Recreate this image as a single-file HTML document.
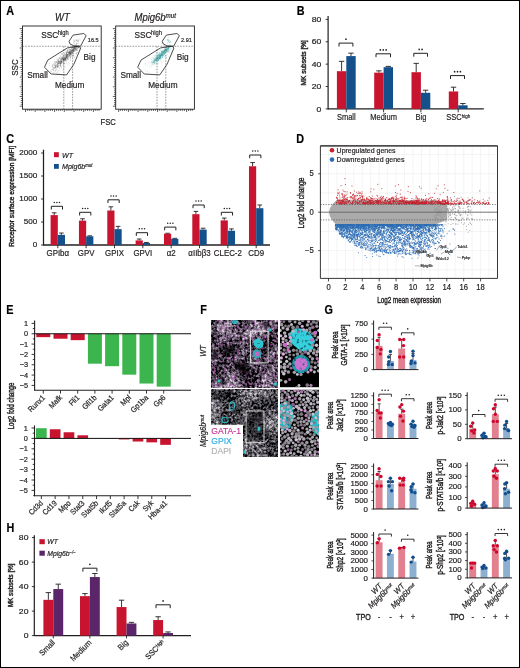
<!DOCTYPE html>
<html><head><meta charset="utf-8"><title>Figure</title>
<style>html,body{margin:0;padding:0;background:#fff;width:520px;height:668px;overflow:hidden}
svg{display:block;font-family:"Liberation Sans", sans-serif;-webkit-font-smoothing:antialiased;will-change:transform} text{stroke:#231f20;stroke-width:.2px}</style></head>
<body><svg width="520" height="668" viewBox="0 0 520 668" fill="#231f20">
<defs>
<filter id="nz1" x="0" y="0" width="100%" height="100%" color-interpolation-filters="sRGB">
 <feTurbulence type="fractalNoise" baseFrequency="0.4" numOctaves="2" seed="3" result="hi"/>
 <feTurbulence type="fractalNoise" baseFrequency="0.05" numOctaves="2" seed="21" result="lo"/>
 <feColorMatrix in="hi" type="matrix" values="1 0 0 0 0 1 0 0 0 0 1 0 0 0 0 0 0 0 0 1" result="hi2"/>
 <feColorMatrix in="lo" type="matrix" values="1 0 0 0 0 1 0 0 0 0 1 0 0 0 0 0 0 0 0 1" result="lo2"/>
 <feComposite in="hi2" in2="lo2" operator="arithmetic" k1="0" k2="1" k3="0.8" k4="-0.36" result="mix"/>
 <feComponentTransfer in="mix">
  <feFuncR type="discrete" tableValues="0 0 0 0.04 0.2 0.35 0.49 0.63 0.77 0.9"/>
  <feFuncG type="discrete" tableValues="0 0 0 0.03 0.17 0.3 0.43 0.56 0.7 0.84"/>
  <feFuncB type="discrete" tableValues="0 0 0 0.05 0.22 0.37 0.51 0.65 0.78 0.9"/>
 </feComponentTransfer>
</filter>

<filter id="nz2" x="0" y="0" width="100%" height="100%" color-interpolation-filters="sRGB">
 <feTurbulence type="fractalNoise" baseFrequency="0.42" numOctaves="2" seed="8" result="hi"/>
 <feTurbulence type="fractalNoise" baseFrequency="0.05" numOctaves="2" seed="33" result="lo"/>
 <feColorMatrix in="hi" type="matrix" values="1 0 0 0 0 1 0 0 0 0 1 0 0 0 0 0 0 0 0 1" result="hi2"/>
 <feColorMatrix in="lo" type="matrix" values="1 0 0 0 0 1 0 0 0 0 1 0 0 0 0 0 0 0 0 1" result="lo2"/>
 <feComposite in="hi2" in2="lo2" operator="arithmetic" k1="0" k2="1" k3="0.6" k4="-0.26" result="mix"/>
 <feComponentTransfer in="mix">
  <feFuncR type="discrete" tableValues="0 0 0 0.04 0.19 0.32 0.45 0.59 0.73 0.86"/>
  <feFuncG type="discrete" tableValues="0 0 0 0.04 0.18 0.31 0.44 0.58 0.72 0.85"/>
  <feFuncB type="discrete" tableValues="0 0 0 0.05 0.21 0.34 0.47 0.61 0.74 0.87"/>
 </feComponentTransfer>
</filter>

<filter id="bl1" x="-50%" y="-50%" width="200%" height="200%"><feGaussianBlur stdDeviation="0.9"/></filter>
<filter id="bl2" x="-50%" y="-50%" width="200%" height="200%"><feGaussianBlur stdDeviation="0.5"/></filter>
<filter id="bl3" x="-50%" y="-50%" width="200%" height="200%"><feGaussianBlur stdDeviation="1.6"/></filter>
<filter id="tx" x="-20%" y="-20%" width="140%" height="140%" color-interpolation-filters="sRGB">
 <feGaussianBlur in="SourceGraphic" stdDeviation="0.7" result="b"/>
 <feTurbulence type="fractalNoise" baseFrequency="0.3" numOctaves="2" seed="5" result="n"/>
 <feColorMatrix in="n" type="matrix" values="0 0 0 0 0  0 0 0 0 0  0 0 0 0 0  2.4 0 0 0 -0.1" result="a"/>
 <feComposite in="b" in2="a" operator="in"/>
</filter>
<filter id="mg" x="0" y="0" width="100%" height="100%" color-interpolation-filters="sRGB">
 <feTurbulence type="fractalNoise" baseFrequency="0.3" numOctaves="1" seed="41"/>
 <feColorMatrix type="matrix" values="0 0 0 0 0.7  0 0 0 0 0.28  0 0 0 0 0.68  5 0 0 0 -3.05"/>
</filter>
<filter id="mg2" x="0" y="0" width="100%" height="100%" color-interpolation-filters="sRGB">
 <feTurbulence type="fractalNoise" baseFrequency="0.3" numOctaves="1" seed="77"/>
 <feColorMatrix type="matrix" values="0 0 0 0 0.66  0 0 0 0 0.38  0 0 0 0 0.64  5 0 0 0 -3.45"/>
</filter>
</defs>
<rect x="0" y="0" width="520" height="668" fill="#fff"/>
<text font-size="11.86" font-weight="bold" fill="#000" transform="translate(6.3 14.6) scale(0.912 1)">A</text>
<path d="M59.34 63.29h.6M54.89 66.71h.6M70.48 52.96h.6M68.54 54.21h.6M55.27 67.1h.6M76.88 47.83h.6M73.28 47.89h.6M58.44 57.91h.6M71.97 50.91h.6M66.17 61.4h.6M62.69 57.52h.6M67.83 56.06h.6M60.53 62.28h.6M65.2 59.02h.6M63.51 58.19h.6M75.11 48.12h.6M62.66 59.18h.6M59.98 62.58h.6M73.68 49.59h.6M56.27 66.22h.6M70.31 52.01h.6M67.37 58.67h.6M73.1 50.55h.6M66.94 58.99h.6M55.16 65.94h.6M63.69 57.18h.6M65.53 55.08h.6M63.96 59.85h.6M57 62.49h.6M60.16 62.12h.6M63.49 62.06h.6M53.11 64.34h.6M58.16 60.31h.6M75.16 50.87h.6M68.74 47.61h.6M55.84 61.68h.6M57.9 64.58h.6M61.43 61.94h.6M59.33 63.36h.6M62.91 59.22h.6M73.22 54.28h.6M62.5 58.83h.6M74.6 56.82h.6M55.93 65.04h.6M72.21 50.58h.6M63.92 59.7h.6M65.9 55.71h.6M65.32 58.45h.6M60.34 61.2h.6M69.7 52.03h.6M74.32 46.63h.6M76.37 53.22h.6M64 59.82h.6M57.67 66.08h.6M69.71 55.72h.6M74.27 48.94h.6M61.73 62.99h.6M67.03 55.74h.6M59.7 58.1h.6M73.86 46.37h.6M56.02 65.15h.6M55.58 62.61h.6M68.21 58.69h.6M69.45 54.65h.6M53.97 72.41h.6M51.68 66.65h.6M58.5 63.4h.6M76.65 47.31h.6M63.86 59.19h.6M53.64 70.33h.6M66.24 54.96h.6M67.27 50.2h.6M71.59 51.45h.6M68.97 52.74h.6M65.48 54.21h.6M66.78 57.68h.6M56.87 59.04h.6M71.56 52.33h.6M65.67 56.32h.6M61.97 54.63h.6M66 57.87h.6M66.26 52.64h.6M66.37 52.71h.6M52.83 69.53h.6M61.48 59.41h.6M64.89 56.33h.6M65.17 55.79h.6M64.35 54.22h.6M58.34 65.61h.6M57.18 63.62h.6M66.17 57.28h.6M64.73 59h.6M75.52 48.62h.6M70.81 53.09h.6M70.89 50.34h.6M70.04 54.29h.6M66.35 63.37h.6M54.44 62h.6M71.22 50.94h.6M74.7 48.69h.6M60.9 63.85h.6M67.1 51.43h.6M66.29 58.44h.6M61.95 61.5h.6M74.13 51.63h.6M56.54 62.4h.6M55.38 65.62h.6M61.44 57.84h.6M52.79 70.17h.6M61.85 56.92h.6M64.87 49.89h.6M66.9 58.78h.6M59.1 62.68h.6M72.83 49.68h.6M63.8 59.99h.6M53.3 67.29h.6M77.42 50.05h.6M70.75 51.75h.6M68.14 48.82h.6M69.25 51.8h.6M57.58 67.43h.6M71.24 53.98h.6M58.46 59.5h.6M61.24 63.26h.6M53.9 64.16h.6M77.89 47.83h.6M69.28 53.23h.6M62.17 53.56h.6M71.49 50.49h.6M66.19 59.68h.6M66.77 52.45h.6M57.19 61.16h.6M68.1 55.06h.6M74.53 49.65h.6M59.95 57.66h.6M72.89 50.17h.6M54.08 67.39h.6M53.95 61.92h.6M63.12 58.95h.6M65.65 58.67h.6M70.48 57.03h.6M60.01 66.59h.6M64.02 56.7h.6M52.83 72.65h.6M63.43 59.39h.6M75.41 49.5h.6M66.07 55.31h.6M73.45 50.36h.6M69.4 52.32h.6M60.33 61.81h.6M66.23 56.31h.6M65.64 57.71h.6M64.73 58.17h.6M77.61 47.85h.6M71.73 50.5h.6M65.14 58.82h.6M57.13 60.13h.6M60.56 58.62h.6M65.84 57.49h.6M70.32 53.94h.6M71.59 47.84h.6M73.14 49.07h.6M73.59 50.21h.6M61.96 58.26h.6M76.31 44.59h.6M66.41 54.15h.6M66.17 55.99h.6M62.83 59.74h.6M56.62 66.14h.6M71.58 48.89h.6M65.98 56.75h.6M68.31 53.56h.6M69.06 54.94h.6M69.76 51.61h.6M55.06 66.97h.6M59.85 61.46h.6M58.77 61.46h.6M69.29 54.05h.6M53.18 68.53h.6M60.35 63.45h.6M75.98 53.94h.6M58.45 60.81h.6M66.1 56.64h.6M66.26 55.13h.6M51.96 64.68h.6M66.27 52.3h.6M66.9 56.4h.6M52.54 67.26h.6M74.16 48.25h.6M66.15 59.8h.6M66.39 53.75h.6M70.97 51.27h.6M65.93 56h.6M65.7 56.53h.6M68.65 53.12h.6M58.63 63.44h.6M76.96 47.93h.6M57.49 60.38h.6M70.25 53.65h.6M72.38 48.46h.6M71.24 54.41h.6M66.22 55.26h.6M67.23 56.94h.6M75.91 47.28h.6M71.07 52.43h.6M76.44 48.25h.6M58.08 66.63h.6M63.28 56.12h.6M68.77 55.14h.6M65.75 54.55h.6M75.79 48.15h.6M60.64 60.49h.6M69.55 54.96h.6M71.78 51.01h.6M69.94 55.17h.6M74.27 47.76h.6M66.61 56.36h.6M70.47 54.92h.6M65.34 59.73h.6M76.54 46.81h.6M57.25 65.24h.6M76.19 47.18h.6M76.22 46.86h.6M69.67 52.49h.6M69.26 51.51h.6M75.92 53.15h.6M76.6 48.67h.6M67.45 49.62h.6M67.11 51.93h.6M73.25 49.04h.6M55.59 65.09h.6M59.42 58.93h.6M50.15 70.89h.6M74.87 49.85h.6M65.33 59.21h.6M70.04 56.19h.6M70.21 49.73h.6M66.05 53.24h.6M76.06 43.79h.6M54.03 68.19h.6M61.45 60.9h.6M63.31 59.64h.6M70.34 50.46h.6M55.17 66.86h.6M69.59 52.45h.6M68.96 56h.6M69.92 53.59h.6M75.17 49.79h.6M75.51 48.72h.6M64.86 58.28h.6M63.72 57.49h.6M60.38 62.82h.6M69.49 51.72h.6M65.76 57.64h.6M68.61 52.64h.6M73.67 51.23h.6M75.84 47.78h.6M65.25 58.26h.6M63.38 61.91h.6M54.48 64.05h.6M52.18 66.8h.6M66.08 52.88h.6M63.88 60.77h.6M64 57.14h.6M62.53 58.31h.6M63.65 60.64h.6M56.38 69.8h.6M60.41 64.06h.6M66.2 57.71h.6M69.93 53.33h.6M63.32 59.94h.6M59.59 61.25h.6M61.93 59.44h.6M61.92 57.98h.6M57.18 64.92h.6M60.9 59.21h.6M76.66 46.19h.6M61.97 59.08h.6M70.98 50.65h.6M65.61 57.82h.6M73.62 48.15h.6M64.94 59h.6M61.12 58.97h.6M71.43 50.03h.6M73.65 45.94h.6M67.44 55.96h.6M53.58 63.85h.6M75.94 50.12h.6M68.4 54.67h.6M63.11 59.64h.6M59.98 60.7h.6M63.08 63.26h.6M57.99 61.61h.6M62.44 57.34h.6M70.96 51.9h.6M76.06 50.51h.6M61.46 62.47h.6M57.14 63.98h.6M59.68 65.01h.6M68.88 55.49h.6M67.82 59.67h.6M58.49 63.44h.6M58.7 62.13h.6M75.59 49.99h.6M60.73 59.67h.6M67.34 54.71h.6M57.05 66.94h.6M62.78 63.44h.6M73.4 52.93h.6M73.72 49.01h.6M72.01 51.98h.6M54.55 68.39h.6M58.18 66.34h.6M61.59 59.06h.6M65.18 58.22h.6M73.16 48.15h.6M72.57 52.91h.6M66.58 57.6h.6M67.47 56.83h.6M54.7 65.73h.6M62.94 62.4h.6M64.07 59.62h.6M64.22 59.69h.6M73.13 53.52h.6M69.06 49.93h.6M70.66 52.71h.6M73.45 55.28h.6M68.42 54.06h.6M65.02 59.36h.6M63.3 59.33h.6M67.78 51.66h.6M58.32 61.57h.6M62.54 59.77h.6M65.55 58.27h.6M70.06 50.86h.6M65.15 52.75h.6M64.11 58.71h.6M69.3 55.5h.6M76.14 43.75h.6M67.4 50.57h.6M61.44 59.93h.6M69.75 51.14h.6M60.8 59.32h.6M74.34 47.58h.6M71.7 51.5h.6M75.94 45.59h.6M61.82 53.83h.6M64.12 63.43h.6M58.54 62.21h.6M58.55 60.83h.6M60.13 65.36h.6M56.17 61.75h.6M70 49.87h.6M66.66 56.34h.6M70.37 53.58h.6M72.91 50.35h.6M67.07 55.75h.6M78.55 47.28h.6M71.77 52.74h.6M57.64 64.02h.6M60.94 62.2h.6M76.95 46.87h.6M55.04 67.32h.6M69.79 53.15h.6M52.5 65.72h.6M62.36 59.32h.6M60.76 61.04h.6M75.14 45.52h.6M70.76 52.58h.6M66.36 56.02h.6M72.99 55.62h.6M72.84 50.39h.6M71.12 48.57h.6M69.43 56.16h.6M72.53 50.61h.6M73.55 48.05h.6M67.11 54.87h.6M76.71 49.93h.6M69.09 53.5h.6M72.92 51.32h.6M56.11 61.65h.6M70.26 52.82h.6M61.09 62.05h.6M76.44 45.31h.6M78.32 47.33h.6M60 66.11h.6M67.39 54.92h.6M76.37 49.36h.6M65.88 56.65h.6M66.6 53.91h.6M72.77 55.77h.6M63.43 65.26h.6M59.74 63.54h.6M70.95 51.97h.6M75.71 45.76h.6M70.58 53.6h.6M55.5 68.14h.6M74.58 47.93h.6M57.45 66.9h.6M69.3 55.91h.6M66.92 56.79h.6M67.75 54.53h.6M51.51 69.67h.6M69.94 60.52h.6M74.47 47.21h.6M70.79 56.28h.6M60.81 61.64h.6M67.15 54.71h.6M67.45 54.66h.6M65 57.96h.6M70.53 53.02h.6M61.8 61.96h.6M69.91 54.37h.6M62.89 56.6h.6M74.64 48.35h.6M58.4 63.45h.6M71.52 54.07h.6M59.93 65.86h.6M78.6 47.15h.6M60.57 65.37h.6M74.15 46.65h.6M65.88 54.04h.6M69.82 53.27h.6M65.99 60.37h.6M69.02 54.54h.6M57.11 70.68h.6M69.68 53.41h.6M55.53 69.84h.6M56 66.92h.6M67.68 59.77h.6M61.78 60.72h.6M56.7 64.07h.6M63.71 58.86h.6M66.36 53.58h.6M63.22 63.21h.6M59.21 61.41h.6M67.36 54.52h.6M63.15 60.84h.6M77.3 50.57h.6M63.52 57.55h.6M67.44 54.75h.6M53.09 67.6h.6M76.82 47.14h.6M72.56 47.14h.6M58.46 59.45h.6M72.79 51.36h.6M70.4 57.56h.6M62.1 58.58h.6M73.25 49.71h.6M72.11 47.71h.6M61.44 62.04h.6M68.2 55.42h.6M63.08 59.99h.6M72.77 49.32h.6M74.84 48.06h.6M70.55 53.95h.6M74.05 50.53h.6M67.59 55.29h.6M63.18 62.43h.6M71.96 46.98h.6M64.03 58.3h.6M74.55 50.72h.6M61.39 58.24h.6M72.97 50.81h.6M66.98 54.92h.6M73.77 46.84h.6M72.72 51.29h.6M75.78 49.88h.6M70.73 51.45h.6M55.04 70.5h.6M64.31 58.27h.6M67.73 57.13h.6M72.05 52.11h.6M65.4 61.03h.6M67.4 52.25h.6M71.82 52.97h.6M59.54 61.66h.6M66.65 54.69h.6M53.89 68.35h.6M73.36 49.83h.6M66.78 50.61h.6M78.76 47.71h.6M73.19 48.58h.6M68.77 50.08h.6M65.16 60.13h.6M70.32 49.44h.6M57.49 66.15h.6M65.31 60.47h.6M60.98 61.25h.6M54.89 67.45h.6M73.76 50.96h.6M75.34 46.9h.6M61.22 61.19h.6M57 72.37h.6M68.27 52.34h.6M56.01 66.02h.6M75.7 49.67h.6M54.98 65.33h.6M73.36 50.55h.6M61.01 61.44h.6M65.86 57h.6M61.41 60.97h.6M67.42 57.19h.6M74.75 47.79h.6M57.71 65.22h.6M69.22 49.58h.6M49.01 63.3h.6M58.96 58h.6M64.12 59.5h.6M74.26 47.51h.6M58.81 62.25h.6M63.44 58h.6M69.03 49.69h.6M72.99 50.1h.6M61.15 62.81h.6M67.83 58.75h.6M72.99 53.3h.6M57.69 63.64h.6M60.27 64.15h.6M58.86 65.4h.6M71.71 50.41h.6M64.39 54.68h.6M63.71 59.57h.6M72.77 53.76h.6M70.16 53.72h.6M55.38 71.55h.6M54.59 65.34h.6M64.82 59.47h.6M68.54 52.63h.6M69.19 51.4h.6M57.97 63.16h.6M60.63 68.16h.6M72.05 50.06h.6M74.02 49.16h.6M69.39 53.06h.6M67.12 56.9h.6M74.93 48.4h.6M58.97 62.46h.6M63.47 57.87h.6M79.11 48.76h.6M61.76 62.59h.6M60.14 59.9h.6M67.75 51.03h.6M63.2 59.78h.6M76.38 49.25h.6M75.18 45.33h.6M68.25 57.39h.6M74.21 51.14h.6M60.36 63.67h.6M71.43 53.56h.6M68.43 51.63h.6M67.99 56.66h.6M58.9 62.53h.6M69.38 58.13h.6M71.96 53.46h.6M60.2 61.14h.6M75.55 45.93h.6M64.31 54.01h.6M76.86 46.31h.6M55.68 61.92h.6M59.96 63.14h.6M70.04 50.94h.6M62.92 61.47h.6M67.49 53.12h.6M64.53 57.83h.6M57.4 66.35h.6M61.11 57.33h.6M60.09 63.02h.6M61.25 53.45h.6M62.44 58.02h.6M70.16 53.69h.6M52.58 69.32h.6M69.43 52.88h.6M63.04 65.3h.6M68.34 52.36h.6M73.21 51.55h.6M65.77 54.85h.6M56.71 59.36h.6M57.07 67.02h.6M63.47 59.99h.6M55.18 64.08h.6M78.49 47.22h.6M72.22 47.44h.6M75.43 48.52h.6M69.68 52.95h.6M65.51 59.33h.6M60.95 54.38h.6M62.14 60.46h.6M75.48 47.14h.6M61.47 66h.6M66.52 51.04h.6M73.07 51.75h.6M53.5 70.27h.6M71.14 49.93h.6M52.53 69.13h.6M62.53 56.85h.6M73.81 48.02h.6M69.37 51.22h.6M57.45 66.47h.6M68.59 53.17h.6M68.33 53.02h.6M62.86 59.7h.6M72.03 51.82h.6M65.82 55.76h.6M74.55 48.16h.6M54.23 65.61h.6M56.92 67.41h.6M71.51 52.57h.6M73.12 49.57h.6M70.57 52.33h.6M69.06 52.61h.6M70.05 51.29h.6M58.37 62.05h.6M71.23 54.01h.6M65.07 60.56h.6M77.12 48.61h.6M58.4 61.72h.6M65.89 55.52h.6M57.47 64.72h.6M61.66 58.21h.6M70.3 52.1h.6M75.82 46.66h.6M68.55 53.26h.6M64.43 57.69h.6M53.11 65.87h.6M61.65 61.38h.6M75.35 47.72h.6M66.91 52.39h.6M57.38 62.37h.6M74.52 49.19h.6M60.17 64.31h.6M54.87 67.26h.6M58.35 62.27h.6M64.42 63.56h.6M78.1 46.78h.6M59.95 64.36h.6M63.53 59.82h.6M64.22 60.62h.6M59.95 58.65h.6M74.54 44.66h.6M72.66 45.51h.6M69.84 53.39h.6M60.74 62.99h.6M60.77 60.7h.6M69.45 54.26h.6M65.23 58.32h.6M67.23 57.88h.6M68.05 56.52h.6M57.68 64.14h.6M59.89 63.11h.6M70.7 49.02h.6M63.97 67.64h.6M74.25 47.67h.6M60.44 56.58h.6M60.6 63.55h.6M64.52 63.07h.6M71.43 47.8h.6M72.14 50.99h.6M63.13 68.15h.6M58.16 61.72h.6M64.77 65.97h.6M77.49 52.82h.6M70.6 57.12h.6M78.06 47.39h.6M67.55 64.78h.6M77.52 52.25h.6M61.12 67.57h.6M69.87 57.03h.6M79.91 46.39h.6M58.85 73.15h.6M58.64 61.11h.6M70.95 55.48h.6M59.21 68.23h.6M50.28 72.23h.6M62.98 55.71h.6M78.66 47.77h.6M62.65 64.94h.6M56.44 73.32h.6M64.88 57.71h.6M62.9 54.94h.6M73.18 47.97h.6M59.45 70.04h.6M49.25 65.13h.6M60.44 55.6h.6M64.29 58.75h.6M54.8 61.72h.6M73.46 51h.6M57.36 63.15h.6M74.41 57.39h.6M70.41 59.45h.6M64.47 55.77h.6M58.34 70.81h.6M50.9 71.53h.6M63.07 68.81h.6M70.06 58.08h.6M57.42 63.22h.6M72.06 56.43h.6M52.24 65.11h.6M67.27 58.51h.6M78.45 46.92h.6M56.07 68.5h.6M68.79 63.85h.6M75.89 54.06h.6M74.97 46.88h.6M65.7 54.33h.6M72.57 49.31h.6M63.53 56.03h.6M65.53 51.19h.6M68.01 62.67h.6M62.13 70.04h.6M73.1 56.11h.6M55.13 63.29h.6M59.12 58h.6M76.08 40.33h.6M77.29 41.2h.6M75.19 40.12h.6M77.99 40.2h.6M73.95 40.46h.6M78.37 41.81h.6M73.58 39.78h.6M74.1 43.72h.6M73.26 42.18h.6M78.37 41.02h.6M77.02 40.6h.6M76.33 41h.6M73.77 43.08h.6M76.52 43.16h.6M76.42 39.94h.6M77.86 39.75h.6M74.48 41.74h.6M77.62 43.5h.6M76.5 40.07h.6M76.95 41.3h.6M74.67 41.88h.6M78.82 40.01h.6M77.86 43.76h.6M80.42 40.08h.6M73.41 41h.6" stroke="#2a2a2a" stroke-width="0.7" stroke-opacity="0.38" fill="none"/>
<rect x="22.5" y="26" width="78.7" height="83.2" fill="none" stroke="#231f20" stroke-width="0.9"/>
<path d="M22.5 106.2h-2.8M22.5 104.3h-1.7M22.5 102.4h-1.7M22.5 100.5h-1.7M22.5 98.6h-1.7M22.5 96.5h-2.8M22.5 94.6h-1.7M22.5 92.7h-1.7M22.5 90.8h-1.7M22.5 88.9h-1.7M22.5 86.8h-2.8M22.5 84.9h-1.7M22.5 83h-1.7M22.5 81.1h-1.7M22.5 79.2h-1.7M22.5 77.1h-2.8M22.5 75.2h-1.7M22.5 73.3h-1.7M22.5 71.4h-1.7M22.5 69.5h-1.7M22.5 67.4h-2.8M22.5 65.5h-1.7M22.5 63.6h-1.7M22.5 61.7h-1.7M22.5 59.8h-1.7M22.5 57.7h-2.8M22.5 55.8h-1.7M22.5 53.9h-1.7M22.5 52h-1.7M22.5 50.1h-1.7M22.5 48h-2.8M22.5 46.1h-1.7M22.5 44.2h-1.7M22.5 42.3h-1.7M22.5 40.4h-1.7M22.5 38.3h-2.8M22.5 36.4h-1.7M22.5 34.5h-1.7M22.5 32.6h-1.7M22.5 30.7h-1.7M22.5 28.6h-2.8M25.5 109.2v2.8M27.4 109.2v1.7M29.3 109.2v1.7M31.2 109.2v1.7M33.1 109.2v1.7M35.2 109.2v2.8M37.1 109.2v1.7M39 109.2v1.7M40.9 109.2v1.7M42.8 109.2v1.7M44.9 109.2v2.8M46.8 109.2v1.7M48.7 109.2v1.7M50.6 109.2v1.7M52.5 109.2v1.7M54.6 109.2v2.8M56.5 109.2v1.7M58.4 109.2v1.7M60.3 109.2v1.7M62.2 109.2v1.7M64.3 109.2v2.8M66.2 109.2v1.7M68.1 109.2v1.7M70 109.2v1.7M71.9 109.2v1.7M74 109.2v2.8M75.9 109.2v1.7M77.8 109.2v1.7M79.7 109.2v1.7M81.6 109.2v1.7M83.7 109.2v2.8M85.6 109.2v1.7M87.5 109.2v1.7M89.4 109.2v1.7M91.3 109.2v1.7M93.4 109.2v2.8M95.3 109.2v1.7M97.2 109.2v1.7M99.1 109.2v1.7" stroke="#231f20" stroke-width="0.7" fill="none"/>
<line x1="22.5" y1="46.25" x2="101.2" y2="46.25" stroke="#555" stroke-width="0.6" stroke-dasharray="1.6 1.2"/>
<line x1="63.8" y1="46.25" x2="63.8" y2="109.2" stroke="#555" stroke-width="0.6" stroke-dasharray="1.6 1.2"/>
<line x1="72.6" y1="46.25" x2="72.6" y2="109.2" stroke="#555" stroke-width="0.6" stroke-dasharray="1.6 1.2"/>
<polygon points="44.5,67.2 47.8,60.1 67.4,47.9 78.8,46.2 80.8,47.9 73.9,64.2 66.6,74.9 51.1,74" fill="none" stroke="#231f20" stroke-width="0.8" stroke-linejoin="round"/>
<polygon points="69,41.3 73.1,35.1 83.7,33.5 86.2,35.6 80.5,46.2 73.9,45.9 69.9,43.8" fill="none" stroke="#231f20" stroke-width="0.8" stroke-linejoin="round"/>
<text font-size="9.04" transform="translate(41.2 37.9) scale(0.912 1)">SSC</text>
<text font-size="6.33" transform="translate(57.8 35) scale(0.912 1)">high</text>
<text font-size="6.1" transform="translate(87.8 42.2) scale(0.912 1)">16.5</text>
<text font-size="9.04" transform="translate(27.2 78.2) scale(0.912 1)">Small</text>
<text font-size="9.04" transform="translate(55 88.1) scale(0.912 1)">Medium</text>
<text font-size="9.04" transform="translate(83.6 60) scale(0.912 1)">Big</text>
<path d="M162.49 51.36h.6M156.42 57.21h.6M161.44 55.96h.6M168.6 46.48h.6M159.48 57.41h.6M166.25 46.47h.6M160.97 55.68h.6M165.52 48.5h.6M167.73 50.62h.6M162.28 57.54h.6M159.39 56.87h.6M154 63.18h.6M164.61 48.89h.6M159 56.2h.6M164.33 51.53h.6M155.77 62.03h.6M152.82 62.57h.6M157.64 58.54h.6M165.83 49.78h.6M165.85 50.84h.6M159.53 55.67h.6M154.99 60.15h.6M168.13 46.22h.6M166.33 48.28h.6M157.39 58.69h.6M158.36 58.7h.6M158.9 58.76h.6M167.14 49.43h.6M159.65 55.8h.6M165.38 50.88h.6M152.64 62.44h.6M157.33 58.01h.6M168.59 48.53h.6M150.89 62.51h.6M159.86 57.83h.6M158.21 53.03h.6M165.27 52.9h.6M159.97 58.08h.6M165.77 50.25h.6M163.66 51.47h.6M163.67 54.53h.6M162.42 54.05h.6M160.77 55.98h.6M159.74 54.9h.6M151.78 63.89h.6M157.8 57.68h.6M166.6 48.35h.6M157.36 56.65h.6M158.48 56.53h.6M154.75 59.52h.6M166.84 49.11h.6M163.23 52.9h.6M160.63 51.33h.6M155.82 58.66h.6M162.13 55.7h.6M164.48 49.39h.6M163.55 51.41h.6M158.92 57.83h.6M166.62 48.88h.6M156.17 60.15h.6M167.11 51.54h.6M155.92 55.94h.6M165.46 49.14h.6M159.07 58.44h.6M159.95 58.84h.6M162.55 51.45h.6M163.75 53.27h.6M158.21 58.02h.6M156.66 59.09h.6M156.56 58.66h.6M160.42 50.06h.6M160.68 59.96h.6M162.33 55.02h.6M166.26 47.43h.6M154 60.84h.6M165.14 52.91h.6M156.8 60.33h.6M155.16 62.58h.6M161.15 54.78h.6M156.48 59.96h.6M168.27 48.27h.6M160.3 57.6h.6M165.95 51.61h.6M162.73 53.07h.6M160.02 55.13h.6M159.75 56.09h.6M157.54 61.82h.6M154.23 60.23h.6M158.42 59.59h.6M162.81 55.09h.6M155.26 58.07h.6M162.47 54.03h.6M155.19 58.33h.6M154.59 58.51h.6M168.43 47.18h.6M160.37 56.8h.6M167.24 50.79h.6M163.9 53.29h.6M155.25 60.5h.6M161.75 54.7h.6M164.4 51.88h.6M154.48 60.63h.6M157.37 58.19h.6M155.62 58.93h.6M159.34 55.93h.6M167 48.72h.6M161.86 53.1h.6M160.26 55.01h.6M168.72 46.28h.6M152.31 59.93h.6M153.73 63.58h.6M165.61 50.61h.6M164.65 50.2h.6M166.65 50.59h.6M163.45 49.17h.6M164.78 55.88h.6M167.88 48.01h.6M161.91 54.2h.6M161.13 54.72h.6M167.13 43.27h.6M165.25 51.75h.6M161.34 52.28h.6M162.44 50.32h.6M152.09 58.36h.6M159.5 55.55h.6M164.43 52.65h.6M167.05 51.58h.6M168.44 46.49h.6M166.96 50.92h.6M160.76 55.8h.6M156.6 63.81h.6M165.49 49.98h.6M157.59 57.74h.6M157.82 59.49h.6M155.6 60.33h.6M167.89 51.68h.6M164.18 53.6h.6M160.05 53.13h.6M154.53 64.3h.6M162.56 55.45h.6M169.59 45.89h.6M163.96 52.31h.6M156.49 59.87h.6M152.95 61.48h.6M166.68 50.96h.6M160.78 55.36h.6M169.01 50.49h.6M166.11 52.22h.6M162.25 51.85h.6M156.15 57.36h.6M154.63 61.27h.6M167.98 49.73h.6M155.16 59.61h.6M159.43 57.9h.6M157.71 56.75h.6M162.1 53.29h.6M160.97 54.91h.6M166.46 49.63h.6M160.99 53.99h.6M158.05 58.98h.6M162.3 56.34h.6M155.11 60.74h.6M150.6 58.82h.6M159.83 58.28h.6M161.3 52.45h.6M160.7 61.32h.6M168.34 49.76h.6M167.3 49.05h.6M158.08 55.51h.6M163.84 54.94h.6M164.45 50.97h.6M159.58 55.21h.6M153.3 65.05h.6M158.38 55.7h.6M162.7 54.1h.6M160.78 54.63h.6M163.98 51.8h.6M156.5 60.17h.6M161.12 56.37h.6M158.79 58.79h.6M154.34 60.36h.6M171.48 46.76h.6M156.39 53.39h.6M163.55 47.59h.6M162.31 52.44h.6M155.54 60.2h.6M164.13 51.76h.6M153.41 62.27h.6M161.32 51.22h.6M165.34 46.47h.6M163.74 53.49h.6M164.12 49.95h.6M164.45 54.26h.6M153.96 56.49h.6M158.23 59.34h.6M163.71 52.16h.6M161.64 51.67h.6M157.99 58.9h.6M168.13 47.17h.6M154.26 61.97h.6M168.75 47.36h.6M163.21 51.04h.6M164.21 53.2h.6M166.52 48.74h.6M153.23 60.63h.6M162 54.13h.6M167.14 49.56h.6M162.11 54.49h.6M155.53 55.79h.6M169.55 49.75h.6M157.78 60.14h.6M158.81 58.04h.6M161 52.87h.6M160.07 57.22h.6M161.83 51.96h.6M168.04 48.89h.6M157.41 58.19h.6M165.38 52.72h.6M163.71 54.23h.6M153.39 62.13h.6M167.35 46.05h.6M167.26 46.51h.6M151.29 62.86h.6M159.05 53.09h.6M157.21 60.6h.6M161.11 52.59h.6M165.49 48.12h.6M155.59 59.42h.6M159.56 60.08h.6M161.07 51.69h.6M159.1 57.8h.6M156.89 63.67h.6M157.34 55.6h.6M162.67 55.96h.6M165.42 49.31h.6M151.16 61.79h.6M165.26 51.59h.6M161.89 51.23h.6M152.21 64.15h.6M152.39 62.21h.6M165.33 49.6h.6M168.08 46.35h.6M157.69 58.94h.6M158.66 57.51h.6M161.27 53.41h.6M161.11 54.19h.6M158.13 60.42h.6M160.02 56.05h.6M163.36 53.46h.6M170.07 47.84h.6M158.38 54.2h.6M156.95 54.17h.6M157.83 54.7h.6M160.08 56.64h.6M161.13 54.15h.6M168.17 48.31h.6M169.07 46.79h.6M167.18 46.42h.6M163.77 50.43h.6M169.21 46.58h.6M157.42 56.97h.6M157.78 59.82h.6M160.76 53.49h.6M161.55 55.25h.6M168.02 48.43h.6M160.71 55.43h.6M170.14 46.19h.6M159.31 56.75h.6M162.52 55.47h.6M168.99 51.32h.6M165.23 52.23h.6M164.66 52.84h.6M160.37 56.68h.6M163.27 52.18h.6M164.17 54.14h.6M153.67 60.9h.6M168.69 46.83h.6M159.83 50.32h.6M164.75 52.46h.6M152.74 61.43h.6M160.15 53.67h.6M167.77 50.69h.6M155.24 55.63h.6M154.96 58.81h.6M157.9 57.05h.6M164.47 56.66h.6M154.66 60.39h.6M159.91 55.71h.6M160.49 58.42h.6M161.64 57.36h.6M165.53 47.94h.6M159.78 55.23h.6M161.83 55.35h.6M156.33 59.26h.6M161.81 52.1h.6M154.04 60.4h.6M164.2 51.83h.6M161.73 51.2h.6M157.43 60h.6M163.46 51.19h.6M165.8 49.26h.6M158.81 57.51h.6M158.86 57.41h.6M160.06 55.41h.6M158.98 58.68h.6M160.8 54.14h.6M164.92 50.8h.6M162.26 56.02h.6M153.22 59.7h.6M168.53 46.96h.6M158.45 58.02h.6M166.64 52.13h.6M168.23 47.13h.6M152.5 62.53h.6M153.33 61.99h.6M159.14 55.28h.6M158.89 58.89h.6M162.12 56.76h.6M166.92 54.51h.6M167.63 48.63h.6M158.97 59.11h.6M163.19 51.99h.6M164.96 50.12h.6M162.17 55.28h.6M166.16 49.82h.6M156.52 59.43h.6M157.55 56.5h.6M158.75 54.12h.6M156.34 60.98h.6M161.84 57.36h.6M157.76 58.15h.6M166.92 51.9h.6M163.37 52.22h.6M159.49 54.68h.6M168.36 48.06h.6M158.38 60.22h.6M164.22 50.39h.6M159.07 58.37h.6M160.49 57.14h.6M157.17 56.12h.6M162.74 50.84h.6M160.3 56.39h.6M156.29 59.74h.6M154.44 58.84h.6M154.93 62.62h.6M164.75 49.54h.6M162.3 55.12h.6M163.49 50.84h.6M156.11 58.11h.6M157.5 55.53h.6M156.03 60.98h.6M159.64 58.59h.6M163.24 52.82h.6M165.72 56.54h.6M158.47 57.15h.6M161.42 55.05h.6M160.23 57.46h.6M157.81 60.17h.6M158.48 55.68h.6M155.18 59.85h.6M160.45 57.07h.6M164.9 52.62h.6M160.08 53.63h.6M156.74 57.76h.6M156.56 58.01h.6M159.09 55.55h.6M165.94 49.78h.6M159.86 55.09h.6M161.15 54.07h.6M166.21 47.85h.6M168.52 47.37h.6M162.42 53.37h.6M170.37 45.28h.6M157.85 57.05h.6M156.11 58.86h.6M155.59 59.91h.6M165.51 49.2h.6M153.75 63.03h.6M159.57 53.27h.6M163.42 53.01h.6M158.41 55.71h.6M166.34 50.75h.6M155.61 56.93h.6M151.57 61.29h.6M153.1 62.78h.6M161.16 54.44h.6M157.74 57.22h.6M163.06 53.24h.6M166.63 51.36h.6M155.19 60.22h.6M166.12 49.71h.6M162.71 58.1h.6M161.59 57.28h.6M162.54 51.59h.6M163.98 53.14h.6M162.73 52.39h.6M153.36 61.82h.6M156.11 56.52h.6M157.64 56.49h.6M154.42 61.5h.6M159.54 56.8h.6M159.54 54.21h.6M158.06 55.72h.6M160.09 55.76h.6M154.8 60.54h.6M160.96 55.42h.6M166.72 48.81h.6M156.9 59.03h.6M167.68 48.75h.6M169.28 52.45h.6M157 60.75h.6M155.9 61.7h.6M159.07 54.78h.6M156.37 58.66h.6M159.93 56.52h.6M159.51 53.71h.6M166.62 48.66h.6M163.67 49.71h.6M162.76 55.29h.6M151.59 61.44h.6M161.2 55.78h.6M160.56 55.49h.6M154.26 62.9h.6M158.37 55.44h.6M169.92 46.69h.6M159.95 57.72h.6M154.7 57.61h.6M158.06 54.76h.6M154.23 59.89h.6M167.7 47.25h.6M168.46 45.88h.6M156.84 59.72h.6M164.12 51.39h.6M154.1 58.96h.6M159.35 51.95h.6M166 49.78h.6M157.09 57.92h.6M166.28 51.05h.6M160.26 55.04h.6M158.42 55.19h.6M168.04 50.05h.6M167.05 47.72h.6M164.33 50.95h.6M162.5 57.13h.6M163.11 51.42h.6M160.7 55.86h.6M154.22 61.28h.6M159.27 58.8h.6M157.11 57.74h.6M169 46.72h.6M159.63 56.82h.6M154.54 62.98h.6M162.28 54.24h.6M159.1 57.23h.6M159.99 59.36h.6M154.37 61.01h.6M157.44 58.97h.6M159.06 52.68h.6M153.02 62.2h.6M162.92 54.68h.6M156.19 56.19h.6M158.72 57.19h.6M163.1 51.4h.6M165.72 49.66h.6M155.87 59.86h.6M162.79 52.83h.6M165.52 50.53h.6M163.45 53.21h.6M161.7 53.96h.6M168.28 47.45h.6M164.76 50.24h.6M164.26 51.34h.6M159.64 54.42h.6M163.18 52.74h.6M166.76 50.21h.6M152.21 63.22h.6M165.24 51.31h.6M168.73 48.11h.6M161.3 53.26h.6M161.38 51.49h.6M155.15 57.95h.6M156.77 59.42h.6M169.57 45.93h.6M158.7 57.95h.6M156.6 57.01h.6M160.33 57.71h.6M168.37 48.92h.6M153.64 58.67h.6M158.52 57.09h.6M167.51 50.04h.6M164.23 50.66h.6M164.34 48.5h.6M164.43 50.78h.6M163.59 55.97h.6M151.74 64.81h.6M169.99 50.2h.6M156.86 58.65h.6M169.51 44.6h.6M166.23 50.63h.6M152.97 61.01h.6M167.3 49.15h.6M165.33 49.53h.6M165.84 50.45h.6M154.13 60.15h.6M170.41 48h.6M162.61 53.71h.6M164.35 50.89h.6M160.74 53.09h.6M168.6 49.04h.6M165.03 49.98h.6M158.03 60.88h.6M157.87 60.92h.6M156.39 63.2h.6M163.51 52.19h.6M168.48 50.97h.6M159.92 58.65h.6M154.24 62.89h.6M167.03 48.5h.6M158.98 56.95h.6M161.96 52.41h.6M144.82 64.23h.6M162.1 51.36h.6M150.54 65.24h.6M171.38 48.72h.6M163.13 60.95h.6M168.87 47.25h.6M165.76 50.73h.6M155.09 69.76h.6M158.69 54.41h.6M170.7 46.76h.6M167.74 46.79h.6M160.85 54.37h.6M162.41 46.43h.6M156.23 59.68h.6M153.56 58.63h.6M161.17 62.98h.6M172.45 49.11h.6M156.6 62.15h.6M151.49 66.87h.6M144.95 66.14h.6M171.51 52.83h.6M148.54 62.66h.6M168.19 50.89h.6M166.9 46.92h.6M162.28 52.97h.6M153.87 55.63h.6M161.46 59.02h.6M168.21 52.43h.6M162.87 55.37h.6M161.75 46.95h.6M165.67 57.58h.6M145.32 70.18h.6M171.77 51.84h.6M151.06 59.37h.6M169.79 53.27h.6M152.62 57.44h.6M158.08 63.64h.6M163.23 54.87h.6M156.56 53.94h.6M143.77 69.22h.6M153.47 56.97h.6M142.9 73.24h.6M147.11 65.19h.6M168.79 56.88h.6M165.07 52.95h.6M163.78 50.17h.6M164.01 54.86h.6M160.38 56.99h.6M155.11 64.03h.6M164.72 51.07h.6M145.04 63.45h.6M149.47 66.95h.6M145.24 62.95h.6M147.59 71.81h.6M146.37 74.28h.6M147.35 71.75h.6M161.82 52.31h.6M166.26 45.93h.6M166.15 57.61h.6M149.62 63.29h.6M173.12 49.38h.6M170.44 41.51h.6M165.71 39.42h.6M168.38 40.82h.6M167.7 37.61h.6M168.6 40.13h.6M167.07 39.93h.6M168.23 39.96h.6M167.38 40.49h.6M169.13 40.16h.6M168.18 37.67h.6M167.96 41.54h.6M169.17 42.33h.6M167.61 39.75h.6M170.1 42.49h.6M169.35 42.05h.6M167.39 42.75h.6M167.95 41.37h.6M170.37 41.17h.6M167.13 39.75h.6M169.41 42.28h.6M168.81 40.39h.6M167.53 39.85h.6M168.71 42.89h.6M170.57 42.26h.6M168.45 41.72h.6" stroke="#148c8c" stroke-width="0.7" stroke-opacity="0.38" fill="none"/>
<rect x="115.7" y="26" width="78.7" height="83.2" fill="none" stroke="#231f20" stroke-width="0.9"/>
<path d="M115.7 106.2h-2.8M115.7 104.3h-1.7M115.7 102.4h-1.7M115.7 100.5h-1.7M115.7 98.6h-1.7M115.7 96.5h-2.8M115.7 94.6h-1.7M115.7 92.7h-1.7M115.7 90.8h-1.7M115.7 88.9h-1.7M115.7 86.8h-2.8M115.7 84.9h-1.7M115.7 83h-1.7M115.7 81.1h-1.7M115.7 79.2h-1.7M115.7 77.1h-2.8M115.7 75.2h-1.7M115.7 73.3h-1.7M115.7 71.4h-1.7M115.7 69.5h-1.7M115.7 67.4h-2.8M115.7 65.5h-1.7M115.7 63.6h-1.7M115.7 61.7h-1.7M115.7 59.8h-1.7M115.7 57.7h-2.8M115.7 55.8h-1.7M115.7 53.9h-1.7M115.7 52h-1.7M115.7 50.1h-1.7M115.7 48h-2.8M115.7 46.1h-1.7M115.7 44.2h-1.7M115.7 42.3h-1.7M115.7 40.4h-1.7M115.7 38.3h-2.8M115.7 36.4h-1.7M115.7 34.5h-1.7M115.7 32.6h-1.7M115.7 30.7h-1.7M115.7 28.6h-2.8M118.7 109.2v2.8M120.6 109.2v1.7M122.5 109.2v1.7M124.4 109.2v1.7M126.3 109.2v1.7M128.4 109.2v2.8M130.3 109.2v1.7M132.2 109.2v1.7M134.1 109.2v1.7M136 109.2v1.7M138.1 109.2v2.8M140 109.2v1.7M141.9 109.2v1.7M143.8 109.2v1.7M145.7 109.2v1.7M147.8 109.2v2.8M149.7 109.2v1.7M151.6 109.2v1.7M153.5 109.2v1.7M155.4 109.2v1.7M157.5 109.2v2.8M159.4 109.2v1.7M161.3 109.2v1.7M163.2 109.2v1.7M165.1 109.2v1.7M167.2 109.2v2.8M169.1 109.2v1.7M171 109.2v1.7M172.9 109.2v1.7M174.8 109.2v1.7M176.9 109.2v2.8M178.8 109.2v1.7M180.7 109.2v1.7M182.6 109.2v1.7M184.5 109.2v1.7M186.6 109.2v2.8M188.5 109.2v1.7M190.4 109.2v1.7M192.3 109.2v1.7" stroke="#231f20" stroke-width="0.7" fill="none"/>
<line x1="115.7" y1="46.25" x2="194.4" y2="46.25" stroke="#555" stroke-width="0.6" stroke-dasharray="1.6 1.2"/>
<line x1="157" y1="46.25" x2="157" y2="109.2" stroke="#555" stroke-width="0.6" stroke-dasharray="1.6 1.2"/>
<line x1="165.8" y1="46.25" x2="165.8" y2="109.2" stroke="#555" stroke-width="0.6" stroke-dasharray="1.6 1.2"/>
<polygon points="137.7,67.2 141,60.1 160.6,47.9 172,46.2 174,47.9 167.1,64.2 159.8,74.9 144.3,74" fill="none" stroke="#231f20" stroke-width="0.8" stroke-linejoin="round"/>
<polygon points="162.2,41.3 166.3,35.1 176.9,33.5 179.4,35.6 173.7,46.2 167.1,45.9 163.1,43.8" fill="none" stroke="#231f20" stroke-width="0.8" stroke-linejoin="round"/>
<text font-size="9.04" transform="translate(134.4 37.9) scale(0.912 1)">SSC</text>
<text font-size="6.33" transform="translate(151 35) scale(0.912 1)">high</text>
<text font-size="6.1" transform="translate(181 42.2) scale(0.912 1)">2.91</text>
<text font-size="9.04" transform="translate(120.4 78.2) scale(0.912 1)">Small</text>
<text font-size="9.04" transform="translate(148.2 88.1) scale(0.912 1)">Medium</text>
<text font-size="9.04" transform="translate(176.8 60) scale(0.912 1)">Big</text>
<text font-size="10.4" text-anchor="middle" font-style="italic" transform="translate(62.3 21.2) scale(0.912 1)">WT</text>
<text font-size="10.4" text-anchor="middle" font-style="italic" transform="translate(155.3 21.2) scale(0.912 1)">Mpig6b<tspan font-size="0.66em" dy="-0.42em">mut</tspan></text>
<text font-size="8.81" text-anchor="middle" transform="translate(17.6 67.5) rotate(-90) scale(0.912 1)">SSC</text>
<text font-size="8.47" text-anchor="middle" transform="translate(108.2 125) scale(0.912 1)">FSC</text>
<text font-size="11.86" font-weight="bold" fill="#000" transform="translate(296.8 15) scale(0.912 1)">B</text>
<line x1="328.1" y1="16" x2="328.1" y2="109.4" stroke="#231f20" stroke-width="1.2"/>
<line x1="328.1" y1="108.9" x2="483.8" y2="108.9" stroke="#231f20" stroke-width="1.2"/>
<line x1="325.7" y1="108.9" x2="328.1" y2="108.9" stroke="#231f20" stroke-width="0.9"/>
<text font-size="7.4" text-anchor="end" transform="translate(321.2 111.5) scale(1.160 1)">0</text>
<line x1="325.7" y1="86.52" x2="328.1" y2="86.52" stroke="#231f20" stroke-width="0.9"/>
<text font-size="7.4" text-anchor="end" transform="translate(321.2 89.12) scale(1.160 1)">20</text>
<line x1="325.7" y1="64.14" x2="328.1" y2="64.14" stroke="#231f20" stroke-width="0.9"/>
<text font-size="7.4" text-anchor="end" transform="translate(321.2 66.74) scale(1.160 1)">40</text>
<line x1="325.7" y1="41.76" x2="328.1" y2="41.76" stroke="#231f20" stroke-width="0.9"/>
<text font-size="7.4" text-anchor="end" transform="translate(321.2 44.36) scale(1.160 1)">60</text>
<line x1="325.7" y1="19.38" x2="328.1" y2="19.38" stroke="#231f20" stroke-width="0.9"/>
<text font-size="7.4" text-anchor="end" transform="translate(321.2 21.98) scale(1.160 1)">80</text>
<path d="M341.6 71.19V61.34M338.9 61.34H344.3" stroke="#231f20" stroke-width="0.9" fill="none"/>
<path d="M351 56.08V53.17M348.3 53.17H353.7" stroke="#231f20" stroke-width="0.9" fill="none"/>
<rect x="336.9" y="71.19" width="9.4" height="37.71" fill="#c8142f"/>
<rect x="346.3" y="56.08" width="9.4" height="52.82" fill="#14508a"/>
<line x1="346.3" y1="108.9" x2="346.3" y2="112.3" stroke="#231f20" stroke-width="0.9"/>
<text font-size="9" text-anchor="middle" transform="translate(346.3 119.9) scale(0.833 1)">Small</text>
<path d="M378.9 72.64V70.85M376.2 70.85H381.6" stroke="#231f20" stroke-width="0.9" fill="none"/>
<path d="M388.3 67.16V66.38M385.6 66.38H391" stroke="#231f20" stroke-width="0.9" fill="none"/>
<rect x="374.2" y="72.64" width="9.4" height="36.26" fill="#c8142f"/>
<rect x="383.6" y="67.16" width="9.4" height="41.74" fill="#14508a"/>
<line x1="383.6" y1="108.9" x2="383.6" y2="112.3" stroke="#231f20" stroke-width="0.9"/>
<text font-size="9" text-anchor="middle" transform="translate(383.6 119.9) scale(0.833 1)">Medium</text>
<path d="M416.2 72.2V63.36M413.5 63.36H418.9" stroke="#231f20" stroke-width="0.9" fill="none"/>
<path d="M425.6 92.79V90.21M422.9 90.21H428.3" stroke="#231f20" stroke-width="0.9" fill="none"/>
<rect x="411.5" y="72.2" width="9.4" height="36.7" fill="#c8142f"/>
<rect x="420.9" y="92.79" width="9.4" height="16.11" fill="#14508a"/>
<line x1="420.9" y1="108.9" x2="420.9" y2="112.3" stroke="#231f20" stroke-width="0.9"/>
<text font-size="9" text-anchor="middle" transform="translate(420.9 119.9) scale(0.833 1)">Big</text>
<path d="M453.5 91.44V87.19M450.8 87.19H456.2" stroke="#231f20" stroke-width="0.9" fill="none"/>
<path d="M462.9 105.32V103.53M460.2 103.53H465.6" stroke="#231f20" stroke-width="0.9" fill="none"/>
<rect x="448.8" y="91.44" width="9.4" height="17.46" fill="#c8142f"/>
<rect x="458.2" y="105.32" width="9.4" height="3.58" fill="#14508a"/>
<line x1="458.2" y1="108.9" x2="458.2" y2="112.3" stroke="#231f20" stroke-width="0.9"/>
<text font-size="9" text-anchor="middle" transform="translate(458.2 119.9) scale(0.833 1)">SSC<tspan font-size="0.6em" dy="-0.42em">high</tspan></text>
<path d="M339 46.5V43.1H352.9V46.5" fill="none" stroke="#231f20" stroke-width="1"/>
<circle cx="345.95" cy="39.2" r="0.85"/>
<path d="M376 57.2V53.8H390.5V57.2" fill="none" stroke="#231f20" stroke-width="1"/>
<circle cx="380.35" cy="49.9" r="0.85"/><circle cx="383.25" cy="49.9" r="0.85"/><circle cx="386.15" cy="49.9" r="0.85"/>
<path d="M413.8 56.7V53.3H427.5V56.7" fill="none" stroke="#231f20" stroke-width="1"/>
<circle cx="419.2" cy="49.4" r="0.85"/><circle cx="422.1" cy="49.4" r="0.85"/>
<path d="M450.5 79V75.6H464.5V79" fill="none" stroke="#231f20" stroke-width="1"/>
<circle cx="454.6" cy="71.7" r="0.85"/><circle cx="457.5" cy="71.7" r="0.85"/><circle cx="460.4" cy="71.7" r="0.85"/>
<text font-size="7.7" text-anchor="middle" transform="translate(306 62.8) rotate(-90) scale(0.850 1)" style="stroke-width:.42px">MK subsets [%]</text>
<text font-size="11.86" font-weight="bold" fill="#000" transform="translate(6.3 142.9) scale(0.912 1)">C</text>
<line x1="43.5" y1="149.7" x2="43.5" y2="245.6" stroke="#231f20" stroke-width="1.25"/>
<line x1="43.5" y1="245" x2="270" y2="245" stroke="#231f20" stroke-width="1.3"/>
<line x1="41.1" y1="245" x2="43.5" y2="245" stroke="#231f20" stroke-width="0.9"/>
<text font-size="7.5" text-anchor="end" transform="translate(37.3 247.1) scale(1.080 1)">0</text>
<line x1="41.1" y1="222" x2="43.5" y2="222" stroke="#231f20" stroke-width="0.9"/>
<text font-size="7.5" text-anchor="end" transform="translate(37.3 224.1) scale(1.080 1)">500</text>
<line x1="41.1" y1="199" x2="43.5" y2="199" stroke="#231f20" stroke-width="0.9"/>
<text font-size="7.5" text-anchor="end" transform="translate(37.3 201.1) scale(1.080 1)">1000</text>
<line x1="41.1" y1="176" x2="43.5" y2="176" stroke="#231f20" stroke-width="0.9"/>
<text font-size="7.5" text-anchor="end" transform="translate(37.3 178.1) scale(1.080 1)">1500</text>
<line x1="41.1" y1="153" x2="43.5" y2="153" stroke="#231f20" stroke-width="0.9"/>
<text font-size="7.5" text-anchor="end" transform="translate(37.3 155.1) scale(1.080 1)">2000</text>
<path d="M54.2 215.1V212.8M51.9 212.8H56.5" stroke="#231f20" stroke-width="0.9" fill="none"/>
<path d="M61.4 234.88V233.04M59.1 233.04H63.7" stroke="#231f20" stroke-width="0.9" fill="none"/>
<rect x="50.6" y="215.1" width="7.2" height="29.9" fill="#c8142f"/>
<rect x="57.8" y="234.88" width="7.2" height="10.12" fill="#14508a"/>
<line x1="57.8" y1="245" x2="57.8" y2="248.2" stroke="#231f20" stroke-width="0.9"/>
<text font-size="8.85" text-anchor="middle" transform="translate(57.8 256.1) scale(0.893 1)">GPIb&#945;</text>
<path d="M51.3 209.5V206.3H62.5V209.5" fill="none" stroke="#231f20" stroke-width="1"/>
<circle cx="54.3" cy="202.4" r="0.75"/><circle cx="56.9" cy="202.4" r="0.75"/><circle cx="59.5" cy="202.4" r="0.75"/>
<path d="M82.54 220.62V218.78M80.24 218.78H84.84" stroke="#231f20" stroke-width="0.9" fill="none"/>
<path d="M89.74 236.26V235.8M87.44 235.8H92.04" stroke="#231f20" stroke-width="0.9" fill="none"/>
<rect x="78.94" y="220.62" width="7.2" height="24.38" fill="#c8142f"/>
<rect x="86.14" y="236.26" width="7.2" height="8.74" fill="#14508a"/>
<line x1="86.14" y1="245" x2="86.14" y2="248.2" stroke="#231f20" stroke-width="0.9"/>
<text font-size="8.85" text-anchor="middle" transform="translate(86.14 256.1) scale(0.893 1)">GPV</text>
<path d="M79.64 215.5V212.3H90.84V215.5" fill="none" stroke="#231f20" stroke-width="1"/>
<circle cx="82.64" cy="208.4" r="0.75"/><circle cx="85.24" cy="208.4" r="0.75"/><circle cx="87.84" cy="208.4" r="0.75"/>
<path d="M110.88 210.5V206.82M108.58 206.82H113.18" stroke="#231f20" stroke-width="0.9" fill="none"/>
<path d="M118.08 229.13V226.37M115.78 226.37H120.38" stroke="#231f20" stroke-width="0.9" fill="none"/>
<rect x="107.28" y="210.5" width="7.2" height="34.5" fill="#c8142f"/>
<rect x="114.48" y="229.13" width="7.2" height="15.87" fill="#14508a"/>
<line x1="114.48" y1="245" x2="114.48" y2="248.2" stroke="#231f20" stroke-width="0.9"/>
<text font-size="8.85" text-anchor="middle" transform="translate(114.48 256.1) scale(0.893 1)">GPIX</text>
<path d="M107.98 203V199.8H119.18V203" fill="none" stroke="#231f20" stroke-width="1"/>
<circle cx="110.98" cy="195.9" r="0.75"/><circle cx="113.58" cy="195.9" r="0.75"/><circle cx="116.18" cy="195.9" r="0.75"/>
<path d="M139.22 240.4V239.02M136.92 239.02H141.52" stroke="#231f20" stroke-width="0.9" fill="none"/>
<path d="M146.42 242.93V242.47M144.12 242.47H148.72" stroke="#231f20" stroke-width="0.9" fill="none"/>
<rect x="135.62" y="240.4" width="7.2" height="4.6" fill="#c8142f"/>
<rect x="142.82" y="242.93" width="7.2" height="2.07" fill="#14508a"/>
<line x1="142.82" y1="245" x2="142.82" y2="248.2" stroke="#231f20" stroke-width="0.9"/>
<text font-size="8.85" text-anchor="middle" transform="translate(142.82 256.1) scale(0.893 1)">GPVI</text>
<path d="M136.32 235.9V232.7H147.52V235.9" fill="none" stroke="#231f20" stroke-width="1"/>
<circle cx="139.32" cy="228.8" r="0.75"/><circle cx="141.92" cy="228.8" r="0.75"/><circle cx="144.52" cy="228.8" r="0.75"/>
<path d="M167.56 233.73V233.27M165.26 233.27H169.86" stroke="#231f20" stroke-width="0.9" fill="none"/>
<path d="M174.76 238.79V238.33M172.46 238.33H177.06" stroke="#231f20" stroke-width="0.9" fill="none"/>
<rect x="163.96" y="233.73" width="7.2" height="11.27" fill="#c8142f"/>
<rect x="171.16" y="238.79" width="7.2" height="6.21" fill="#14508a"/>
<line x1="171.16" y1="245" x2="171.16" y2="248.2" stroke="#231f20" stroke-width="0.9"/>
<text font-size="8.85" text-anchor="middle" transform="translate(171.16 256.1) scale(0.893 1)">&#945;2</text>
<path d="M164.66 230.3V227.1H175.86V230.3" fill="none" stroke="#231f20" stroke-width="1"/>
<circle cx="167.66" cy="223.2" r="0.75"/><circle cx="170.26" cy="223.2" r="0.75"/><circle cx="172.86" cy="223.2" r="0.75"/>
<path d="M195.9 214.18V211.42M193.6 211.42H198.2" stroke="#231f20" stroke-width="0.9" fill="none"/>
<path d="M203.1 229.59V228.21M200.8 228.21H205.4" stroke="#231f20" stroke-width="0.9" fill="none"/>
<rect x="192.3" y="214.18" width="7.2" height="30.82" fill="#c8142f"/>
<rect x="199.5" y="229.59" width="7.2" height="15.41" fill="#14508a"/>
<line x1="199.5" y1="245" x2="199.5" y2="248.2" stroke="#231f20" stroke-width="0.9"/>
<text font-size="8.85" text-anchor="middle" transform="translate(199.5 256.1) scale(0.893 1)">&#945;IIb&#946;3</text>
<path d="M193 208.2V205H204.2V208.2" fill="none" stroke="#231f20" stroke-width="1"/>
<circle cx="196" cy="201.1" r="0.75"/><circle cx="198.6" cy="201.1" r="0.75"/><circle cx="201.2" cy="201.1" r="0.75"/>
<path d="M224.24 220.39V218.09M221.94 218.09H226.54" stroke="#231f20" stroke-width="0.9" fill="none"/>
<path d="M231.44 230.74V228.9M229.14 228.9H233.74" stroke="#231f20" stroke-width="0.9" fill="none"/>
<rect x="220.64" y="220.39" width="7.2" height="24.61" fill="#c8142f"/>
<rect x="227.84" y="230.74" width="7.2" height="14.26" fill="#14508a"/>
<line x1="227.84" y1="245" x2="227.84" y2="248.2" stroke="#231f20" stroke-width="0.9"/>
<text font-size="8.85" text-anchor="middle" transform="translate(227.84 256.1) scale(0.893 1)">CLEC-2</text>
<path d="M221.34 215.5V212.3H232.54V215.5" fill="none" stroke="#231f20" stroke-width="1"/>
<circle cx="224.34" cy="208.4" r="0.75"/><circle cx="226.94" cy="208.4" r="0.75"/><circle cx="229.54" cy="208.4" r="0.75"/>
<path d="M252.58 166.25V162.57M250.28 162.57H254.88" stroke="#231f20" stroke-width="0.9" fill="none"/>
<path d="M259.78 208.2V204.98M257.48 204.98H262.08" stroke="#231f20" stroke-width="0.9" fill="none"/>
<rect x="248.98" y="166.25" width="7.2" height="78.75" fill="#c8142f"/>
<rect x="256.18" y="208.2" width="7.2" height="36.8" fill="#14508a"/>
<line x1="256.18" y1="245" x2="256.18" y2="248.2" stroke="#231f20" stroke-width="0.9"/>
<text font-size="8.85" text-anchor="middle" transform="translate(256.18 256.1) scale(0.893 1)">CD9</text>
<path d="M249.68 158.2V155H260.88V158.2" fill="none" stroke="#231f20" stroke-width="1"/>
<circle cx="252.68" cy="151.1" r="0.75"/><circle cx="255.28" cy="151.1" r="0.75"/><circle cx="257.88" cy="151.1" r="0.75"/>
<rect x="54" y="152.2" width="4.8" height="5" fill="#c8142f"/>
<rect x="54" y="164" width="4.8" height="4.8" fill="#14508a"/>
<text font-size="7.8" font-style="italic" transform="translate(62 157.6) scale(0.912 1)">WT</text>
<text font-size="7.8" font-style="italic" transform="translate(62 169.2) scale(0.912 1)">Mpig6b<tspan font-size="0.6em" dy="-0.42em">mut</tspan></text>
<text font-size="7.8" text-anchor="middle" transform="translate(13.6 196.3) rotate(-90) scale(0.850 1)" style="stroke-width:.42px">Receptor surface expression [MFI]</text>
<text font-size="11.86" font-weight="bold" fill="#000" transform="translate(296.2 142.8) scale(0.912 1)">D</text>
<path d="M328.5 145.9V278.4M336.95 145.9V278.4M345.4 145.9V278.4M353.85 145.9V278.4M362.3 145.9V278.4M370.75 145.9V278.4M379.2 145.9V278.4M387.65 145.9V278.4M396.1 145.9V278.4M404.55 145.9V278.4M413 145.9V278.4M421.45 145.9V278.4M429.9 145.9V278.4M438.35 145.9V278.4M446.8 145.9V278.4M455.25 145.9V278.4M463.7 145.9V278.4M472.15 145.9V278.4M480.6 145.9V278.4M489.05 145.9V278.4M320.4 269.88H497.5M320.4 250.65H497.5M320.4 231.42H497.5M320.4 192.97H497.5M320.4 173.75H497.5M320.4 154.52H497.5" stroke="#ececec" stroke-width="0.6" fill="none"/>
<polygon points="328.92,212.2 329.77,208.64 330.61,206.99 331.46,205.69 332.3,204.57 333.15,203.57 333.99,202.66 334.84,201.82 335.68,201.03 336.53,200.28 337.37,200.28 338.22,200.28 339.06,200.28 339.91,200.28 340.75,200.28 341.6,200.28 342.44,200.28 343.29,200.28 344.13,200.28 344.98,200.28 345.82,200.28 346.67,200.28 347.51,200.28 348.36,200.28 349.2,200.28 350.05,200.28 350.89,200.28 351.74,200.28 352.58,200.28 353.43,200.28 354.27,200.28 355.12,200.28 355.96,200.28 356.81,200.28 357.65,200.28 358.5,200.28 359.34,200.28 360.19,200.28 361.03,200.28 361.88,200.28 362.72,200.28 363.57,200.28 364.41,200.28 365.26,200.28 366.1,200.28 366.95,200.28 367.79,200.28 368.64,200.28 369.48,200.28 370.33,200.28 371.17,200.28 372.02,200.28 372.86,200.28 373.71,200.28 374.55,200.28 375.4,200.28 376.24,200.28 377.09,200.28 377.93,200.28 378.78,200.28 379.62,200.28 380.47,200.28 381.31,200.28 382.16,200.28 383,200.28 383.85,200.28 384.69,200.28 385.54,200.28 386.38,200.28 387.23,200.28 388.07,200.28 388.92,200.28 389.76,200.28 390.61,200.28 391.45,200.28 392.3,200.28 393.14,200.28 393.99,200.28 394.83,200.28 395.68,200.28 396.52,200.28 397.37,200.28 398.21,200.28 399.06,200.28 399.9,200.28 400.75,200.28 401.59,200.28 402.44,200.28 403.28,200.28 404.13,200.28 404.97,200.28 405.82,200.28 406.66,200.28 407.51,200.28 408.35,200.28 409.2,200.28 410.04,200.28 410.89,200.28 411.73,200.28 412.58,200.28 413.42,200.28 414.27,200.28 415.11,200.28 415.96,200.28 416.8,200.28 417.65,200.28 418.49,200.28 419.34,200.28 420.18,200.28 421.03,200.28 421.87,200.28 422.72,200.28 423.56,200.28 424.41,200.28 425.25,200.28 426.1,200.28 426.94,200.28 427.79,200.28 428.63,200.28 429.48,200.28 430.32,200.28 431.17,200.28 432.01,200.28 432.86,200.28 433.7,200.28 434.55,200.28 435.39,200.6 436.24,200.92 437.08,201.23 437.93,201.55 438.77,201.87 439.62,202.19 440.46,202.51 441.31,202.82 442.15,203.14 443,203.46 443.84,203.78 444.69,204.09 445.53,204.41 446.38,204.73 447.22,205.05 447.22,219.81 446.38,220.15 445.53,220.49 444.69,220.83 443.84,221.17 443,221.5 442.15,221.84 441.31,222.18 440.46,222.52 439.62,222.86 438.77,223.2 437.93,223.54 437.08,223.87 436.24,224.21 435.39,224.55 434.55,224.89 433.7,224.89 432.86,224.89 432.01,224.89 431.17,224.89 430.32,224.89 429.48,224.89 428.63,224.89 427.79,224.89 426.94,224.89 426.1,224.89 425.25,224.89 424.41,224.89 423.56,224.89 422.72,224.89 421.87,224.89 421.03,224.89 420.18,224.89 419.34,224.89 418.49,224.89 417.65,224.89 416.8,224.89 415.96,224.89 415.11,224.89 414.27,224.89 413.42,224.89 412.58,224.89 411.73,224.89 410.89,224.89 410.04,224.89 409.2,224.89 408.35,224.89 407.51,224.89 406.66,224.89 405.82,224.89 404.97,224.89 404.13,224.89 403.28,224.89 402.44,224.89 401.59,224.89 400.75,224.89 399.9,224.89 399.06,224.89 398.21,224.89 397.37,224.89 396.52,224.89 395.68,224.89 394.83,224.89 393.99,224.89 393.14,224.89 392.3,224.89 391.45,224.89 390.61,224.89 389.76,224.89 388.92,224.89 388.07,224.89 387.23,224.89 386.38,224.89 385.54,224.89 384.69,224.89 383.85,224.89 383,224.89 382.16,224.89 381.31,224.89 380.47,224.89 379.62,224.89 378.78,224.89 377.93,224.89 377.09,224.89 376.24,224.89 375.4,224.89 374.55,224.89 373.71,224.89 372.86,224.89 372.02,224.89 371.17,224.89 370.33,224.89 369.48,224.89 368.64,224.89 367.79,224.89 366.95,224.89 366.1,224.89 365.26,224.89 364.41,224.89 363.57,224.89 362.72,224.89 361.88,224.89 361.03,224.89 360.19,224.89 359.34,224.89 358.5,224.89 357.65,224.89 356.81,224.89 355.96,224.89 355.12,224.89 354.27,224.89 353.43,224.89 352.58,224.89 351.74,224.89 350.89,224.89 350.05,224.89 349.2,224.89 348.36,224.89 347.51,224.89 346.67,224.89 345.82,224.89 344.98,224.89 344.13,224.89 343.29,224.89 342.44,224.89 341.6,224.89 340.75,224.89 339.91,224.89 339.06,224.89 338.22,224.89 337.37,224.89 336.53,224.89 335.68,224.09 334.84,223.25 333.99,222.35 333.15,221.38 332.3,220.32 331.46,219.13 330.61,217.75 329.77,215.99 328.92,212.2" fill="#aaaaaa"/>
<path d="M447.68 223.75h.9M448.2 216.79h.9M449.88 215.29h.9M450.05 214.09h.9M454.98 211.47h.9M442.19 214.33h.9M435.8 209.73h.9M434.74 218.33h.9M471.27 201.38h.9M454.36 214.14h.9M437.56 206.66h.9M435.1 211.7h.9M438.52 212.14h.9M448.14 210.84h.9M447.22 208.6h.9M455.42 218.44h.9M449.56 215.46h.9M441.33 216.8h.9M472.03 197.5h.9M458.39 212.53h.9M442.6 211.67h.9M435.33 208.65h.9M461.03 222.68h.9M445.18 206.26h.9M470.09 212.06h.9M439.12 212.33h.9M467.78 232.28h.9M445.58 209.43h.9M435.39 217.38h.9M441.05 218.33h.9M435.72 217.8h.9M460.65 197.32h.9M436.49 212.15h.9M435.1 210.21h.9M462.44 208.38h.9M447.49 205.94h.9M438.54 212.48h.9M455.57 215.45h.9M436.45 214.9h.9M441.05 210.59h.9M470.72 210.08h.9M466.56 217.97h.9M439.15 219.44h.9M455.49 204.73h.9M436.04 209.16h.9M440.67 212.42h.9M461.32 214.88h.9M435.4 209h.9M435.79 215.04h.9M453.75 214.43h.9M444.63 224.75h.9M448.92 208.11h.9M452.63 209.69h.9M437.47 214.34h.9M467.69 209.92h.9M438.51 215.39h.9M459.81 208.16h.9M469.7 214.01h.9M466.43 218.17h.9M436.13 215h.9M434.68 209.13h.9M458.25 213.3h.9M440.63 209.3h.9M441.85 218.14h.9M438.08 212.52h.9M439.7 213.96h.9M451.99 207.35h.9M441.4 217.6h.9M468.12 211.82h.9M441.03 211.35h.9M447.42 209.05h.9M444.52 211h.9M452.53 208.41h.9M466.85 207.17h.9M471.19 218.63h.9M453.04 219.81h.9M437.09 211.37h.9M467.77 211.9h.9M458.08 210.91h.9M455.25 212.5h.9M448.86 212.8h.9M472.12 218.89h.9M435.44 219.01h.9M467.29 215.58h.9M459.7 215.54h.9M468 224.64h.9M443.9 216.56h.9M465.91 226.26h.9M446.33 209.52h.9M452.55 223.61h.9M454.76 218.17h.9M454.08 206.82h.9M435.56 221.04h.9M466.32 229.61h.9M459.3 220.32h.9M452.89 205.96h.9M447.22 211h.9M460.3 214.55h.9M434.52 216.13h.9M439.76 215.43h.9M457.97 221.03h.9M468.27 212.03h.9M440.59 208.13h.9M457.07 211.82h.9M438.9 207.3h.9M456.28 200.32h.9M447.28 208.45h.9M456.54 215.71h.9M438.77 219.84h.9M467.97 206.63h.9M466.34 219.28h.9M442.65 207.8h.9M436.97 220.75h.9M464.85 211.9h.9M458.54 207.26h.9M437.9 213.34h.9M447.62 212.8h.9M446.21 208.55h.9M454.8 217.52h.9M464.4 211.97h.9M471.26 215.07h.9M434.55 211.71h.9M465.99 201.38h.9M452.46 209.81h.9M442.39 211.95h.9M436.96 213.05h.9M447.78 202.03h.9M439.99 210.81h.9M437.1 206.13h.9M447.45 209.97h.9M454.98 218.45h.9M470.11 223.47h.9M457.35 209.95h.9M438.18 207.24h.9M434.23 218.81h.9M438.19 210.93h.9M441.14 216.46h.9M450.39 204.92h.9M454.31 211.96h.9M462.2 218.98h.9M467.58 197.78h.9M459.04 204.34h.9M436.8 218.2h.9M467.76 209.26h.9M444.82 221.91h.9M462.43 218.06h.9M469.42 222.72h.9M438.97 210.67h.9M459.02 208.33h.9M458.83 220.64h.9M439.23 201.55h.9M471.03 224.72h.9M451.07 210.91h.9M467.76 218.4h.9M465.18 213.9h.9M447.24 210.36h.9M451.62 211.43h.9M434.5 217.1h.9M463 200.88h.9M438.01 208.98h.9M443.3 211.54h.9M437.32 214.62h.9M450.23 214h.9M457.57 224.21h.9M469.49 230.36h.9M435.69 211.7h.9M439.48 216.05h.9M459.33 213.1h.9M455.36 223.95h.9M452.02 213.81h.9M442.48 219.28h.9M467.31 202.69h.9M439.07 204.92h.9M450.55 224.33h.9M452.56 209.98h.9M449.7 205.53h.9M453.92 196.51h.9M450.21 209.59h.9M445.7 210.06h.9M449.21 219.04h.9M457.64 204.95h.9M446.2 209.53h.9M470.03 206.94h.9M448.5 214.23h.9M436.72 219.71h.9M467.31 206.8h.9M448.63 213.68h.9M454.46 208.58h.9M468.5 203.41h.9M434.4 206.83h.9M438.64 211.19h.9M442.84 204.62h.9M444.03 213.96h.9M459.42 214.3h.9M436.61 215.58h.9M438.75 212.43h.9M450.8 217.34h.9M446.19 210.2h.9M450.76 210.11h.9M455.04 208.7h.9M455.35 224.02h.9M454.2 214.39h.9M465.23 210.94h.9M463.06 200.99h.9M467.41 214.74h.9M468.38 206.35h.9M439.38 202.36h.9M436.91 212.3h.9M440.05 212.74h.9M435.96 215.57h.9M464.07 223.03h.9M436.7 208.47h.9M445.78 212.6h.9M438.85 213.01h.9M457.26 198.07h.9M436.42 218.37h.9M449.8 211.86h.9M457.41 219.69h.9M438.49 210.22h.9M434.66 211.33h.9M451.67 219.72h.9M437.26 212.74h.9M438.35 209.68h.9M471.67 198.17h.9M468.58 210.02h.9M469.77 210.69h.9M448.06 211.75h.9M448.25 217.09h.9M450.18 219.18h.9M434.26 209.75h.9M458.09 209.94h.9M447.75 215.07h.9M459.8 215.78h.9M437.78 210.52h.9M450.07 200.24h.9M462.65 210.8h.9M458.25 206.4h.9M445.85 217.93h.9M453.68 229.31h.9M462.8 212.72h.9M440.67 205.44h.9M461.56 218.08h.9M463.25 224.35h.9M466.32 203.68h.9M457.81 211.02h.9M445.9 221.17h.9M459.05 206.83h.9M448.33 210.03h.9M434.23 215.93h.9M454.72 205.34h.9M439.82 205.59h.9M443.4 214.76h.9M456.27 219.18h.9M445.29 214.94h.9M472.14 219.69h.9M460.82 220.27h.9M471.17 201.8h.9M459.78 210.9h.9M440.61 213.46h.9M438.68 211.33h.9" stroke="#9a9a9a" stroke-width="0.9" fill="none"/>
<path d="M451.07 201.87h.9M444.8 202.61h.9M407.81 201.55h.9M341.18 200.54h.9M389.12 199.37h.9M442.34 204.04h.9M403.29 203h.9M367.97 199.2h.9M337.68 200.88h.9M379.93 203.59h.9M341.74 202.01h.9M384.38 203.66h.9M363.49 199.01h.9M446.11 202.8h.9M349.04 200.38h.9M395.46 203.48h.9M411.17 203.91h.9M423.54 201.29h.9M443.17 204.05h.9M424.25 203.07h.9M366.62 199.87h.9M420.77 202.98h.9M446.21 203.68h.9M366.55 203.45h.9M347.62 201.92h.9M397.99 203.48h.9M389.89 200.95h.9M479.38 201.17h.9M422.5 202.65h.9M377.57 202.9h.9M372.67 203.93h.9M482.72 199.28h.9M345.44 195.39h.9M449.16 203.81h.9M345.29 202.74h.9M352.17 195.36h.9M474.31 199.75h.9M438.75 202.09h.9M370.36 197.6h.9M364.01 199.36h.9M376.94 202.39h.9M425.69 203.21h.9M399.35 203.72h.9M338.6 192.25h.9M399.88 200.49h.9M397.56 199.04h.9M345.28 202.17h.9M352.27 202.69h.9M363.69 203.72h.9M380.43 199.94h.9M411.67 200.78h.9M438.93 203.33h.9M411.04 202.72h.9M443.75 200.3h.9M415.91 202.14h.9M419.41 203.06h.9M354.95 199.86h.9M342.76 201.95h.9M408.93 203.79h.9M401.75 198.83h.9M356.84 203.29h.9M361.27 195h.9M355.49 201.38h.9M389.99 200.09h.9M438.85 198.96h.9M486.39 202.54h.9M379.37 201.37h.9M410 192.67h.9M377.86 203.05h.9M353.74 196.46h.9M433.8 199.7h.9M396.18 195.85h.9M336.26 198.04h.9M366.44 198.83h.9M390.06 199.7h.9M370.22 202.86h.9M480.24 203.43h.9M353.81 197.15h.9M453.85 200.79h.9M458.34 203.43h.9M444.77 203.93h.9M415.9 203.85h.9M488.63 203.68h.9M368.74 201.88h.9M369.62 200.13h.9M358.58 198.77h.9M442.31 203.81h.9M346.48 199.02h.9M412.27 203.19h.9M449.84 202.15h.9M350.05 192.47h.9M393.6 200.69h.9M428.39 193.89h.9M414.76 202.19h.9M410.3 202.21h.9M457.49 203.9h.9M424.73 203.16h.9M437.59 203.31h.9M392.34 201.81h.9M416.5 197.96h.9M442.3 203.84h.9M400.89 202.76h.9M440.52 203.05h.9M351.34 203.44h.9M399.12 203.44h.9M427.98 199.43h.9M428.78 202.85h.9M429.47 203.16h.9M447.48 199.04h.9M370.68 203.46h.9M379 203.92h.9M388.7 203.53h.9M400.11 201.44h.9M373.43 189.31h.9M352.37 198.87h.9M406.21 202.7h.9M420.59 200.02h.9M382.07 203.9h.9M437.84 201.86h.9M475.14 203.77h.9M418.37 204.1h.9M343.95 199.21h.9M392.59 199.08h.9M362.98 202.42h.9M484.55 201.01h.9M383.46 203.05h.9M420.01 203.32h.9M350.02 202.63h.9M336.17 202.57h.9M436.7 202.31h.9M376.17 203.29h.9M370.7 203.88h.9M445.94 203.64h.9M436.89 202.39h.9M375.91 200.77h.9M358.81 193.66h.9M443.73 203.84h.9M433.83 202.28h.9M414.32 203.3h.9M370.63 203.65h.9M356.45 198.91h.9M410.5 200.85h.9M361.84 196.46h.9M488.19 202.71h.9M395.48 199.63h.9M364.3 202.81h.9M368.15 204.05h.9M357.05 199.46h.9M339.88 204.1h.9M392.29 200.72h.9M408.59 202.07h.9M392.93 199.05h.9M394.6 201.36h.9M404.44 198.78h.9M422.98 203.72h.9M360.97 200.03h.9M340.08 202.47h.9M356.34 192.27h.9M384.95 203.62h.9M438.07 200.28h.9M425.07 195.35h.9M405.92 202.65h.9M479.95 203.34h.9M413.73 202.67h.9M342.98 201.47h.9M340.84 201.09h.9M446.94 196.59h.9M436.14 203.14h.9M369.6 203.32h.9M421.89 203.86h.9M364.56 203.92h.9M377.01 200.28h.9M458.78 203.69h.9M414.18 203.52h.9M435.72 200.88h.9M423.92 201.54h.9M356.74 202.12h.9M388.67 202.12h.9M447.74 203.18h.9M344.28 201.16h.9M447.58 203.96h.9M416.48 201.98h.9M353.36 197.88h.9M454.68 201.3h.9M345.45 199.62h.9M342.28 195.31h.9M340.69 202.92h.9M383.76 203.63h.9M415.52 203.64h.9M359.12 195.68h.9M381.66 202.48h.9M374.87 200.25h.9M406.95 202.01h.9M411.46 198.65h.9M413.56 199.96h.9M460.03 202.92h.9M342.86 200.94h.9M353.93 198.16h.9M354.84 203.96h.9M383.57 202.6h.9M414.93 203.98h.9M458.85 203.68h.9M391.8 201.11h.9M338.75 203.13h.9M399.68 203.03h.9M405.25 202.92h.9M400.86 203.47h.9M382.29 199.31h.9M429.34 198.37h.9M393.09 199h.9M445.9 203.58h.9M465.92 202.67h.9M363 201.57h.9M399.13 200.59h.9M373.59 201.86h.9M414.26 202.9h.9M428.75 202.32h.9M377.63 201.34h.9M396.12 204.11h.9M393.84 201.06h.9M474.08 202.33h.9M390.13 201.66h.9M451.22 200.29h.9M416.57 203.95h.9M372.84 203.74h.9M399.88 197.48h.9M406.12 203.77h.9M411.33 203.07h.9M337.65 189.86h.9M413.38 202.06h.9M380.69 203.03h.9M452.85 204.08h.9M447.77 203.88h.9M390.39 203.42h.9M426.07 203.67h.9M422.12 202.03h.9M414.11 203.75h.9M348.14 201.03h.9M390.98 203.82h.9M352.25 203.11h.9M361.68 201.15h.9M343.34 200.79h.9M344.92 184.48h.9M433.57 203.36h.9M426.8 201.58h.9M406.12 203.16h.9M433.27 200.3h.9M446.91 202.7h.9M344.5 204.01h.9M337.28 199.16h.9M337.34 200.35h.9M380.98 198.42h.9M422.38 199.87h.9M415.37 201h.9M338.75 203.31h.9M409.94 202.01h.9M407.81 203.27h.9M346.69 191.82h.9M359.86 195.78h.9M348 201.63h.9M463.83 202.57h.9M443.13 203.04h.9M372.17 196.17h.9M444.29 200.11h.9M415.45 203.65h.9M372.32 198.98h.9M447.31 202.73h.9M359.96 199.92h.9M432.35 201.34h.9M430.23 204.04h.9M410.89 202.96h.9M400.47 190.05h.9M386.32 197.48h.9M388.78 199.64h.9M371.28 200.62h.9M350.34 203.74h.9M362.42 199.3h.9M425.75 200.04h.9M343.39 203.08h.9M387.14 201.57h.9M358.13 202.73h.9M424.57 203.46h.9M426.01 203.77h.9M425.65 201.43h.9M455.88 201.43h.9M356.53 195.92h.9M405.45 198.37h.9M406.82 201.33h.9M358.25 203.2h.9M371.54 203.87h.9M403.88 203.36h.9M388.53 202.48h.9M441.86 203.24h.9M413.84 203.02h.9M370.97 201.16h.9M428.28 201.71h.9M393.03 201.05h.9M401.21 199.69h.9M368.3 202.43h.9M379.67 200.71h.9M459.6 203.67h.9M369.03 200.47h.9M363.61 199.17h.9M383.38 198.7h.9M431.66 203.18h.9M346.04 203.37h.9M417.37 201.57h.9M338.72 193.89h.9M376.76 202.05h.9M445.16 201.19h.9M380.51 200.96h.9M343.58 196.88h.9M409.84 202.65h.9M352.17 203.87h.9M345.49 199.35h.9M364.58 200.23h.9M462.11 199.88h.9M456.15 203.7h.9M478.36 203.31h.9M399.93 200.22h.9M393.67 203.68h.9M342.21 199.85h.9M398.83 203.16h.9M353.51 201.94h.9M381.78 198.28h.9M337.31 192.91h.9M418.64 198.8h.9M369.91 200.58h.9M459.45 202.65h.9M439.37 203.33h.9M409.61 201.49h.9M437.69 203.2h.9M419.19 202.59h.9M376.39 201.42h.9M341.68 197.58h.9M381.03 202.52h.9M377.9 201.63h.9M458.96 203.97h.9M336.9 198.79h.9M377.56 203.32h.9M402.35 199.96h.9M451.12 204.09h.9M425.52 202.73h.9M488.24 202.44h.9M372.99 201.55h.9M342.48 190.1h.9M398.15 203.65h.9M420.7 188.2h.9M383.12 196.45h.9M423.92 203.63h.9M378.57 202.53h.9M444.22 203.71h.9M410.98 203.31h.9M443.3 203.42h.9M359.84 193.38h.9M434.3 193.36h.9M378.53 200.49h.9M379.71 202.36h.9M419.53 202.88h.9M354.52 202.14h.9M394.54 198.19h.9M401.72 201.13h.9M372.97 203.85h.9M400.72 201.45h.9M428.8 203.65h.9M398.99 200.52h.9M387.33 203.45h.9M370.56 188.85h.9M399.95 203.14h.9M422.05 203.06h.9M424.22 203.29h.9M349.68 197.35h.9M437.18 203.36h.9M416.86 202.22h.9M417.8 204.12h.9M364.6 203.42h.9M350.89 203.46h.9M393.33 201.32h.9M432.71 202.04h.9M396.18 201.37h.9M423.23 199.36h.9M424.58 202.43h.9M377.74 200.27h.9M375.3 202.7h.9M348.5 202.9h.9M347.57 202.27h.9M447.23 203.59h.9M467.3 203.57h.9M413.1 203.56h.9M395.33 200.03h.9M375.92 202.37h.9M463.04 200.94h.9M445.4 202.92h.9M415.01 202.76h.9M442.86 192.38h.9M402.49 197.85h.9M405.01 201.89h.9M482.41 202.78h.9M480.42 203.14h.9M421.22 199.52h.9M425.36 203.02h.9M477.4 202.22h.9M401.92 201.47h.9M362.45 199.67h.9M352.96 194.12h.9M362.88 203.33h.9M394.86 202.54h.9M369.99 202.58h.9M411.87 203.28h.9M363.58 203.78h.9M447.34 201.19h.9M379.62 198.15h.9M424.02 203.6h.9M402.78 200.85h.9M463.65 203.55h.9M352.23 202.68h.9M444.05 201.41h.9M416.41 199.96h.9M351.36 197.26h.9M387.1 200.38h.9M366.79 202.13h.9M341.64 202.52h.9M349.9 196.89h.9M395.3 203h.9M454.04 203.8h.9M354.12 191.05h.9M369.19 200.34h.9M431.18 203.72h.9M442.2 200.52h.9M341.94 202.63h.9M418.86 202.62h.9M392.2 203.83h.9M453.78 202.51h.9M377.62 203.43h.9M371.74 200.72h.9M396.81 201.08h.9M438.79 200.25h.9M354.38 199.7h.9M368.55 203.7h.9M353.82 199.96h.9M347 199.89h.9M439.79 201.87h.9M336.29 203.22h.9M463.57 201.33h.9M408.18 203.69h.9M426.01 201.84h.9M425.78 202.04h.9M398.5 201.78h.9M390.3 201.91h.9M358.19 198.39h.9M426.4 201.29h.9M416.08 202.5h.9M355.91 202.71h.9M338.67 200.05h.9M425.09 199.89h.9M343.35 197.02h.9M446.49 203.61h.9M421.31 202.84h.9M350.18 193.3h.9M424.37 202.57h.9M442.13 202.01h.9M338.68 203.84h.9M361.81 202.72h.9M371.62 198.86h.9M408.91 202.32h.9M438.55 203.44h.9M405.71 203.83h.9M394.83 186.07h.9M396.28 204.04h.9M401.38 201.5h.9M456.36 198.95h.9M382.68 202.71h.9M389.37 201.47h.9M421.79 202.53h.9M441.56 204.11h.9M395.41 199.81h.9M342.51 199.76h.9M417.78 203.58h.9M408.9 201.92h.9M389.47 203.13h.9M452.01 203.34h.9M383.94 200.64h.9M381.4 188.64h.9M462.36 199.43h.9M380.05 197.37h.9M390.8 198.84h.9M453.77 203.34h.9M382.23 197.31h.9M365.04 203.14h.9M385.2 200.48h.9M406.22 202.9h.9M389.32 198.5h.9M378.36 198.12h.9M411.53 203.57h.9M417.47 202.34h.9M409.54 201.47h.9M396.7 193.62h.9M422.23 201.28h.9M360.93 200.31h.9M342.82 203.97h.9M430.21 201.26h.9M420.02 202.3h.9M415.36 198.02h.9M423.84 202.38h.9M442.91 201.72h.9M354.88 201.23h.9M410.65 203.35h.9M404.19 200.73h.9M447.5 202.2h.9M344.57 202.58h.9M413.67 202.87h.9M457.34 202.95h.9M352.81 194.77h.9M442.7 200.53h.9M419.16 186.81h.9M432.7 203.9h.9M414.69 203.03h.9M371.36 202.45h.9M400.16 201.67h.9M405.75 204h.9M374.46 198.23h.9M412.19 202.43h.9M415.49 200.89h.9M377.04 199.41h.9M341.4 193.91h.9M440.59 202.54h.9M446.77 203.62h.9M338.45 202.55h.9M366.75 203.1h.9M368.59 201.25h.9M376.56 195.41h.9M402.64 201.53h.9M431.19 202.27h.9M420.85 203.99h.9M413.92 202.3h.9M388.77 202.34h.9M424.73 204.05h.9M339.69 202.92h.9M368.19 199.66h.9M413.84 201.12h.9M380.77 196.33h.9M450.87 199.59h.9M397.19 201.6h.9M488.71 198.16h.9M379.88 200.71h.9M385.05 201.28h.9M401.56 196.88h.9M360.47 201.35h.9M373.95 203.68h.9M409.91 203.82h.9M421.73 201.47h.9M407.67 203.4h.9M417.49 203.59h.9M351.9 197.9h.9M389.33 202.96h.9M356.83 200.1h.9M466.9 201.15h.9M416.46 201.43h.9M444.93 203.26h.9M343.51 191.45h.9M368.69 201.17h.9M406.67 198.4h.9M463.3 200.19h.9M446.57 202.36h.9M352.78 201h.9M392.26 203.01h.9M362.95 203.9h.9M339.86 201.83h.9M430.96 204.03h.9M341.91 194.37h.9M439.79 202.62h.9M341.35 200.18h.9M444.06 203.81h.9M358.64 200.47h.9M355.06 201.8h.9M393.19 202.74h.9M340.57 185.65h.9M402.15 201.19h.9M441.73 201.61h.9M415.54 195.85h.9M369.01 202.98h.9M356.98 195.39h.9M488.02 203.87h.9M404.15 197.2h.9M400.96 197.51h.9M444.03 204.1h.9M399.5 203.89h.9M367.54 202.91h.9M357.62 193.54h.9M377.19 196.16h.9M431.53 200.65h.9M336.32 202.29h.9M447.52 200.99h.9M390.22 201.94h.9M441.22 203.23h.9M419.46 202.15h.9M353.18 200.32h.9M459.34 203.82h.9M418.23 201.55h.9M461.64 199.1h.9M412.95 202.84h.9M449.98 197.93h.9M343.29 198.69h.9M374.81 200.73h.9M417.98 201.44h.9M412.21 203.18h.9M423.13 203.81h.9M365.71 204.03h.9M445.02 201.57h.9M425.2 202.1h.9M392.94 197.99h.9M380.83 199.33h.9M458.61 201.28h.9M352.87 199.97h.9M421.92 203.55h.9M483.26 202.15h.9M350.97 196.72h.9M411.98 201.85h.9M485.78 203.51h.9M471.41 203.09h.9M437.32 203.95h.9M388.97 203.11h.9M359.53 192.42h.9M405.56 201.95h.9M437.64 201.66h.9M397.51 203.09h.9M364.07 203.26h.9M421.44 202.93h.9M414.38 203.07h.9M355.16 203.47h.9M408.53 203.21h.9M404.16 202.55h.9M403.3 203.53h.9M445.08 201.2h.9M378.18 200.8h.9M375.66 200.4h.9M412.1 201.79h.9M478.83 202.1h.9M370.13 202.7h.9M451.26 203.33h.9M361.49 200.19h.9M368.78 201h.9M470.74 203.51h.9M478.51 202.32h.9M337.8 193.54h.9M375.84 202.36h.9M439.78 203.13h.9M346.24 202.78h.9M346.51 194.18h.9M436.93 198.56h.9M408.68 203.57h.9M395.67 199.06h.9M416.25 200.69h.9M346.49 197.95h.9M443.88 201.89h.9M367.51 202.68h.9M431.14 201.41h.9M451.9 204.11h.9M402.51 200.54h.9M388.07 201.95h.9M348.1 201.82h.9M336.44 197.39h.9M378.79 199.76h.9M421.07 198.87h.9M359.55 201.99h.9M438.37 202.78h.9M375.73 200.83h.9M385.22 199.69h.9M377.71 201.97h.9M399.81 194.12h.9M442.38 199.53h.9M339.5 197.93h.9M371.07 198.55h.9M439.12 201.91h.9M362.04 203.52h.9M371.55 202.73h.9M370.14 201.73h.9M365.52 201.04h.9M403.65 202.16h.9M358.64 202.78h.9M370.12 201.35h.9M437.01 201.37h.9M341.8 202.54h.9M402.98 200.65h.9M363.69 202.79h.9M341.82 200.63h.9M381.05 203.96h.9M373.83 203.51h.9M453.39 192.53h.9M338.3 201.4h.9M385.98 202.54h.9M398.64 203.88h.9M420.53 203.05h.9M417.68 200.18h.9M396.05 197.81h.9M341.96 202.44h.9M403.35 200.39h.9M442.69 203.38h.9M352.33 194.74h.9M449.74 203.88h.9M434.88 203.99h.9M485.75 203.25h.9M339.87 202.7h.9M441.14 203.27h.9M366.83 201.72h.9M389.24 202.14h.9M441.77 200.75h.9M363.58 200.55h.9M404.25 199.13h.9M359.64 203.87h.9M340.8 203.64h.9M487.37 200.35h.9M416.64 204.05h.9M366.59 198.22h.9M372.55 198.57h.9M361.54 191.91h.9M440.09 201.81h.9M344.45 195.41h.9M441.46 203.82h.9M447.45 201.65h.9M410.85 202.05h.9M437.26 201.85h.9M388.06 199.14h.9M458.52 203.14h.9M361.59 196.45h.9M482.34 202.45h.9M418.34 202.93h.9M472.88 202.57h.9M411.17 202.18h.9M447.37 190.27h.9M407.86 186.61h.9M406.31 202.8h.9M431.94 201.73h.9M454.87 203.99h.9M447.63 203.62h.9M370.44 198.89h.9M403.31 203.11h.9M358.09 199.15h.9M337.71 200.33h.9M394.99 202.37h.9M343.46 201.84h.9M414.86 200.26h.9M444.96 204.07h.9M423.23 200h.9M406.27 200.37h.9M366.31 197.32h.9M343.97 203.88h.9M404.34 201.7h.9M437.85 200.4h.9M467.85 201.01h.9M347.25 197.72h.9M336.24 197.57h.9M435.75 188.82h.9M340.5 203.98h.9M474.91 203.55h.9M401.15 201.17h.9M367.09 201.67h.9M377.33 184.37h.9M420.58 203.47h.9M341.64 203.03h.9M443.49 203.97h.9M339.32 200.07h.9M377.47 201.6h.9M469.24 200.41h.9M341.76 203.16h.9M417.83 200.86h.9M444.8 201.74h.9M377.55 202.13h.9M482.99 203.58h.9M359 202.22h.9M465.44 201.94h.9M365.6 202.84h.9M380.3 199.73h.9M416.44 204.06h.9M361.23 199.47h.9M346.18 203.59h.9M341.72 193.83h.9M379.91 201.46h.9M417.7 204.07h.9M345.5 203.61h.9M470.92 203.37h.9M408.42 203.25h.9M351.52 185.99h.9M412.72 202.16h.9M438.61 202.27h.9M477.1 200.7h.9M446.96 200.2h.9M421.17 202.31h.9M366.63 199.33h.9M392.95 202.1h.9M343.46 198.87h.9M419.2 203.05h.9M478.36 202.13h.9M444.43 203.19h.9M383.86 201.91h.9M398.31 199.93h.9M430.46 197.29h.9M384.6 200.23h.9M402.54 199.89h.9M440.71 203.33h.9M479.29 190.92h.9M363.8 202.68h.9M420.07 202.73h.9M365.12 202.35h.9M436.34 201.4h.9M408.8 203.32h.9M340.56 203.99h.9M352.06 201.48h.9M376.94 201.01h.9M403.95 198.35h.9M401.53 200.86h.9M408.26 202.2h.9M456.95 200.31h.9M394.31 201.43h.9M412.32 202.63h.9M385.51 203.3h.9M369.06 200.34h.9M449.91 203.85h.9M358.93 197.97h.9M408.32 202.87h.9M390.1 203.03h.9M360.31 197.95h.9M445.65 200.62h.9M377.97 202.34h.9M416.93 198.27h.9M447.98 202.38h.9M468.33 203.54h.9M385.13 199.43h.9M407.38 202.75h.9M411.96 201.73h.9M445.11 202.83h.9M354.7 198.15h.9M416.15 196.87h.9M487.91 203.35h.9M386.5 202.12h.9M385.68 203.61h.9M396.7 198.32h.9M372.45 202.13h.9M366.59 203.41h.9M390.9 203.34h.9M362.15 197.23h.9M405.79 202.75h.9M426.51 201.45h.9M364.72 203.5h.9M412.95 203.05h.9M385.38 202.04h.9M394.87 196.26h.9M346.48 199.77h.9M428.09 202.81h.9M446.73 199.76h.9M371.52 199.22h.9M402.5 203.15h.9M363.07 202.47h.9M390.37 203.91h.9M426.6 203.32h.9M357.16 202.8h.9M361.66 195.88h.9M373.57 201.16h.9M393.38 199.83h.9M465.85 202.55h.9M365.7 202.28h.9M447.9 203.72h.9M396.59 200.93h.9M444.86 200.91h.9M356.85 201.2h.9M427.77 199.08h.9M422.48 203.23h.9M439.69 203.47h.9M395.12 192.52h.9M393.63 200.37h.9M364.6 204.06h.9M412.95 201.22h.9M463.3 204.09h.9M390.04 201.22h.9M449.58 203.79h.9M444.5 188.25h.9M477.22 202.7h.9M422.33 203.48h.9M426.06 202.77h.9M357.22 203.54h.9M387.83 199.54h.9M430.74 202.91h.9M446.91 203.67h.9M471.86 200.86h.9M404.93 202.34h.9M370.23 201.84h.9M371.93 200.66h.9M421.06 203.39h.9M417.63 201.9h.9M371.38 202.93h.9M398.69 203.79h.9M389.62 203.75h.9M437.57 185.77h.9M343.79 199.61h.9M411.81 203.45h.9M346.72 201h.9M427.94 203.53h.9M342.69 201.37h.9M416.23 200.95h.9M434.27 202.79h.9M398.08 184.69h.9M388.63 202.68h.9M406.71 202.56h.9M388.5 203.28h.9M352.87 203.13h.9M418.99 203.78h.9M404.48 202.46h.9M431.09 199.63h.9M412.87 203.98h.9M378.65 202.13h.9M354.16 195.57h.9M416.14 202h.9M434.95 201.55h.9M382.53 197.68h.9M377.06 203.82h.9M344.47 203.64h.9M430.73 202.21h.9M405.46 201.57h.9M386.57 200.92h.9M363.39 196.04h.9M455.05 203.7h.9M440.9 201.64h.9M370.27 191.79h.9M421.28 203.09h.9M445.45 202.32h.9M393 203.95h.9M339.22 195.82h.9M384.67 199.98h.9M344.45 178.64h.9M418.46 200.25h.9M355.42 195.69h.9M348.78 201.09h.9M368.27 201.28h.9M440.21 203.89h.9M434.83 201.63h.9M347.87 201.52h.9M382.07 201.33h.9M391.13 199.92h.9M342.29 203.38h.9M447.87 202.86h.9M422.73 202.48h.9M338.97 200.37h.9M398.67 201.48h.9M345 198.87h.9M405.26 201.91h.9M358.28 203.72h.9M340.43 200.06h.9M443.08 201.39h.9M387.8 203.89h.9M340.73 200.44h.9M364.38 200.74h.9M409.05 203.02h.9M419.31 200.96h.9M476.09 202.64h.9M425.76 203.57h.9M440.31 203.48h.9M431.93 204.01h.9M430.8 203.24h.9M447.09 197.94h.9M418.59 199.24h.9M344.67 191.73h.9M345.66 201.79h.9M429.55 198.22h.9M386.24 203.96h.9M402.14 203.13h.9M468.83 199.58h.9M443.97 203.54h.9M411.05 200.54h.9M366.98 203.71h.9M342.32 196.85h.9M430.09 202.51h.9M369.48 203.04h.9M337.74 202.81h.9M404.03 203.87h.9M399.12 203.3h.9M390.41 201.81h.9M411.86 202.82h.9M359.04 201.34h.9M425.95 198.76h.9M376.42 198.81h.9M350.53 197.19h.9M439.67 202.38h.9M374.38 202.54h.9M488.04 203.79h.9M423.17 203.26h.9M484.86 203.95h.9M442.33 200.88h.9M439.05 202.16h.9M423.45 203.51h.9M355.32 196.12h.9M384.68 203.08h.9M485.14 203.93h.9M402.97 201.54h.9M414.29 202.94h.9M459.81 201.12h.9M358.24 191.97h.9M343.95 196.97h.9M401.66 203.9h.9M341.99 200.75h.9M484.6 203.71h.9M461.48 202.78h.9M397.56 203.59h.9M360.73 204.03h.9M433.71 203.62h.9M360 197.67h.9M398.26 201.31h.9M467.82 200.35h.9M352.55 198.04h.9M336.75 200.94h.9M461.08 202.71h.9M362.14 199.01h.9M375.82 201.45h.9M375.67 202.86h.9M348.88 201.27h.9M392.03 197.95h.9M413.94 201.39h.9M439.36 202.68h.9M441.89 201.82h.9M392.42 197.13h.9M405.69 201.14h.9M473.31 203.19h.9M405.05 203.97h.9M393.05 201.56h.9M411.12 202.47h.9M344.13 202.93h.9M361.54 193.54h.9M417.3 200.3h.9M444.65 201.09h.9M420.74 202.5h.9M470.11 199.74h.9M443.59 203.94h.9M365.21 202.56h.9M473.11 203.69h.9M446.27 203.11h.9M482.61 203.59h.9M391.37 198.54h.9M345.34 200.99h.9M387.8 203.55h.9M448.46 201.16h.9M346.29 199.38h.9M373.57 199.67h.9M407.37 202.73h.9M405.32 202.46h.9M438.88 201.74h.9M466.76 203.59h.9M336.98 195.31h.9M366.28 198.55h.9M349.3 200.64h.9M452.64 201.56h.9M440.28 203.3h.9M359.62 201.45h.9M383.37 202.36h.9M427.54 202.68h.9M461.37 203.31h.9M368.79 196.64h.9M365.74 199.83h.9M413.25 203.19h.9M393.25 202.47h.9M439.74 194.74h.9M350.47 198.91h.9M371.91 203.15h.9M360.89 201.83h.9M416.38 200.49h.9M407.54 191.45h.9M390.77 197.75h.9M446.76 197.15h.9M443.85 184.82h.9M369.59 199.04h.9M390.97 198.4h.9M431.91 202.12h.9M458.68 198.46h.9M451.69 204.05h.9M460.01 203.14h.9M398.66 203.28h.9M447.51 204.12h.9M397.35 202.72h.9M435.37 200.1h.9M424.94 200.46h.9M379.63 201.69h.9M343.77 194.9h.9M483.65 203.47h.9M385.36 198.76h.9M417.33 198.95h.9M435.43 202.9h.9M368.95 203.85h.9M431.95 197.49h.9M459.01 203.11h.9M378 204.01h.9M396.45 199.47h.9M473.24 203.15h.9M391.73 197.75h.9M362.1 197.44h.9M373.39 202.46h.9M398.54 198.53h.9M418.08 203.41h.9M399.12 203h.9M340.28 201.08h.9M405.89 202.84h.9M344.45 196.82h.9M434.41 201.63h.9" stroke="#c4212b" stroke-width="0.9" fill="none"/>
<path d="M376.05 250.73h.9M402.98 227.81h.9M344.65 226.08h.9M359.81 233.57h.9M405.73 236.04h.9M357.11 224.83h.9M374.84 247.29h.9M385.43 242.64h.9M354.63 227.05h.9M421.23 226.81h.9M413.83 235h.9M405.74 224.68h.9M373.79 250.95h.9M375.44 226.53h.9M410.14 231.23h.9M402.26 228.8h.9M364.57 226.53h.9M359.42 235.46h.9M344.32 224.82h.9M389.68 253.21h.9M419.35 237.23h.9M415.05 225.76h.9M390.05 224.66h.9M391.09 224.68h.9M347.33 224.86h.9M372.21 230.29h.9M358.45 224.76h.9M347.98 240.11h.9M441.36 224.92h.9M356.66 241.5h.9M405.03 252.49h.9M434.93 226.54h.9M414.18 251.08h.9M432.15 237.34h.9M419.93 238.43h.9M380.58 233.42h.9M429.05 229.87h.9M435.87 225.54h.9M410.71 247.21h.9M335.56 225.53h.9M369.44 226.81h.9M358.37 234.12h.9M420.92 236.15h.9M365.85 228.38h.9M420.59 239.78h.9M442 229.18h.9M414.82 244.56h.9M391.11 237.66h.9M427.15 225.17h.9M338.08 230h.9M355.34 239.96h.9M416.7 225.34h.9M351.6 232.75h.9M402.22 225.29h.9M424.98 224.97h.9M410.64 233.26h.9M379.41 225.98h.9M426.41 245.64h.9M338.56 224.66h.9M413.09 251.84h.9M369.61 233.38h.9M379.6 224.75h.9M425.59 240.97h.9M359.71 239.9h.9M375.7 228.4h.9M426.39 225.93h.9M415.1 228.15h.9M417.72 237.22h.9M342.43 227.26h.9M380.64 230.17h.9M394.9 238.24h.9M378.34 231.72h.9M424.32 225.5h.9M349.75 225.85h.9M429.94 235.79h.9M374.74 239.39h.9M389.13 250.96h.9M389.07 235.93h.9M408.89 236.09h.9M354.1 231.03h.9M381.16 237.26h.9M418.59 225.74h.9M374.84 226.23h.9M383.5 251.16h.9M419.48 245.87h.9M389.26 225.04h.9M375.09 224.81h.9M378.1 229.89h.9M386.7 252.27h.9M392.45 225.33h.9M354.18 233.95h.9M390.64 229.15h.9M388.23 229.12h.9M408.15 234.71h.9M340.09 227.04h.9M361.89 232.42h.9M384.91 240.84h.9M401.66 231.86h.9M347.07 233.22h.9M356.13 227.52h.9M398.01 226.48h.9M428.2 247.82h.9M369.75 232.89h.9M404.94 234.61h.9M374.9 239.61h.9M394.77 226.53h.9M342.94 228.25h.9M433.32 238.9h.9M400.89 231.95h.9M366.28 225.24h.9M382.75 244.08h.9M394.76 253.06h.9M421.36 232.49h.9M398.77 229.42h.9M432.94 225.25h.9M432.37 227.27h.9M415.39 229.6h.9M409.88 231.84h.9M403.07 249.86h.9M431.15 227.79h.9M412.17 237.59h.9M345.13 228.31h.9M365.05 234.76h.9M352.91 226.25h.9M362.09 226.33h.9M396.02 246.41h.9M404.18 236.66h.9M417.21 228.88h.9M381.12 236.16h.9M357.19 236.97h.9M434.46 224.73h.9M348.91 231.13h.9M372.32 225.39h.9M400.6 232.73h.9M392.88 231.85h.9M401.54 242.28h.9M412.8 239.23h.9M424.33 235.07h.9M347.03 224.74h.9M383.8 237.42h.9M360.22 246.24h.9M366.13 230.37h.9M385.52 251.72h.9M351.46 225.73h.9M403.42 228.21h.9M371.96 225.04h.9M397.41 226.21h.9M410.28 224.76h.9M392.32 227.43h.9M360.35 247.58h.9M374.82 224.69h.9M362.91 227.57h.9M391.89 228.54h.9M367.8 230.06h.9M385.57 225.47h.9M390.88 233.88h.9M396.87 240.42h.9M383.85 225.77h.9M367.69 228.77h.9M379.48 225.73h.9M427.94 231.61h.9M400.74 225.07h.9M381.47 225.07h.9M393.5 239.88h.9M427.22 224.92h.9M384.46 236.89h.9M375.3 248.98h.9M388.32 246.32h.9M342.1 226.36h.9M410.17 245.48h.9M388.4 245.75h.9M417.03 229.41h.9M411.47 232.21h.9M347.02 237.88h.9M426.16 225.88h.9M418.87 224.69h.9M388.9 227.02h.9M389.5 228.54h.9M394.32 229.77h.9M416.93 237.26h.9M364.89 225.5h.9M360.55 226.91h.9M380.78 231.36h.9M417.58 253.74h.9M363.09 226.55h.9M390.9 224.66h.9M403.52 224.69h.9M399.08 234.39h.9M376.24 251.71h.9M368.6 224.66h.9M346.4 225.46h.9M414.64 240.74h.9M373.11 245.49h.9M352.47 225.56h.9M396.61 232.56h.9M420.33 227.09h.9M432.37 234.88h.9M396.96 225.8h.9M395.78 250.82h.9M368.17 226.13h.9M418.28 236.66h.9M349.38 233.36h.9M336.88 229.84h.9M394.35 231.72h.9M378.82 233.15h.9M433.52 236.39h.9M385.21 246.84h.9M418.02 231.9h.9M367.47 226.72h.9M342.53 227.91h.9M381.06 234.29h.9M365.49 245.12h.9M387.04 244.15h.9M362.93 243.71h.9M393.92 232.91h.9M381.84 249.71h.9M395.69 232.6h.9M374.15 229.93h.9M364.06 229.19h.9M363.34 224.77h.9M374.34 224.67h.9M406.66 224.87h.9M364.2 231.74h.9M366.39 237.59h.9M367.73 246.41h.9M430.28 226.08h.9M404.36 228.18h.9M389.81 226.6h.9M393.24 236.52h.9M426.36 232.5h.9M396.18 246.99h.9M386.77 245.96h.9M378.74 250.84h.9M397.52 232.51h.9M418.95 234.9h.9M390.89 236.81h.9M363.15 227.84h.9M335.78 228.23h.9M414.45 253.19h.9M416.56 224.94h.9M369.6 246.83h.9M346.46 236.91h.9M421.02 225.17h.9M357.5 236.31h.9M405.48 224.68h.9M392.13 225.54h.9M427.69 224.66h.9M377.61 224.66h.9M432.83 235.67h.9M335.09 224.94h.9M405.22 241.71h.9M395.29 224.98h.9M361.4 237.06h.9M348.22 226.89h.9M351.33 232.49h.9M372.63 241.07h.9M374.34 243.05h.9M424.13 232.18h.9M383.03 225.01h.9M400.99 224.74h.9M437.66 233.43h.9M348.96 232.2h.9M385.54 230.64h.9M358.45 225.09h.9M426.22 238.53h.9M414.78 229.12h.9M394.31 227.06h.9M405.68 229.79h.9M419.64 226.85h.9M376.11 224.8h.9M375.88 245.81h.9M339.45 224.73h.9M424.63 226.05h.9M400.88 228.07h.9M408.29 239.77h.9M418.04 227.82h.9M390.63 226.65h.9M379.36 247.9h.9M362.06 228.66h.9M422.77 227.68h.9M412.74 237.03h.9M375.99 252.09h.9M344.76 235.14h.9M412.81 239.4h.9M386.07 240.37h.9M339.6 228.93h.9M428.48 237.64h.9M410.08 231.76h.9M418.14 231.18h.9M347.85 229.04h.9M416.3 225.34h.9M384.76 244.31h.9M336.27 225.32h.9M374.12 237.48h.9M396.87 226.83h.9M351.68 227.83h.9M431.07 236.13h.9M410.13 238.4h.9M350.51 237.85h.9M336.98 225.68h.9M434.16 225.59h.9M341.82 227.17h.9M394.53 230.63h.9M397.7 224.74h.9M373.72 243.01h.9M366.09 225.42h.9M354.15 242.94h.9M428.86 227.01h.9M374.65 245.67h.9M433.12 240.48h.9M408.38 224.99h.9M414.79 228.15h.9M338.8 225.17h.9M407.04 229.94h.9M339.97 225.38h.9M368.3 239.88h.9M418.28 250.58h.9M352.76 225.43h.9M375.23 227.17h.9M357.14 236.93h.9M335.43 224.73h.9M368.74 226.63h.9M384.86 249.83h.9M414.47 229.8h.9M355.2 232.94h.9M418.13 239.83h.9M389.68 239.41h.9M370.83 248.43h.9M414.93 243.68h.9M393.23 249.26h.9M385.62 250.58h.9M382.8 250.3h.9M369.2 231.19h.9M395.45 233.08h.9M426.05 225.37h.9M411.18 232.5h.9M378.58 224.96h.9M433.21 235.76h.9M396.6 224.82h.9M369.56 227.21h.9M344.2 226.48h.9M374.48 228.92h.9M342.29 224.84h.9M360.02 229.03h.9M374.11 230.62h.9M354 235.86h.9M435.74 243.46h.9M422.97 231.64h.9M409.56 228.34h.9M343.09 227.17h.9M423.2 224.69h.9M390.94 225.43h.9M367.3 225.84h.9M401.37 239.25h.9M430.49 224.72h.9M348.69 225.12h.9M366.87 225.14h.9M426.84 230.06h.9M419.69 225.46h.9M389.04 224.69h.9M387.28 249.43h.9M396.14 227.06h.9M403.35 231.71h.9M388.68 235.92h.9M411.76 248.37h.9M440.49 236.2h.9M408.68 243.53h.9M355.83 225.38h.9M426 224.67h.9M415.41 225.1h.9M364.29 245.62h.9M355.35 239.06h.9M363.68 239.88h.9M376.08 232.88h.9M408.79 239.69h.9M357.27 234.33h.9M352.81 225.71h.9M419.01 225.23h.9M379.62 224.95h.9M397.84 225.43h.9M373.89 250.65h.9M383.01 231.34h.9M346.3 230.51h.9M351.51 225.17h.9M350.33 234.63h.9M405.38 226.92h.9M368.87 226.41h.9M394.08 233.7h.9M349.18 225.01h.9M402.6 226.72h.9M406.84 225.44h.9M345.45 224.72h.9M427.56 224.66h.9M373.36 234.97h.9M358.5 240.19h.9M335.38 226.17h.9M355.23 245.51h.9M393.91 225.07h.9M416.5 224.67h.9M408.6 245.3h.9M403.92 224.67h.9M341.75 232.83h.9M426.43 246.46h.9M422.83 245.88h.9M357.44 225.51h.9M388.9 224.7h.9M408.62 228.02h.9M434.06 229.57h.9M417.09 233.72h.9M383.59 225.38h.9M421.33 235.29h.9M384.99 252.7h.9M385.06 239.99h.9M352.53 227h.9M403.07 226.41h.9M442.59 231.35h.9M412.61 226.61h.9M418.35 246.39h.9M384.49 233.32h.9M405.62 226.28h.9M339.8 224.94h.9M391.66 236.03h.9M427.4 225.25h.9M380.22 225.29h.9M362.84 230.1h.9M408.91 224.93h.9M353.63 228.9h.9M391.2 225.42h.9M406.24 233.72h.9M439 231.71h.9M344.41 228.35h.9M364.18 226.36h.9M343.03 230.77h.9M405.84 226.65h.9M359.79 247.67h.9M394.62 238.51h.9M361.43 245.82h.9M412.56 231.99h.9M346.95 227.55h.9M419.39 224.95h.9M357.06 226.99h.9M379.86 232.15h.9M339.77 227.67h.9M342.41 225.82h.9M369.71 250.83h.9M382.22 226.91h.9M370.45 226.77h.9M352.36 226.43h.9M409.64 228.04h.9M359.65 224.68h.9M420.02 226.94h.9M364.11 242.24h.9M342.34 233.33h.9M417.34 224.66h.9M365.96 242.04h.9M386.29 225.41h.9M354.36 234.42h.9M358.04 234.29h.9M407.13 237.86h.9M338.03 225.37h.9M375.33 241.49h.9M393.6 235.68h.9M341.08 228.88h.9M350.98 237.4h.9M418.57 236.62h.9M404.6 253.21h.9M424.53 227.76h.9M336.19 224.68h.9M339.5 227.95h.9M357.46 224.66h.9M352.29 227.02h.9M372.57 226.37h.9M429.89 247.24h.9M356.05 234.88h.9M352.57 228.62h.9M388.95 227.24h.9M419.64 225.86h.9M421.66 235.25h.9M343.07 224.82h.9M422.04 226.04h.9M406.93 241.48h.9M357 224.72h.9M409.81 228.15h.9M410.34 225.34h.9M403.88 226.62h.9M382.26 234.05h.9M419.53 224.71h.9M353.98 234.4h.9M343.82 234.37h.9M411.28 236.85h.9M374.65 245.46h.9M363.71 245.1h.9M374.03 228.78h.9M425.21 225.41h.9M406.1 254.02h.9M378.12 232.85h.9M405.79 239.73h.9M377.08 228.3h.9M353.98 232.44h.9M370.54 240.68h.9M339.6 230.21h.9M352.18 239.42h.9M423.84 224.87h.9M357.6 225.49h.9M395.3 230.3h.9M394.58 245.2h.9M385.68 225.2h.9M360.67 225.35h.9M365.21 231.67h.9M362.73 226.21h.9M346.8 224.72h.9M383.75 225.06h.9M419.68 224.7h.9M366.02 230.24h.9M384.09 238.38h.9M396.52 238.75h.9M342.06 225.6h.9M364.51 230.04h.9M380.15 224.92h.9M348.74 224.71h.9M340.77 229.11h.9M356.21 232.43h.9M388.38 226.71h.9M421.8 226.98h.9M339.76 225.17h.9M413.69 231.43h.9M363.54 227.45h.9M389.9 227.13h.9M390.56 224.67h.9M376.75 224.96h.9M386.59 232.29h.9M433.37 241.84h.9M382.96 226.85h.9M375.9 224.74h.9M422.74 248.04h.9M354.94 239.29h.9M410.26 233.09h.9M382.81 242.76h.9M385.97 250.33h.9M393.1 229.65h.9M432.33 227.93h.9M374.61 227.11h.9M406.69 237.44h.9M401.99 232.27h.9M407.47 224.66h.9M386.59 238.06h.9M413.75 244.37h.9M359.24 244.39h.9M423.62 225.46h.9M358.36 230.76h.9M435.79 224.69h.9M338.03 226.55h.9M419.08 246.16h.9M367.69 224.66h.9M428.57 228.2h.9M406.32 224.66h.9M373.72 225.39h.9M390.47 246.2h.9M392.61 232.69h.9M358.63 225.07h.9M360.6 226.6h.9M385.88 250.09h.9M364.21 225.78h.9M414.96 251.17h.9M360.33 226.52h.9M379.68 224.74h.9M344.87 228.92h.9M361.43 225.79h.9M421.96 233.03h.9M405.79 240.75h.9M434.46 224.87h.9M414.92 224.67h.9M347.73 225.63h.9M348.84 225h.9M360.08 239.84h.9M419.91 231.45h.9M394.3 240.69h.9M398.74 224.79h.9M384.56 225.66h.9M385.75 252.14h.9M356.14 226.69h.9M397.77 237.04h.9M367.89 228.34h.9M388.77 249.63h.9M340.21 232.91h.9M395.09 249.26h.9M377.06 235.89h.9M405.02 227.58h.9M390.85 252.88h.9M395.45 237.38h.9M395.86 226.3h.9M379.68 225.68h.9M381.1 224.77h.9M365.84 231.82h.9M398.8 228.76h.9M422.38 248.02h.9M417.73 238.59h.9M352.43 234.22h.9M339.58 225.36h.9M335.05 228.24h.9M409.08 237.42h.9M393.49 239.87h.9M393.97 243.07h.9M351.7 228.68h.9M402.89 224.77h.9M395.66 249.23h.9M344.3 232.17h.9M412.59 248.34h.9M399.47 230.89h.9M382.44 234.45h.9M371.38 241.3h.9M393.94 229.79h.9M390.56 238.86h.9M425.28 237.34h.9M361.27 224.66h.9M347.89 224.75h.9M389.68 224.79h.9M386.03 240.69h.9M382.48 246.07h.9M373.74 230.59h.9M363.49 225h.9M397.33 225.03h.9M350.82 226.07h.9M413.59 253.62h.9M358.33 225.8h.9M421 252.99h.9M406.18 226.26h.9M441.03 224.66h.9M359.94 229.55h.9M367.45 239.75h.9M378.09 224.82h.9M353.67 234.41h.9M348.93 230.87h.9M382.92 225h.9M340.88 233.64h.9M404.6 244.59h.9M418.33 225.38h.9M368.81 225.31h.9M422.57 233.23h.9M406.87 253.29h.9M391.17 229.9h.9M365.22 249.1h.9M348.05 225.19h.9M356.27 230.41h.9M360.43 227.83h.9M337.58 224.69h.9M366.15 224.87h.9M410.09 225.88h.9M394.81 224.68h.9M396.08 227.78h.9M366.89 243.73h.9M341.45 227.3h.9M387.33 226.83h.9M353.02 229.37h.9M365.77 227.94h.9M362.75 236.57h.9M379.77 234.58h.9M398.64 239.19h.9M409.93 233.48h.9M343.08 233.76h.9M392.03 224.69h.9M415.2 231.77h.9M385.79 247.54h.9M435.23 228.44h.9M381.48 239.54h.9M431.89 235.41h.9M395.56 233.14h.9M357.97 226.24h.9M362.44 248.17h.9M356.83 239.11h.9M407.45 227.2h.9M346.38 231.64h.9M415.58 236.6h.9M412.15 234.94h.9M338.05 230.76h.9M352.94 227.36h.9M441.23 236.13h.9M429.49 225.47h.9M433.49 242.72h.9M353.17 237.61h.9M353.56 226.9h.9M420.18 244.16h.9M378.05 229h.9M410.11 254.59h.9M402.76 227.9h.9M360.81 225.36h.9M400.97 239.64h.9M358.9 237.03h.9M400.22 233.91h.9M391.76 229.2h.9M336.47 227.29h.9M430.83 233.95h.9M352.2 239.08h.9M379.63 250.64h.9M340.47 224.68h.9M407.89 231.45h.9M402.3 227.48h.9M398.99 224.87h.9M357.16 236.3h.9M359.59 224.9h.9M405.07 253.65h.9M436.03 234.67h.9M397.81 232.56h.9M402.49 224.78h.9M416.5 224.85h.9M387.48 241.5h.9M419.44 226.96h.9M403.92 232.93h.9M388.34 234.44h.9M382.95 228.37h.9M417.36 236.8h.9M440.31 235.97h.9M346.75 228.52h.9M388.59 242.39h.9M335.97 230h.9M371.41 233.82h.9M376.5 228.36h.9M403.74 238.49h.9M388.3 230.11h.9M434.12 224.67h.9M418.3 224.96h.9M388.66 235.68h.9M343.34 228.95h.9M409.66 227.95h.9M393.14 228.87h.9M351.32 225.76h.9M393.35 243.35h.9M425.32 228.48h.9M393.26 227.39h.9M341.8 234.95h.9M343.52 226.38h.9M426.98 245.4h.9M383.24 235.68h.9M420.62 247.37h.9M423.48 251.25h.9M339.84 226.71h.9M372.56 224.67h.9M356.82 246.52h.9M338.41 224.96h.9M364.91 237.15h.9M357.27 227.16h.9M367.68 224.93h.9M345.35 226.96h.9M343.67 236.71h.9M362.73 227.64h.9M341.73 232.45h.9M355.3 224.75h.9M374.96 247.25h.9M397.62 224.78h.9M432.51 225.83h.9M387.06 226.75h.9M396.22 226.28h.9M393.63 226.34h.9M420.14 229.99h.9M390.26 236.86h.9M362.45 225.39h.9M378.96 240.03h.9M414 230.59h.9M400.51 226.35h.9M421.76 233.53h.9M411.67 232.7h.9M417.11 226.63h.9M419.72 227.28h.9M390.59 225.15h.9M378.5 246.34h.9M393.49 236.88h.9M409.14 238.36h.9M412.69 235.11h.9M351.46 230.07h.9M365.2 224.66h.9M389.69 252.31h.9M385.3 240.84h.9M402.25 224.69h.9M394.2 253.45h.9M405.55 227.02h.9M432.73 243.77h.9M426.6 229.81h.9M392.19 227.33h.9M382.41 234.69h.9M368.48 233.82h.9M340.76 232.94h.9M346.22 236.64h.9M427.68 238.25h.9M355.03 231.16h.9M341.51 231.06h.9M420.06 225.75h.9M382.72 224.84h.9M407.03 238.81h.9M341.32 228.83h.9M416.7 225.61h.9M427.82 224.79h.9M423.15 225.04h.9M384.76 231.24h.9M397.83 224.81h.9M335.14 225.42h.9M413.08 248.64h.9M399.11 240.53h.9M358.72 225.54h.9M390.35 253.04h.9M403.43 226.88h.9M373.7 226.55h.9M385.02 224.83h.9M424.5 225.93h.9M370.74 238.92h.9M359.71 237.67h.9M439.38 224.68h.9M419.35 242.45h.9M420.76 233.69h.9M346.4 231.73h.9M397.64 231.18h.9M417.81 225.5h.9M375.48 235.13h.9M431.85 242.21h.9M363.24 228.67h.9M391.6 230.41h.9M343.39 226.31h.9M429.94 230.5h.9M433.99 224.66h.9M398.72 251.62h.9M368.39 227.75h.9M351.26 239.49h.9M395.78 234.5h.9M399.39 248.39h.9M390.75 232.99h.9M383.2 227.54h.9M388.31 224.84h.9M403.97 224.7h.9M385.84 225.76h.9M377.22 225.83h.9M359.12 228.73h.9M347.81 225.6h.9M412.69 224.91h.9M426.38 225.64h.9M418.4 228.48h.9M374.57 224.66h.9M354.14 242.89h.9M388.29 229.72h.9M398.62 224.85h.9M351.22 238.78h.9M403.1 227.38h.9M428.13 229.18h.9M419.73 245.41h.9M365.19 248.89h.9M357.56 226.05h.9M390.45 233.37h.9M393.26 230.62h.9M419.15 226.28h.9M381.89 237.13h.9M373.24 230.2h.9M363.81 230.73h.9M424.72 230.54h.9M372.82 224.96h.9M394.25 245.35h.9M376.13 226.22h.9M424.47 232.61h.9M417.74 231.98h.9M366.53 233.35h.9M371.24 236.12h.9M420.9 242.55h.9M418.53 225.03h.9M364.02 235.3h.9M403.64 248.31h.9M382.46 224.74h.9M342.83 224.68h.9M393.05 227.41h.9M338.88 224.69h.9M372.49 240.41h.9M408.82 225.9h.9M423.83 235.43h.9M396.24 234.46h.9M363.15 225.04h.9M394.71 225.33h.9M372.78 249.35h.9M354.6 225.41h.9M407.26 231.79h.9M416.85 229.44h.9M442.37 225.2h.9M375.03 230.37h.9M385.71 234.22h.9M409.55 225.21h.9M405.08 244.64h.9M379.29 226.44h.9M362.14 233.16h.9M347.86 225.31h.9M367.41 236.43h.9M415.14 233.09h.9M350.88 226.81h.9M341.38 236.3h.9M384.66 244.46h.9M361.46 226.26h.9M350.36 227.23h.9M409 233.31h.9M369.78 225.01h.9M364.3 239.03h.9M353.95 245.08h.9M425.44 224.66h.9M407.24 231.76h.9M379.43 233.66h.9M336.72 229.22h.9M425.68 225.1h.9M421.87 251.88h.9M355.81 224.97h.9M370.35 248.96h.9M416.55 225.49h.9M377.75 232.55h.9M351.91 224.71h.9M355.5 226.37h.9M338.89 233.28h.9M385.91 229.65h.9M394.73 244.85h.9M379.24 248.21h.9M397.39 251.67h.9M367.73 250.07h.9M389 237.26h.9M345.17 226.81h.9M405.83 225.74h.9M396.18 242.17h.9M368.65 237.06h.9M414.1 242.44h.9M369.23 227.37h.9M397.92 230.14h.9M385.96 233.4h.9M416.87 225.17h.9M357.8 224.95h.9M390.9 225.72h.9M383.24 241.04h.9M365.44 224.78h.9M359.85 235.89h.9M372.62 248.6h.9M351.64 226.25h.9M388.33 227.57h.9M366.83 224.88h.9M389.52 240.54h.9M374.78 251.1h.9M402.12 228.21h.9M374.42 226.51h.9M345.12 227.77h.9M392.63 242.84h.9M343.3 224.67h.9M413.23 247.66h.9M365.15 225.33h.9M419.25 227.04h.9M389.16 224.66h.9M397.87 229.98h.9M357.48 225.37h.9M435.07 226.45h.9M369.17 227.36h.9M372.18 228.24h.9M374.12 232.37h.9M400.9 227.63h.9M412.84 229.76h.9M351.09 240.45h.9M357.25 235.36h.9M416.61 242.59h.9M372.32 247.04h.9M349.82 229.3h.9M429.58 234.23h.9M387.37 238.77h.9M414.3 239.8h.9M417.01 225.85h.9M405.45 243.18h.9M415.55 225.47h.9M394.31 224.66h.9M361.41 232.92h.9M368.66 232.3h.9M419.92 245.65h.9M393.02 231.98h.9M351.24 224.67h.9M431 240.22h.9M355.24 232.67h.9M355.98 226.68h.9M420.37 249.39h.9M336.17 227.52h.9M410.34 225.2h.9M372.75 239.19h.9M356.88 225.2h.9M386.59 225.36h.9M363.28 225.16h.9M357.77 224.84h.9M379.45 227.54h.9M349.97 225.15h.9M378.46 224.77h.9M366.94 224.7h.9M414.77 225.02h.9M385.57 225.1h.9M408.67 253.17h.9M411.03 224.83h.9M355.96 225.15h.9M417.34 242.18h.9M425.03 228.86h.9M372.89 235.68h.9M387.14 238.59h.9M382.16 244.5h.9M399.63 226.57h.9M380.47 225.97h.9M378.27 229.39h.9M400.41 224.91h.9M407.49 225.1h.9M364.86 226.84h.9M342.82 237.71h.9M341.44 234.16h.9M409.02 250.54h.9M398.94 233.07h.9M383.04 232.76h.9M370.55 225.35h.9M398.14 242.96h.9M440.53 230.89h.9M356.97 231.2h.9M352.41 239.19h.9M416.54 228.55h.9M369.79 245.25h.9M382.02 224.79h.9M407.09 229.57h.9M347.53 236.84h.9M357.54 225.35h.9M392.02 226.24h.9M370.87 229.64h.9M381.57 243.9h.9M435.1 224.67h.9M421.93 238.32h.9M413.5 237.25h.9M357.24 243.88h.9M420.75 226.09h.9M392.5 225.54h.9M360.29 233.47h.9M350.01 224.66h.9M401.64 235.45h.9M368.43 224.96h.9M433.74 225.07h.9M385.84 237.83h.9M401.9 231.14h.9M393.22 225.77h.9M341.52 224.9h.9M389.8 225.15h.9M336.24 227.18h.9M415.31 230.22h.9M433.85 243.29h.9M420.82 226.53h.9M381.44 225.69h.9M403.18 228.76h.9M384.69 228.15h.9M353.92 231.51h.9M413.33 227.98h.9M348.79 231.05h.9M402.23 233.14h.9M424.46 239.69h.9M399.6 250.77h.9M395.78 232.08h.9M357.14 226.72h.9M374.19 226.35h.9M364.46 225.37h.9M346.06 229.27h.9M381.99 242.6h.9M413.25 250.63h.9M406.02 250.26h.9M343.78 224.88h.9M437.24 224.99h.9M428.44 232.16h.9M373.72 229.07h.9M403.55 251.02h.9M341.83 226.63h.9M412.04 242.96h.9M402.67 226.74h.9M395.41 248.08h.9M398.48 234.74h.9M376.28 239.75h.9M404.4 232.6h.9M362.3 244.42h.9M342.92 226.79h.9M434.8 227.57h.9M357.38 227.47h.9M415.73 238.22h.9M401.95 251.53h.9M374.71 226.61h.9M402.08 250.34h.9M411.24 246.55h.9M403.84 226.23h.9M408.5 242.91h.9M421.93 228.16h.9M351.88 237.9h.9M411.06 233.57h.9M394.18 240.18h.9M383.94 225.44h.9M438.02 229.07h.9M395.65 225.74h.9M360.13 224.71h.9M406.62 244.15h.9M363.19 225.45h.9M381.59 226.67h.9M416.71 226.27h.9M362.91 228.33h.9M427.77 224.93h.9M349.97 224.69h.9M407.18 237h.9M352.83 226.08h.9M413.97 245.06h.9M405.59 227.38h.9M414.85 250.23h.9M395.18 235.56h.9M399.83 250.23h.9M387.63 225.02h.9M387.58 229.43h.9M408.34 231.27h.9M360.98 225.46h.9M415.88 234.01h.9M418.09 225.6h.9M383.06 224.97h.9M353.53 226.92h.9M364.54 247.26h.9M346.26 228.58h.9M344.88 236.17h.9M346.02 236.05h.9M368.98 227.69h.9M345.45 230.39h.9M342.64 230.2h.9M392.47 226.61h.9M405.11 239.25h.9M341.89 234.75h.9M429.52 244.82h.9M371.95 225.02h.9M381.5 248.3h.9M408.33 224.95h.9M416.03 244.06h.9M384.67 236.22h.9M429.09 239.29h.9M396.51 242.51h.9M355.23 231.65h.9M372.42 226.76h.9M358.11 227.51h.9M399.77 224.67h.9M353.23 229.93h.9M374.24 237.35h.9M348.85 224.71h.9M433.51 233.26h.9M400.05 225.59h.9M350.95 228.15h.9M408.76 230.64h.9M388.97 224.8h.9M376.91 242.23h.9M383.6 244.46h.9M387.66 224.99h.9M358.29 226.99h.9M431.52 240h.9M367.67 227.48h.9M381.66 228.04h.9M415.26 238.37h.9M442.36 230.59h.9M434.09 225.44h.9M389.82 226.5h.9M433.19 224.84h.9M405.05 236.58h.9M418.24 225.18h.9M397.81 224.94h.9M380.97 227.99h.9M373.31 228.79h.9M390.5 224.95h.9M391.88 224.79h.9M410.63 224.69h.9M387.21 224.66h.9M419.4 250.48h.9M415.43 230.48h.9M384.87 240.59h.9M343.14 226.18h.9M386.81 225.38h.9M384.39 227.84h.9M349.89 230.73h.9M382 225.02h.9M392.67 225.95h.9M396.35 227.35h.9M412.51 234.95h.9M416.88 227.75h.9M418.19 246.52h.9M434.96 228.14h.9M386.75 224.83h.9M366.66 226.19h.9M421.13 241.68h.9M403.03 241.65h.9M381.38 235.75h.9M373.39 224.66h.9M391.39 246.92h.9M388.64 248.11h.9M376.65 226.21h.9M352.04 228.02h.9M368.34 224.91h.9M368.67 248.24h.9M419.23 229.41h.9M360.23 230.07h.9M370.85 234.37h.9M365.2 233.94h.9M417.78 226.74h.9M358.79 231.64h.9M396.81 247.41h.9M422.74 230.9h.9M420.04 233.71h.9M347.9 226.93h.9M347.34 231.89h.9M419.23 235.99h.9M340.74 226.32h.9M336.73 228.28h.9M356.55 235.57h.9M340.19 224.84h.9M405.01 250.71h.9M417.74 230.43h.9M381.18 228.83h.9M351.58 236.38h.9M391.1 241.28h.9M386.69 226.05h.9M362.77 224.93h.9M412.65 231.74h.9M376.51 250.9h.9M374.27 227.76h.9M358.9 226.22h.9M361.7 230.54h.9M380.23 230.42h.9M425.2 233.82h.9M390.14 250.74h.9M399.32 250.29h.9M373.89 225.52h.9M357.3 239.37h.9M347.18 225.9h.9M410.91 228.91h.9M358.94 245.16h.9M349.14 229.88h.9M342.77 236.25h.9M370.27 227.01h.9M340.82 227.14h.9M395.51 225.05h.9M410.6 232.11h.9M423.61 244.85h.9M382.31 227.74h.9M403.76 229.2h.9M384.06 226.18h.9M350.95 224.82h.9M403.42 249.37h.9M357.01 224.79h.9M346.18 235.16h.9M372.27 227.96h.9M356.01 234.98h.9M355.52 244.17h.9M337.37 225.79h.9M382.8 231.34h.9M360.56 244.35h.9M390.95 232.83h.9M429.15 241.27h.9M347.68 226.01h.9M357.81 230.2h.9M363.14 244.21h.9M357.47 227.75h.9M378.62 227.17h.9M411.54 231.5h.9M420.93 227.83h.9M425.29 228.53h.9M436.19 225.54h.9M394.44 246.75h.9M359.58 241.96h.9M367.63 241.71h.9M375.65 249.03h.9M429.7 224.66h.9M401.79 233.73h.9M366.84 245.96h.9M380.1 232.05h.9M359.17 236.64h.9M392.75 225.17h.9M349.62 233.91h.9M380.27 242.55h.9M380.87 232.84h.9M412.61 247.48h.9M352.56 224.86h.9M386.79 225.22h.9M420.79 227.63h.9M373.38 224.81h.9M364.42 227.62h.9M363.54 225.6h.9M365.32 237.45h.9M348.1 228.77h.9M405.02 224.67h.9M423.41 226.07h.9M341.16 224.7h.9M400.58 234.37h.9M406.02 230.25h.9M383.61 230.36h.9M416.72 224.9h.9M363.9 230.29h.9M379.79 234.68h.9M377.31 250.58h.9M357.99 243.73h.9M336.65 224.71h.9M366.03 228.87h.9M389.92 242.49h.9M387.63 239.3h.9M361.89 226.94h.9M394.2 240.8h.9M440.91 235.19h.9M400.78 239.27h.9M429.09 225.25h.9M359.28 228.16h.9M422.82 237.93h.9M429.15 232.08h.9M399.3 225.36h.9M348.49 237.48h.9M391.37 230.44h.9M355.51 242.89h.9M409.11 246.88h.9M377.05 230.62h.9M390.16 224.85h.9M336.96 225.45h.9M425.91 235.72h.9M397 226.16h.9M397.78 237.32h.9M362.66 229.55h.9M342.37 230.17h.9M381.61 225.82h.9M411.65 243.51h.9M358.4 224.66h.9M398 251.46h.9M344.29 233.71h.9M400.37 238.97h.9M339.49 233.39h.9M399.1 242.07h.9M349.02 241.99h.9M376.62 229.32h.9M389.25 239.52h.9M413.8 230.1h.9M409.62 245.3h.9M356.83 227.65h.9M397.17 238.38h.9M396.27 224.68h.9M361.2 227.41h.9M428.52 226.23h.9M396.12 226.96h.9M429.96 224.99h.9M420.12 225.45h.9M427.02 243.18h.9M396.72 236.41h.9M347.83 224.71h.9M392.45 224.74h.9M388.35 225.25h.9M355.2 238.09h.9M401.31 225.46h.9M380.76 246.79h.9M342.64 226.34h.9M361.1 225.68h.9M351.1 234.67h.9M371.47 250.56h.9M369.64 237.39h.9M374.24 240.42h.9M341.32 235.93h.9M361.65 237.43h.9M369.78 224.66h.9M393.09 225.04h.9M419.46 225.81h.9M340.22 227.54h.9M398.16 236.37h.9M412.02 224.71h.9M432.72 236.65h.9M357 241.75h.9M364 228.22h.9M357.44 236.28h.9M347.92 228.1h.9M416.36 228.25h.9M359.3 230.35h.9M355.38 235.68h.9M422.86 224.71h.9M375.17 224.66h.9M426.68 233.12h.9M391.42 234.28h.9M373.97 232.13h.9M401.31 245.79h.9M366.82 225.12h.9M382.91 224.71h.9M368.55 231h.9M427.34 249h.9M419.74 252.79h.9M354.25 234.49h.9M414.8 229.26h.9M423.6 242.4h.9M335.04 228.18h.9M360.13 240.95h.9M363.34 242.13h.9M424.98 224.85h.9M355.92 230.81h.9M360.66 227.77h.9M438.61 225.08h.9M352.99 236.66h.9M396.35 224.66h.9M344.06 235.62h.9M397.2 250.9h.9M442.56 236.3h.9M411.67 246.45h.9M423.56 243.37h.9M416.77 250.29h.9M432.89 225.3h.9M371.6 230.75h.9M429.13 230.05h.9M390.74 224.95h.9M392.92 250.06h.9M368.21 235.38h.9M423.16 229.33h.9M412.02 225.46h.9M371.45 225.89h.9M341.77 225.28h.9M424.78 228.57h.9M347.19 228.76h.9M365.8 234.25h.9M427.48 227.04h.9M424.3 237h.9M371.11 247.33h.9M341.73 236.43h.9M412.96 224.75h.9M353.16 237.28h.9M401.78 246.32h.9M406.95 250.4h.9M344.03 235.81h.9M361.49 242.85h.9M417.74 225.8h.9M390.16 225.02h.9M402.64 225.16h.9M380.88 224.67h.9M371.4 225.82h.9M419.6 231.19h.9M396.07 224.7h.9M374.35 230.16h.9M425.71 224.7h.9M393.03 225.85h.9M386.79 229.5h.9M363.49 236.46h.9M340.25 225.47h.9M388.43 226.16h.9M384.15 250.4h.9M391.05 226.04h.9M386.34 253h.9M424.75 224.77h.9M343.57 226.88h.9M417.41 228.45h.9M421.69 236.82h.9M430.22 224.79h.9M408.09 226.37h.9M422.29 230.23h.9M411.07 224.71h.9M397.04 237.05h.9M356.1 236.96h.9M401.11 230.24h.9M361.03 234.55h.9M340.4 230.78h.9M368.19 240.74h.9M399.77 226.36h.9M420.4 248.65h.9M420.35 224.86h.9M382.67 224.76h.9M383.38 226.66h.9M392.1 246.45h.9M415.41 243.32h.9M340.9 227.12h.9M379.85 239h.9M428.12 224.68h.9M401.83 232.7h.9M438.74 228.5h.9M419.16 247.65h.9M390.67 227.29h.9M405.47 246.07h.9M411.85 235.69h.9M352.54 234.97h.9M399.65 239.76h.9M384.51 224.69h.9M362.36 232.74h.9M351.68 226.51h.9M379.12 225.13h.9M365.28 229.36h.9M433.56 224.84h.9M377.15 242.44h.9M334.84 226.96h.9M361.98 224.66h.9M368.27 227.16h.9M406.72 224.79h.9M352.83 234.83h.9M339.14 225.83h.9M371.13 228.73h.9M371.69 241.15h.9M433.83 234.37h.9M385.53 224.67h.9M416.56 248.65h.9M349.54 227.65h.9M402.06 232.62h.9M340.71 226.35h.9M371.45 233.88h.9M393.3 230.47h.9M376.66 225.53h.9M383.66 224.98h.9M407.78 226.97h.9M357.69 225.33h.9M413.5 245.69h.9M428.79 234.09h.9M373.37 231.96h.9M347.03 237.06h.9M380.82 230.72h.9M345.97 228.54h.9M356.04 245.73h.9M342.88 226.14h.9M343.31 225.13h.9M389.12 224.76h.9M403.39 234.9h.9M417.7 227.81h.9M403.58 227.72h.9M409.21 254.05h.9M354.13 233.98h.9M421.07 226.17h.9M340.22 227.24h.9M390.05 235.04h.9M417.14 227.69h.9M422.05 226.11h.9M359.9 229.09h.9M427.62 231.25h.9M392.04 231.36h.9M415.71 224.67h.9M411.42 232.19h.9M395.72 245.95h.9M346.51 228.61h.9M401.5 226.68h.9M417.91 236.38h.9M349.9 224.95h.9M372.36 229.56h.9M421.1 249.69h.9M394.61 224.85h.9M384.48 250.09h.9M343.28 227.08h.9M363.66 234.54h.9M357.71 224.69h.9M355 230.16h.9M380.44 244.39h.9M357.83 233.83h.9M387.97 225.73h.9M376.55 226.27h.9M416.86 226.41h.9M366.71 234.65h.9M348.26 225.09h.9M370.97 235.9h.9M423.66 226.61h.9M395.77 253.17h.9M374.73 224.94h.9M437.49 233.77h.9M359.95 227.68h.9M357.85 228.67h.9M418.23 224.68h.9M391.18 225.82h.9M401.78 242.86h.9M417.64 227.93h.9M366.78 225.12h.9M408.79 231.22h.9M400 224.73h.9M346.04 233.27h.9M404.98 249.87h.9M381.7 234.26h.9M381.22 246.13h.9M366.79 230.43h.9M420.01 228.3h.9M381.76 224.88h.9M385.75 225.31h.9M379.16 227.78h.9M355 227.19h.9M373.13 235.3h.9M342.78 237.51h.9M383.97 239.62h.9M339.27 233.57h.9M342.31 225.83h.9M414.57 243.72h.9M370.52 242.32h.9M343.39 230.52h.9M337.47 226.23h.9M435.12 238.48h.9M410.41 228.56h.9M398.81 229.58h.9M415.12 253.48h.9M406.11 225.2h.9M394.47 232.49h.9M377.74 237.6h.9M400.23 231.43h.9M399.9 226.01h.9M344.55 227.21h.9M392.14 239.79h.9M377.8 227.47h.9M438.52 225.37h.9M427.32 224.71h.9M420.98 232.05h.9M410.15 226.09h.9M406.05 226.01h.9M407.16 224.66h.9M411.4 225.74h.9M376.71 250.54h.9M346.16 224.73h.9M439.67 230.25h.9M391.67 230.4h.9M404.49 244.3h.9M349.59 226.76h.9M389.25 225.26h.9M346.57 231.08h.9M369.12 227.32h.9M399.31 224.81h.9M348.98 234.4h.9M374.6 236.11h.9M352.61 233.72h.9M390.39 224.94h.9M348.72 225.62h.9M377.4 232.27h.9M355.83 230.4h.9M358.94 224.66h.9M389.58 229.19h.9M405.29 231.95h.9M342.8 226.99h.9M344.79 224.72h.9M427.69 247.26h.9M414.11 235.51h.9M389.32 232.14h.9M369.27 244.36h.9M385 248.42h.9M373.88 226.13h.9M403.88 239.01h.9M387.43 225.86h.9M343.92 230.01h.9M349.38 237.43h.9M384.56 239.2h.9M364.1 244.91h.9M360.89 248.02h.9M341.77 231.03h.9M367.17 247.18h.9M400.16 240.24h.9M393.93 241.5h.9M365.49 227.94h.9M406.56 224.74h.9M366.01 225.5h.9M353.86 225.82h.9M337.58 225.89h.9M414.89 252.53h.9M399.43 237.02h.9M431.67 228.76h.9M428.27 229.46h.9M362.35 237.71h.9M362.06 226.81h.9M382.9 224.66h.9M349.29 239.06h.9M418.58 224.67h.9M358.63 228.23h.9M372.16 250.43h.9M340.47 229.75h.9M357.74 233.1h.9M336.1 229.55h.9M341.56 235.89h.9M427.84 230.04h.9M341 225.87h.9M361.94 224.75h.9M341.65 225h.9M341.11 224.83h.9M425.44 224.81h.9M359.05 224.69h.9M425.41 232.96h.9M390.16 245.57h.9M432.39 230.59h.9M410.22 225.88h.9M428.19 224.67h.9M370.56 248.32h.9M366.42 224.95h.9M396.94 228.17h.9M362.97 226.93h.9M411.84 235.53h.9M361.41 244.15h.9M340.05 229.95h.9M351.12 238.91h.9M387.54 231.88h.9M364.63 231.93h.9M368.63 224.66h.9M392.7 246.75h.9M406.89 230.71h.9M357.88 227.43h.9M421.35 230.45h.9M405.64 225.52h.9M433.23 226.9h.9M356.3 227.01h.9M365.63 228.03h.9M408.88 241.92h.9M432.15 239.52h.9M404.99 224.8h.9M353.53 225.65h.9M346.46 225.61h.9M407.24 240.81h.9M383.44 232.67h.9M404.22 238.18h.9M381.21 228.03h.9M391.23 234.03h.9M349.58 228.23h.9M389.08 241.06h.9M365.69 247.84h.9M413.02 235.83h.9M389.07 225.37h.9M371.69 226.94h.9M386.35 224.78h.9M337.1 224.66h.9M367.28 228.48h.9M366.07 230.22h.9M402.75 247.33h.9M409.38 224.79h.9M432.43 224.85h.9M423.52 243.46h.9M403.67 242.38h.9M424.85 245h.9M406.26 228.66h.9M346.14 237.76h.9M375 241.54h.9M430.72 235.28h.9M369.97 231.01h.9M377.44 242.44h.9M368.78 229.31h.9M418.66 224.96h.9M420.01 233.02h.9M408.17 238.09h.9M361.18 243.31h.9M401.92 228.1h.9M346.35 225.24h.9M349.65 224.67h.9M340.54 224.75h.9M358.37 224.82h.9M368.17 224.89h.9M351.9 230.95h.9M375.46 237.02h.9M359.83 234.17h.9M365.26 228.91h.9M362.21 224.82h.9M335.12 224.67h.9M345.9 225.36h.9M356.73 227.45h.9M371.1 226.91h.9M418.96 228.55h.9M432.17 241.98h.9M381.57 227.55h.9M397.6 254.28h.9M343.4 230.74h.9M424.06 224.99h.9M347.6 229.19h.9M366.76 226.83h.9M431.21 231.85h.9M405.81 237.41h.9M383.43 241.06h.9M400.5 254.04h.9M421.65 224.69h.9M385.36 225.21h.9M367.9 224.76h.9M428.79 231.75h.9M424.25 244.45h.9M386.15 234.04h.9M349.77 225.62h.9M348.4 234.15h.9M393.82 226.26h.9M416.66 228.7h.9M356.13 224.75h.9M418.93 244.57h.9M411.67 252.38h.9M349.33 228.93h.9M390.68 227.95h.9M358.24 226.07h.9M380.39 239.65h.9M414.02 243.61h.9M419.6 227.12h.9M361.32 230.29h.9M414.75 226.57h.9M360.01 227.83h.9M354.02 224.95h.9M368.58 224.66h.9M399.88 233.11h.9M350.34 234.64h.9M379.4 232.58h.9M430.51 224.88h.9M370.92 225.18h.9M342.54 227.07h.9M371.12 240.58h.9M368.9 224.9h.9M390.36 247.78h.9M434.64 224.66h.9M403.79 225.21h.9M392.79 235.46h.9M362.28 224.8h.9M416.2 228.08h.9M368.68 231.88h.9M407.46 235.15h.9M336.14 227.11h.9M428.89 234.69h.9M364.12 227.34h.9M384.25 251.22h.9M404.07 232.27h.9M349.02 230.08h.9M435.37 225.18h.9M430.61 225.2h.9M350.38 231.4h.9M418.15 236.39h.9M348.57 233.12h.9M366.14 225.27h.9M384.37 224.68h.9M441.31 238.37h.9M399.29 253.67h.9M339.65 225.9h.9M386.16 225.29h.9M409.15 244.45h.9M383.14 224.72h.9M370.65 243.89h.9M336.34 227.58h.9M339.26 225.79h.9M372.32 231.72h.9M344.46 226.83h.9M368.85 225.34h.9M425.38 237.71h.9M400.29 225.95h.9M364.98 225.38h.9M402.86 227.15h.9M348.89 236.44h.9M348.9 241.61h.9M370.34 236.21h.9M392.75 230.24h.9M393.34 237.91h.9M417.82 228.58h.9M409.95 247.5h.9M389.98 230.64h.9M384.98 225.47h.9M400.55 226.46h.9M375.15 248.18h.9M366.06 227.18h.9M406 235.08h.9M363.14 225.29h.9M350.2 227.3h.9M417.99 245.02h.9M356.21 235.3h.9M355.21 228.72h.9M348.57 225.52h.9M422.91 230.89h.9M366.89 235.88h.9M348.81 227.94h.9M381.07 225.39h.9M364.71 226.15h.9M393.59 227.69h.9M396.34 227.53h.9M412.83 247.69h.9M401.47 245.11h.9M385.06 224.82h.9M342.89 231.77h.9M345.04 228.31h.9M381.12 224.71h.9M383.88 224.96h.9M410.53 245.73h.9M380.1 232.96h.9M377.33 234.09h.9M399.31 224.66h.9M381.09 228.1h.9M393.91 226.27h.9M354.34 230.13h.9M423.01 228.93h.9M361.25 226.87h.9M347.59 237.4h.9M421.7 247.72h.9M388.56 234.37h.9M403.1 240.98h.9M357.83 227.23h.9M394.32 235.86h.9M413 225.98h.9M356.05 234.21h.9M380.84 251.47h.9M438.3 243h.9M430.63 224.71h.9M421.1 244.3h.9M353.32 224.86h.9M340.05 225.85h.9M372.62 226.85h.9M355.04 228.77h.9M386.68 249.99h.9M396.39 225.61h.9M351.45 239.02h.9M433.79 224.66h.9M375.28 224.91h.9M385.44 224.91h.9M439.96 224.85h.9M373.04 250.14h.9M399.11 229h.9M400.76 230.8h.9M396.99 249.11h.9M380 234.23h.9M424.84 224.81h.9M422.12 224.9h.9M406.75 229.04h.9M346.29 224.74h.9M383.27 225.33h.9M352.42 228.46h.9M418.92 242.65h.9M378.11 227.69h.9M362.93 235.94h.9M375.08 237.8h.9M347.32 225.38h.9M394.02 224.66h.9M431.87 228.6h.9M345.63 226.66h.9M372.28 227.69h.9M382.08 225.13h.9M341.45 224.71h.9M350.19 225.27h.9M379.87 225.15h.9M350.63 230.71h.9M396.06 226.68h.9M411.13 232.71h.9M357.26 241.04h.9M396.45 225.14h.9M388.73 224.71h.9M368.14 244.84h.9M377.24 231.12h.9M429.17 229.37h.9M441.39 224.83h.9M423.63 234.02h.9M386.42 225.88h.9M355.99 245.81h.9M428.88 240.49h.9M410.38 228.52h.9M423.09 227.49h.9M358.3 242.5h.9M421.05 225.84h.9M391.84 225.26h.9M418.18 224.94h.9M442.52 226.67h.9M400.5 248.98h.9M368.63 231.77h.9M414.52 225.7h.9M342.45 224.66h.9M363.52 225.36h.9M382.46 226.12h.9M357.8 228.96h.9M380.12 251.32h.9M380.5 224.7h.9M341.24 230.38h.9M391.89 234.45h.9M354.18 227.89h.9M438.04 230.48h.9M415.27 227.19h.9M384.33 225.75h.9M399.67 242.54h.9M395.39 246.09h.9M360.74 239.11h.9M411.4 246.99h.9M394.33 227.09h.9M376.37 238.46h.9M366.35 248.76h.9M410.7 254.68h.9M380.21 231.56h.9M418.47 252.57h.9M345.73 236.58h.9M374.06 224.89h.9M407.74 229.82h.9M375.03 225.61h.9M382.33 226.41h.9M341.33 224.7h.9M347.17 224.66h.9M361.31 226.75h.9M395.08 248.77h.9M390.09 246.07h.9M379.18 244.07h.9M360.57 227.79h.9M359.37 227.65h.9M388.02 252.71h.9M416.36 229.22h.9M365.5 237.78h.9M403.53 252.85h.9M369.13 226.83h.9M360.27 227.83h.9M357.76 229.46h.9M364.37 231.14h.9M345.87 224.99h.9M357.86 245.51h.9M423.03 251.86h.9M339.7 224.67h.9M354.14 237.82h.9M423.14 246.3h.9M378.06 234.05h.9M418.95 241.16h.9M395.74 227.66h.9M352.86 227.87h.9M438.7 239.03h.9M413.21 224.66h.9M387.42 252.71h.9M390 236.32h.9M400.55 233.56h.9M405.52 231.5h.9M379.96 249.93h.9M376.08 234.81h.9M349.05 224.66h.9M346.64 225.4h.9M387.51 224.67h.9M432.57 233.42h.9M380.29 250.62h.9M432.84 226.21h.9M347.29 229.33h.9M339.49 224.76h.9M349.38 238.03h.9M353.69 239.2h.9M375.7 226.33h.9M423.65 249.58h.9M342.86 224.69h.9M350.34 241.47h.9M363.76 225.9h.9M374.35 224.67h.9M399.5 229.42h.9M425.99 230.97h.9M400.35 251.19h.9M373.96 248.46h.9M392.83 224.79h.9M353.58 236.31h.9M350.34 235.67h.9M376.3 233.97h.9M397.57 229.18h.9M397.51 250.73h.9M369.95 229.33h.9M433.95 229.41h.9M382.22 240.27h.9M420.89 234.47h.9M340.02 226.61h.9M368.24 229.83h.9M412.46 238h.9M418.07 241.19h.9M361.04 234.37h.9M374.24 249.83h.9M348.2 224.76h.9M348.93 224.67h.9M346.5 227.17h.9M399.7 230.24h.9M341.54 224.81h.9M338.14 225.25h.9M393.77 227.72h.9M428.5 225.7h.9M420.59 230.98h.9M400.99 249.85h.9M342.8 226.05h.9M372.46 226.72h.9M415.37 253.84h.9M427.54 225.45h.9M341.09 228.44h.9M383.97 228.17h.9M419.78 242.67h.9M417.38 243.26h.9M336.73 229.36h.9M369.2 224.68h.9M424.82 224.66h.9M395.38 227.03h.9M411.75 231.42h.9M427.08 225.49h.9M400.18 225.22h.9M347.03 232.26h.9M379.74 246.92h.9M434.27 229.09h.9M349.63 226.42h.9M335.86 228.05h.9M338.71 224.66h.9M363.02 245.58h.9M386.36 230.56h.9M435.12 224.67h.9M406.48 224.86h.9M396.45 229.08h.9M417.47 239.78h.9M405.2 244.95h.9M383.27 227.08h.9M341.93 226.6h.9M414.72 224.68h.9M365.3 249.5h.9M373.76 249.69h.9M411.99 225.67h.9M362.7 240.08h.9M410.58 226.82h.9M390.24 238.43h.9M406.96 244.88h.9M379.04 248.83h.9M403.2 234h.9M391.01 224.71h.9M340.97 233.52h.9M390.62 228.6h.9M352.62 225.11h.9M376.98 230.5h.9M405.44 225.14h.9M358.37 227.57h.9M342.42 228.77h.9M425.79 234.42h.9M359.19 243.69h.9M398.39 244.08h.9M353.92 224.71h.9M348.8 224.67h.9M393 231.93h.9M429.12 230.33h.9M336.5 225.89h.9M338.78 231.96h.9M341.25 229.69h.9M396.38 224.66h.9M362.4 224.93h.9M385.79 230.66h.9M367.63 236.73h.9M376.77 225.98h.9M391.49 228.3h.9M412.37 228.96h.9M352.17 236.08h.9M364.63 228.26h.9M419.23 228.37h.9M350.49 227.69h.9M347.49 229.43h.9M423.1 229.75h.9M363.1 226.17h.9M416.32 228.76h.9M340.93 224.78h.9M378.49 247.33h.9M371.36 233.67h.9M387.36 231.37h.9M424.52 225.08h.9M359.22 227.29h.9M365.8 225.75h.9M356.33 232.24h.9M373.84 234.95h.9M354.3 226.85h.9M356.04 239.32h.9M364.28 226.67h.9M348.45 229.93h.9M364.39 235.78h.9M377.35 234.17h.9M391.69 249.56h.9M361.66 241.87h.9M355.17 230.84h.9M408.73 224.67h.9M368.08 228.61h.9M351.66 235.38h.9M346.94 227.34h.9M355.51 235.11h.9M409.98 243.11h.9M391.76 234.89h.9M379.62 246.36h.9M344.71 227.35h.9M412.76 234.55h.9M424.21 227.22h.9M361.79 237.78h.9M339.76 230.3h.9M365.46 230.12h.9M424.73 239.87h.9M353.58 224.99h.9M429.15 226.39h.9M378.38 228.45h.9M425.74 229.19h.9M415.92 243.8h.9M364.63 225.44h.9M390.78 224.73h.9M413.46 227.89h.9M379.63 246.42h.9M359.63 224.93h.9M433.66 224.7h.9M419.02 226.49h.9M373.01 246.71h.9M344.19 226.16h.9M397.16 224.69h.9M350.52 225.85h.9M419.19 224.73h.9M435.67 227.14h.9M377.37 234.9h.9M396.81 225.41h.9M381.18 224.94h.9M427.74 230.08h.9M375.51 245.07h.9M381.34 225.2h.9M377.3 224.81h.9M368.08 226.16h.9M416.49 224.67h.9M369.24 240.87h.9M401.74 252.23h.9M377.57 245.55h.9M352.77 230.27h.9M390.46 230.13h.9M433.68 231.94h.9M371.88 250.23h.9M368.97 250.03h.9M342.13 225.59h.9M402.99 247.27h.9M391.01 226.07h.9M347.42 232h.9M350.08 242.12h.9M427.82 245.48h.9M433.72 226.03h.9M381.52 238.53h.9M377.95 224.82h.9M378.67 237h.9M399.99 224.67h.9M380.34 238.78h.9M353.64 226.99h.9M420.13 244.83h.9M365.64 224.77h.9M359.89 238.16h.9M415.79 225.17h.9M370.98 228.98h.9M387.82 227.78h.9M339.56 226.02h.9M393.72 249.22h.9M335.09 225.37h.9M357.06 238.6h.9M383.88 227.16h.9M416.05 224.68h.9M390.9 224.89h.9M345.93 224.85h.9M375.26 251.89h.9M360.91 228.02h.9M355.56 236.27h.9M386.6 235.21h.9M381.5 225.8h.9M349.82 225.05h.9M376.92 230.67h.9M359.93 235.36h.9M341.69 228.39h.9M398.79 229.37h.9M395.77 244.94h.9M360.58 227.48h.9M415.58 224.76h.9M409.13 225.41h.9M365.49 240.71h.9M418.33 229.35h.9M414.97 225.45h.9M400.42 233.56h.9M435.69 229.91h.9M360.87 225.27h.9M364.34 232.13h.9M340.26 233.84h.9M409.62 246.55h.9M383.8 236.86h.9M335.76 228.51h.9M388.28 236.75h.9M358.48 226.37h.9M377.94 240.46h.9M437.07 224.98h.9M420.2 226.84h.9M346.25 237.36h.9M355.59 225.76h.9M342.96 227.52h.9M389.82 226h.9M411.83 250.52h.9M351.94 225.84h.9M356.32 228.18h.9M381.57 227.82h.9M394.75 248.77h.9M396.61 225.02h.9M389.02 232.54h.9M388.79 226.31h.9M376.02 227.28h.9M398.25 253.73h.9M382.82 227.83h.9M342.02 224.85h.9M361.58 231.64h.9M403.58 228.75h.9M423.77 227.77h.9M426.51 225.85h.9M349.83 228.72h.9M408 228.65h.9M406.68 239.73h.9M339.6 225.89h.9M403.89 243.7h.9M348.61 231.85h.9M370.16 248.51h.9M393.67 252.48h.9M421.18 232.25h.9M369.32 226.29h.9M363.61 224.87h.9M405.9 225.13h.9M401.99 225.87h.9M379.22 229.37h.9M394.39 229.74h.9M406.84 224.67h.9M428.92 229.46h.9M383.62 231.89h.9M396.59 243.35h.9M418.55 227.91h.9M357.99 244.35h.9M352.23 235.57h.9M392.08 226.33h.9M361.74 225.06h.9M398.05 232.94h.9M344.84 228.85h.9M347.71 239.94h.9M405.44 229.7h.9M349.56 231.47h.9M418.83 225h.9M342.57 224.87h.9M416.95 248.78h.9M354.14 228.56h.9M428.06 228.35h.9M436.79 224.7h.9M398.72 232.21h.9M398.62 233.38h.9M420.71 241.49h.9M345.94 237.28h.9M386.54 241.51h.9M358.2 227.43h.9M382.05 252.84h.9M437.14 226.35h.9M379.93 225.8h.9M422 240.29h.9M378.88 224.67h.9M372.87 226.5h.9M376.3 227.15h.9M372.17 244.42h.9M395.25 227h.9M405.9 240.85h.9M373.45 237.28h.9M367.33 229.05h.9M422.54 232.32h.9M388.86 241.14h.9M359.37 234.3h.9M393.72 246.65h.9M429.75 231.19h.9M365.27 241.35h.9M379.37 227.17h.9M371.34 245.59h.9M349.75 238.17h.9M408.17 241.97h.9M403.98 245.65h.9M338.89 229.1h.9M366.5 245.74h.9M347.75 227.51h.9M352.34 232.74h.9M421.2 225.3h.9M430.21 242.16h.9M395.26 240.28h.9M368.6 228.61h.9M376.78 248.1h.9M362.09 238.03h.9M409.4 250.85h.9M426.72 224.67h.9M438.31 232.73h.9M371.3 224.68h.9M399.91 250.35h.9M356.81 225.01h.9M366.09 244.09h.9M426.98 235.56h.9M398.21 233.63h.9M392.13 230.74h.9M423.81 240.77h.9M341.2 232.44h.9M336.45 224.76h.9M378.41 236.47h.9M428.09 228.18h.9M428.23 240.24h.9M401.66 224.67h.9M428.52 231.2h.9M416.7 252.21h.9M384.02 231.94h.9M395.66 228.34h.9M346.97 235.99h.9M356.21 224.84h.9M338.86 226.58h.9M410.83 234.58h.9M408.65 244.08h.9M363.18 228.03h.9M341.53 234.23h.9M369.03 234.53h.9M344 229.44h.9M405.45 224.69h.9M344.9 227.17h.9M416.34 225.19h.9M389.26 224.66h.9M392.38 251.02h.9M352.52 229.59h.9M381.81 224.83h.9M347.7 231.09h.9M375.47 233.72h.9M362.62 227.19h.9M354.09 235.71h.9M433.61 226.45h.9M347.85 240.79h.9M414.67 236.87h.9M437.57 224.71h.9M381.83 224.66h.9M425.35 224.93h.9M384.49 242.21h.9M372.78 232.02h.9M338.86 224.66h.9M435.84 228.58h.9M382.21 249.92h.9M429.09 226.16h.9M343.49 234.7h.9M391.75 234.18h.9M374.54 235.28h.9M362.82 238.86h.9M401.45 243.94h.9M379.99 235.58h.9M367.86 224.68h.9M364.83 228.44h.9M356.52 229.08h.9M381.81 224.71h.9M400.29 224.88h.9M356.65 226.68h.9M386.06 224.86h.9M417.75 238.15h.9M424.91 229.69h.9M392.43 225.58h.9M394.01 230.08h.9M423.61 232.27h.9M409.77 226.55h.9M355.25 233.89h.9M359.43 225.44h.9M435.13 225.54h.9M360.61 246.89h.9M399.34 230.51h.9M400.89 225.67h.9M395.98 252.1h.9M368.56 226.61h.9M403.19 238.35h.9M411.51 235.46h.9M388.63 245.29h.9M350.26 225.26h.9M358.4 226.64h.9M339.02 228.2h.9M360.4 228.23h.9M403.18 249.38h.9M404.21 233.29h.9M346.97 230.46h.9M426.31 226.66h.9M344.77 225.18h.9M435.27 243.42h.9M406.56 226.28h.9M395.44 237.91h.9M393.12 250h.9M361.43 228h.9M429.67 228.58h.9M414.09 226.55h.9M417.11 235.36h.9M430.38 225.9h.9M339.99 227.51h.9M408.95 238.59h.9M345.88 232.11h.9M371.16 228.03h.9M420.51 234.25h.9M354.59 241h.9M337.12 226.56h.9M417.22 231.77h.9M432.96 224.9h.9M422.52 224.69h.9M367.6 224.94h.9M346.6 225.37h.9M341.94 225.54h.9M378.62 229.73h.9M407.08 232.38h.9M383.93 251.91h.9M362.19 224.82h.9M391.83 234.16h.9M390.93 225.54h.9M430.88 233.17h.9M350.55 235.93h.9M413.47 247.74h.9M369.2 224.93h.9M422.6 225.87h.9M406.08 227.09h.9M354.03 241.3h.9M398.75 237.99h.9M353.04 224.67h.9M421.34 233.97h.9M379.32 240.23h.9M409.37 225.49h.9M393.87 236.63h.9M348.38 234.53h.9M352.61 224.67h.9M398.32 225.99h.9M419.57 228.36h.9M411.7 231.23h.9M400.31 226.94h.9M351.82 225.3h.9M386.31 226.02h.9M426.06 238.05h.9M407.34 224.74h.9M396.45 224.87h.9M351.43 227.54h.9M429.26 224.72h.9M388.22 237.52h.9M401.76 250.24h.9M441.16 224.77h.9M440.07 240.58h.9M335.67 225.06h.9M390.2 232.82h.9M385.96 252.24h.9M355 229.34h.9M427.44 224.7h.9M425.13 243.54h.9M372.61 225.26h.9M424.27 237.53h.9M345.33 233.35h.9M394.27 227.91h.9M418.34 232.21h.9M393.19 239.3h.9M353.66 234.85h.9M341.6 224.79h.9M367.13 234.53h.9M382.64 237.03h.9M350.6 236.08h.9M403.74 233.5h.9M369.75 227.06h.9M363.82 239.04h.9M377.33 224.94h.9M378.66 227.22h.9M374.06 227.82h.9M391.69 224.67h.9M339.65 233.49h.9M368.69 226.91h.9M342.67 226.18h.9M424.26 225.97h.9M386.28 225.35h.9M398.37 229.44h.9M383.03 237.14h.9M420.2 224.74h.9M424.83 239.31h.9M413.96 225.82h.9M398.82 225.89h.9M404.56 226.71h.9M433.61 233.62h.9M413.37 248.72h.9M405.64 225.41h.9M413.5 225.87h.9M424.78 248.99h.9M425.36 246.26h.9M359.53 242.73h.9M426.96 240.23h.9M421.45 242.28h.9M385.89 251.11h.9M375.85 240.27h.9M418.53 225.52h.9M353.06 240.99h.9M406.29 226.84h.9M416.64 231.59h.9M409.62 230.59h.9M432.15 224.86h.9M419.09 232.9h.9M340.81 225.81h.9M423.7 225.3h.9M388.54 224.91h.9M346.63 225.6h.9M421.94 238.5h.9M425.07 227.18h.9M396.59 236.89h.9M357.49 234.49h.9M378.81 225.56h.9M370.32 249.67h.9M378.93 235.78h.9M412.98 226.8h.9M352.33 242.01h.9M410.15 232.41h.9M399.31 225.13h.9M419.81 226.44h.9M412.51 253.27h.9M343.74 233.34h.9M340 224.81h.9M402.43 243.89h.9M404.89 225.63h.9M425.53 229.62h.9M360.33 226.42h.9M359.33 242.9h.9M367.9 224.68h.9M338.26 227.46h.9M389.5 225.73h.9M413.27 248.63h.9M410.56 228.5h.9M388.98 226.51h.9M347.14 235.13h.9M361.34 224.66h.9M357.6 226.12h.9M346.45 230.1h.9M362.71 228.24h.9M397.77 249.67h.9M353.13 226.71h.9M374.02 231.92h.9M399.26 224.7h.9M412.66 224.94h.9M375.17 229.04h.9M389.74 231.25h.9M391.81 226.97h.9M393.79 240.22h.9M386.75 241.34h.9M418.37 229.18h.9M398.21 241.76h.9M371.68 240.07h.9M429.18 224.71h.9M364.03 234.62h.9M430.25 235.4h.9M400.14 229.05h.9M418.67 244.69h.9M438.38 231.39h.9M399.85 228.39h.9M408.61 238.62h.9M375.57 231.47h.9M390.14 224.84h.9M410.04 229.36h.9M403.63 240.49h.9M343.32 236.55h.9M431.4 226.23h.9M407.66 240.74h.9M342.53 224.81h.9M434.59 243.08h.9M401.29 230.89h.9M399.13 251.08h.9M371.63 225.17h.9M410.8 227.53h.9M424.55 224.99h.9M382.21 233.05h.9M339.63 231.45h.9M385.75 228.31h.9M374.97 225.21h.9M429.77 241.35h.9M346.74 236.27h.9M345.78 226.36h.9M417.01 236.87h.9M350.4 224.8h.9M396.84 248.51h.9M393.61 227.36h.9M361.88 234.78h.9M394.94 234.49h.9M390.44 233.52h.9M413.95 227.82h.9M377.38 232.08h.9M384.71 236.99h.9M378.7 231.68h.9M388.27 253.26h.9M353.24 227.61h.9M420.54 241.99h.9M336.01 227.33h.9M337.21 225.08h.9M428.54 230.99h.9M402.81 235.43h.9M411.37 225.97h.9M426.4 243.04h.9M413.06 229.21h.9M428.73 228.43h.9M343.54 229.28h.9M416.43 224.66h.9M346.31 228.16h.9M376.99 226.63h.9M437.35 237.41h.9M434.08 224.97h.9M339.67 224.79h.9M401.84 243.91h.9M413.09 225.98h.9M381.82 224.69h.9M362.33 233.68h.9M349.16 224.79h.9M371.18 237.76h.9M369.49 224.84h.9M347.1 231.74h.9M373.05 229.29h.9M415.6 225.97h.9M368.9 226.53h.9M439.73 228.47h.9M348.97 233.12h.9M402.1 248.15h.9M411.96 231.22h.9M341.06 225.56h.9M362.08 234.15h.9M418.55 249.98h.9M400.05 241.97h.9M415.7 225.53h.9M349.86 238.39h.9M378.97 233.88h.9M338.03 225.54h.9M410.54 224.8h.9M412.72 226.91h.9M355.6 227.61h.9M421.45 228.57h.9M433.93 244.91h.9M339.64 225.78h.9M431.16 225.77h.9M429.36 246.34h.9M418.4 224.71h.9M341.68 234.24h.9M378.95 227.73h.9M414.39 234.87h.9M370.62 228.45h.9M378.08 250.43h.9M349.97 228.24h.9M384.05 246.02h.9M407.13 243.14h.9M383.07 226.85h.9M362.07 247.21h.9M350.2 236.87h.9M340.21 225.18h.9M361.24 246.66h.9M411.17 232.16h.9M416.7 234.13h.9M392.15 226.62h.9M377.54 224.96h.9M339.12 231.96h.9M351.32 228.51h.9M403.51 241.16h.9M358.02 227.59h.9M382.21 251.5h.9M352.58 238.12h.9M419.3 226.41h.9M400.21 229.01h.9M343.98 226.21h.9M344.06 230.47h.9M420.44 224.79h.9M378.05 245.79h.9M399.64 248.33h.9M339.46 233.59h.9M356.96 237.4h.9M367 239.67h.9M380.04 231.74h.9M411.14 232.3h.9M431.38 225.22h.9M376.84 235.04h.9M375.92 234.62h.9M425.04 225.47h.9M398.18 224.67h.9M343.69 227.16h.9M368.65 226.61h.9M343.51 227.49h.9M368.22 237.83h.9M434.14 224.88h.9M387.58 225.19h.9M369.87 234.76h.9M340.46 224.78h.9M361.92 225.13h.9M415.22 225.76h.9M347.31 238.35h.9M416.48 230.28h.9M409.44 252.46h.9M412.38 247.44h.9M353.76 235.28h.9M335.67 229.6h.9M408.44 236.99h.9M359.16 242.73h.9M405.14 254.57h.9M381.15 224.66h.9M415.56 224.73h.9M385.6 224.82h.9M400.11 225.85h.9M348.51 226.78h.9M349.36 232.63h.9M358.92 240.28h.9M341.81 224.89h.9M380.59 249.57h.9M392.16 239.67h.9M391.05 228.9h.9M403.13 224.67h.9M435.43 239.18h.9M381.81 226.81h.9M389.08 231.78h.9M378.43 227.87h.9M423.04 226.61h.9M363.23 228.82h.9M381.88 235.13h.9M379.95 250.32h.9M400.35 226.31h.9M368.87 229.27h.9M400.96 227.11h.9M391.23 238.09h.9M435.82 227.93h.9M419.5 235.99h.9M361.8 224.66h.9M394 226.6h.9M440.73 224.88h.9M392.73 224.96h.9M375.17 228.86h.9M429.93 225.99h.9M350.59 225.7h.9M379.48 224.66h.9M377.71 227.52h.9M389.44 235.38h.9M372.84 228.3h.9M339.61 227.73h.9M353.35 225.51h.9M386.54 236.15h.9M386.56 232.31h.9M400.67 225.71h.9M353.1 234.21h.9M398.06 228.9h.9M412.27 225.12h.9M379.18 224.66h.9M374.2 236.82h.9M388.74 241.8h.9M339.15 227.48h.9M382.42 235.43h.9M360.3 232.7h.9M421.18 224.68h.9M341.44 225.45h.9M389.2 247.62h.9M402.11 245.77h.9M374.83 238.09h.9M438.86 225.02h.9M375.8 225.85h.9M426.69 225.18h.9M398.95 240.03h.9M415.31 246.61h.9M425.33 232.54h.9M407.62 235.55h.9M354.25 226.11h.9M421.05 227.63h.9M365.94 227.31h.9M423.83 224.69h.9M399.96 237.77h.9M415.77 235.92h.9M342.92 224.79h.9M387.89 253.09h.9M429.39 225.62h.9M416.89 237.15h.9M413.91 249.27h.9M417.24 226.98h.9M349.29 225.06h.9M383.33 250.17h.9M373.93 234.82h.9M346.28 224.9h.9M384.44 229.1h.9M367.75 235.84h.9M357.56 225.72h.9M375.51 237.27h.9M375.01 225.13h.9M372.78 227.73h.9M335.03 224.67h.9M419.98 236.9h.9M369.7 238.24h.9M366.88 230.1h.9M406.85 225.45h.9M383.56 233.32h.9M417.54 253.94h.9M368.53 237.16h.9M345.17 227.6h.9M383.07 227.88h.9M390.85 226.97h.9M352.01 231.79h.9M378.97 244.9h.9M435.23 225.74h.9M374.46 226.25h.9M370.61 225.89h.9M360.55 224.73h.9M361.85 240.2h.9M383.61 233.32h.9M406.39 243.93h.9M345.61 233.81h.9M377.14 224.68h.9M381.89 238.99h.9M372.09 237.07h.9M344.58 232.07h.9M403.93 224.67h.9M355.42 224.79h.9M427.13 236.52h.9M345.38 224.96h.9M353.94 232.06h.9M389.37 232.67h.9M403.82 243.47h.9M375.41 233.06h.9M349.12 238.89h.9M363.98 224.85h.9M391.99 224.96h.9M397.29 228.46h.9M346.02 224.66h.9M355.5 231.83h.9M347.16 226.63h.9M373.1 231.29h.9M440.29 231.13h.9M403.75 243.88h.9M336.66 227.56h.9M352.34 233.46h.9M352.06 230.92h.9M369.31 225.18h.9M356.02 241.44h.9M351.61 224.8h.9M377.98 225.81h.9M391.71 240.11h.9M435.68 226.4h.9M363.22 228.95h.9M366.22 232.08h.9M382.65 245.97h.9M418.93 235.2h.9M438.18 225.93h.9M428.03 239h.9M436.28 225.25h.9M415.59 248.32h.9M398.5 251.32h.9M408.49 234.48h.9M425.52 242.09h.9M394.16 238.19h.9M361.58 225.38h.9M346.8 226.72h.9M419.18 237.03h.9M421.76 227.14h.9M431.76 226.79h.9M423.74 233.21h.9M418.53 225.12h.9M403.87 241.27h.9M413.4 226.22h.9M400.63 225.73h.9M363.42 238.24h.9M423.77 241.53h.9M397.17 230.7h.9M375.46 235.14h.9M398.47 225.09h.9M435.04 233.07h.9M396.99 245.67h.9M398.97 238.4h.9M378.12 225.16h.9M435.77 234.99h.9M413.61 224.85h.9M418.27 243.87h.9M369.67 227.3h.9M340.38 227.15h.9M434.92 229.16h.9M352.43 227.49h.9M424.18 225.34h.9M357.35 234.62h.9M391.98 226.02h.9M357.82 224.94h.9M428.46 240.28h.9M413.09 224.77h.9M343.08 231.18h.9M403.19 244.85h.9M418.32 229.63h.9M402.05 251.6h.9M339.67 228.32h.9M392.01 231.48h.9M405.81 229.2h.9M349.97 234.43h.9M428.27 231.85h.9M428.73 227.71h.9M387.86 230.37h.9M350.48 224.81h.9M400.51 225.8h.9M391.53 227.74h.9M379.41 227.91h.9M347.79 224.66h.9M350.96 231.46h.9M378.88 248.4h.9M355.1 227.13h.9M374.66 233.1h.9M438.09 227.8h.9M425.29 227.4h.9M371.64 246.12h.9M378.89 224.78h.9M368.84 237.78h.9M357.44 231.38h.9M346.01 227.43h.9M406.43 224.79h.9M397.29 226.07h.9M382.2 237.33h.9M393.93 253.11h.9M391.91 247.13h.9M430.27 230.55h.9M350.75 225.96h.9M344.62 224.71h.9M382.4 238.68h.9M411.19 242.16h.9M356.46 225h.9M338.24 225.3h.9M415.38 241.53h.9M370.2 226.23h.9M389.33 245.91h.9M430.92 235.94h.9M407.02 224.67h.9M410.54 224.66h.9M367.06 239.33h.9M410.63 225.91h.9M391.85 244.23h.9M347.09 231.12h.9M364.63 231.79h.9M337.61 227.13h.9M381.54 225.25h.9M348.62 226.96h.9M375.92 227.66h.9M361.4 229.36h.9M368.33 235.98h.9M376.39 224.67h.9M350.61 224.66h.9M378.62 230.27h.9M367.81 232.29h.9M413.93 230.64h.9M398.12 249.19h.9M346.09 229.23h.9M424 240.08h.9M378.29 249.2h.9M409.05 245.9h.9M350.6 225.38h.9M411.15 225.89h.9M412.39 233.31h.9M391.55 227.75h.9M345.73 238.63h.9M352.67 227.54h.9M359.77 229.19h.9M404.69 230.01h.9M395.84 228.3h.9M410.62 229.17h.9M364.95 228.83h.9M389.76 236.82h.9M394.69 225.41h.9M418.61 242.07h.9M387.92 226.11h.9M348.54 227.3h.9M360.76 241.98h.9M381.17 248.43h.9M425.47 224.84h.9M413.46 228.15h.9M407.63 230.3h.9M341.87 224.8h.9M381.05 225.72h.9M334.93 225.48h.9M409.2 253.97h.9M412.83 228.91h.9M371.14 226.75h.9M375.27 224.81h.9M345.19 226.06h.9M371.63 241.58h.9M351.68 238.64h.9M358.42 224.66h.9M397.05 226.56h.9M358.79 232.31h.9M359.62 225.25h.9M418.75 243.3h.9M376.99 230.08h.9M365.5 226.47h.9M388.9 224.98h.9M390.67 228.77h.9M337.07 227.25h.9M431.04 225.56h.9M369.18 226.43h.9M412.71 233.29h.9M380.47 242.32h.9M416.26 229.19h.9M352.71 225.25h.9M375.18 227.34h.9M358.06 224.68h.9M396.41 230.32h.9M394.58 251.66h.9M372.29 237.89h.9M367.8 225.8h.9M399.98 225.8h.9M390.71 240.53h.9M364.3 224.66h.9M379.72 224.91h.9M408.24 224.75h.9M344.86 232.34h.9M342.12 225.74h.9M368 236.51h.9M372.39 243.66h.9M396.49 224.74h.9M374.88 225.31h.9M420.45 224.74h.9M410.11 226.31h.9M340.1 229.11h.9M352 224.94h.9M423.91 241.75h.9M424.08 228.11h.9M428.64 245.07h.9M374.88 248.89h.9M393.87 228.17h.9M354.55 231.65h.9M425.23 225h.9M335.4 226.9h.9M347.95 235.03h.9M416.16 224.68h.9M350.78 240.22h.9M406.31 248.83h.9M363.74 225.24h.9M412.45 239.73h.9M375.87 228.69h.9M375.11 236.46h.9M402.23 253.5h.9M361.38 224.83h.9M354.26 236.85h.9M356.79 234.53h.9M365.02 235.4h.9M421.81 225.61h.9M425.58 232.64h.9M359.95 224.89h.9M378.25 224.68h.9M400.71 243.44h.9M373.65 236.51h.9M340.43 226.83h.9M426.91 227.53h.9M364.61 235.27h.9M428.14 247.28h.9M374.16 224.66h.9M358.27 235.12h.9M399.51 240.1h.9M365.25 245.32h.9M402.17 246.16h.9M415.32 225.29h.9M337.94 225.12h.9M409.35 235.17h.9M436.08 237.89h.9M401.03 225.57h.9M337.58 224.9h.9M383.95 228.02h.9M403.85 242.29h.9M411.72 224.86h.9M365.41 224.78h.9M411.7 236.19h.9M376.83 234.04h.9M435.24 229.93h.9M358.57 224.66h.9M382.56 243.46h.9M344.9 224.68h.9M420.28 242.89h.9M414.84 227.82h.9M409.59 239.28h.9M411.11 234.8h.9M435.26 227.77h.9M394.13 251.31h.9M394.48 252.93h.9M346.01 227.13h.9M361.15 237.76h.9M344.43 224.84h.9M422.32 227.88h.9M361.5 240.09h.9M420.34 231.59h.9M406.77 228.44h.9M377 224.7h.9M398.43 239.73h.9M409.29 224.67h.9M427.07 225.12h.9M360.83 233.32h.9M344.04 225.19h.9M435.24 233.38h.9M432.19 225.62h.9M395.78 227.41h.9M353.74 243.5h.9M381.89 242.98h.9M341.18 229.35h.9M391.09 229.32h.9M335.03 229.2h.9M345.96 225.26h.9M349.85 230.47h.9M442.14 224.67h.9M391.07 226.3h.9M391.75 224.7h.9M425.41 229.35h.9M404.62 242.32h.9M437.01 241.46h.9M416.97 243.14h.9M387.95 225.27h.9M420.5 241.49h.9M341.33 229.33h.9M421.53 235.49h.9M377.23 233.5h.9M371.72 224.76h.9M382.89 231.6h.9M387.6 241.55h.9M363.52 225.44h.9M387.38 229.67h.9M339.51 234.46h.9M400.53 250.36h.9M366.77 224.74h.9M362.47 225.89h.9M379.1 232.21h.9M432.27 232.64h.9M388.76 247.43h.9M436.2 232.09h.9M355.81 225.74h.9M430.86 227.09h.9M415.05 225.07h.9M339.95 227.35h.9M431.17 246.56h.9M353.11 225.2h.9M363.57 228.33h.9M354.11 236.72h.9M432.27 225.18h.9M414.47 247.08h.9M402.32 224.66h.9M339.75 234.13h.9M336.51 226.39h.9M355.73 226.62h.9M336.71 229.12h.9M359.71 226.27h.9M418.04 227.38h.9M406.62 224.69h.9M348 234.58h.9M428.19 230.47h.9M379.99 230.18h.9M381.66 239.81h.9M342.11 228.79h.9M437.56 227.98h.9M386.66 230.17h.9M383.98 226.26h.9M365.35 224.66h.9M352.39 232.08h.9M394.78 229.37h.9M377.73 247.7h.9M354.25 237.92h.9M402.07 237.79h.9M396.26 228.07h.9M428.28 237.41h.9M362.31 247.4h.9M436.32 228.63h.9M418.93 235.48h.9M412.73 252.14h.9M419.36 249.88h.9M364.58 255.51h.9M407.24 235.76h.9M386.16 244.76h.9M374.82 229.44h.9M401.63 256.62h.9M369.6 242.48h.9M405.7 254.45h.9M436.76 235.76h.9M369.51 229.06h.9M358.08 233.1h.9M428.8 246.01h.9M383.45 254.73h.9M408.64 236.66h.9M449.36 254.57h.9M429.9 234.49h.9M383.36 230.38h.9M425.93 245.87h.9M395.11 228.03h.9M394.01 239.89h.9M390.1 252.59h.9M393.76 241.03h.9M372.77 228.83h.9M383.8 249.03h.9M444.29 247.93h.9M423.59 250.19h.9M397.57 251.89h.9M420.27 234.31h.9M416.51 249.78h.9M395 234.65h.9M440.75 249.07h.9M411.55 258.29h.9M409.81 245.19h.9M426.22 254.06h.9M434.36 238.04h.9M421.5 248.93h.9M418.31 235.69h.9M400.31 240.15h.9M442.64 232.75h.9M366.19 257.6h.9M373.8 243.08h.9M439.38 233.83h.9M447.42 248.34h.9M408.3 253.76h.9M420.29 248.32h.9M381.53 245.43h.9M380.35 250.27h.9M427.54 239.97h.9M393.66 250.47h.9M395.31 238.35h.9M391.92 251.52h.9M448.71 231.07h.9M413.38 238.54h.9M373.68 234.39h.9M450.35 250.06h.9M454.21 230.45h.9M355.57 243.31h.9M452.86 229.27h.9M376.28 248.73h.9M371.25 238.07h.9M380.08 227.68h.9M396.12 244.01h.9M379.4 243.43h.9M402.7 257.27h.9M392.72 252.65h.9M440.83 228.38h.9M449.5 243.99h.9M380.85 242.95h.9M407.2 237.99h.9M429.03 230.19h.9M389.86 248.22h.9M393.52 237.94h.9M426.72 242.25h.9M413.06 242.74h.9M362.39 232.43h.9M393.06 228.58h.9M383.44 247.27h.9M406.09 239.91h.9M374.15 228.95h.9M386.93 228.01h.9M387.56 246.71h.9M406.79 228.97h.9M417.8 253.91h.9M359.5 230.05h.9M366.54 242.84h.9M367.52 247.21h.9M384.06 251.17h.9M396.96 256.1h.9M382.92 254.28h.9M415.97 237.41h.9M443.94 228.52h.9M422.76 229.31h.9M427.71 230.7h.9M369.56 230.42h.9M437.9 242.32h.9M405.1 243.96h.9M432.36 236.71h.9M379.72 256.49h.9M390.38 235.12h.9M405.6 251.16h.9M367.58 235.98h.9M422.02 232.96h.9M356.88 235.12h.9M366.17 235.51h.9M406.95 228.67h.9M420.75 239.64h.9M440.28 229.2h.9M356.92 241.54h.9M447.25 251.34h.9M454.29 234.15h.9M452.55 228.8h.9M428.49 249.24h.9M372.23 229.58h.9M435.02 248.5h.9M418.51 255.81h.9M378.02 229.86h.9M446.69 233.73h.9M373.81 252.71h.9M394.49 233.04h.9M410.25 246.11h.9M372.17 256.51h.9M364.37 230.48h.9M424.88 228.91h.9M401.91 235.49h.9M417.16 231.41h.9M378.42 256.08h.9M426.91 243.89h.9M425.3 233.53h.9M400.33 248.69h.9M363.7 243.53h.9M369.17 236.66h.9M417.44 258.16h.9M451.73 252.44h.9M357.96 252.74h.9M379.15 249.93h.9M372.25 249.91h.9M371.83 253.77h.9M412.56 228.14h.9M420.57 247.09h.9M434.49 248.42h.9M431.09 235.31h.9M444.14 236.08h.9M376.34 255h.9M357.45 228.84h.9M439.07 242.61h.9M409.14 243.67h.9M407.96 234.59h.9M413.1 252.3h.9M376.74 232.97h.9M365.12 243.75h.9" stroke="#2d6db4" stroke-width="0.9" fill="none"/>
<line x1="320.4" y1="212.2" x2="497.5" y2="212.2" stroke="#666" stroke-width="0.9"/>
<line x1="320.4" y1="204.51" x2="497.5" y2="204.51" stroke="#555" stroke-width="0.7" stroke-dasharray="1.3 1.3"/>
<line x1="320.4" y1="219.89" x2="497.5" y2="219.89" stroke="#555" stroke-width="0.7" stroke-dasharray="1.3 1.3"/>
<text font-size="4.07" fill="#333" transform="translate(439.5 247.6) scale(0.912 1)">Gp6</text>
<text font-size="4.07" fill="#333" transform="translate(457.2 248.3) scale(0.912 1)">Tubb1</text>
<text font-size="4.07" fill="#333" transform="translate(416 252.6) scale(0.912 1)">Gp1bb</text>
<text font-size="4.07" fill="#333" transform="translate(444.8 253.2) scale(0.912 1)">Myl9</text>
<text font-size="4.07" fill="#333" transform="translate(426.5 257.2) scale(0.912 1)">Gp5</text>
<text font-size="4.07" fill="#333" transform="translate(436 260.3) scale(0.912 1)">Wdcr12</text>
<text font-size="4.07" fill="#333" transform="translate(461.7 259) scale(0.912 1)">Ppbp</text>
<text font-size="4.07" fill="#333" transform="translate(420.4 267.2) scale(0.912 1)">Mpig6b</text>
<path d="M436.5 250.5L439 246.4M452 251L456.7 247.1M424 252L415.5 251.4M441 254L444.3 252M431 253L426 256M437 256L435.5 259.1M457 257L461.2 257.8M415 265.8L419.9 266" stroke="#333" stroke-width="0.4" fill="none"/>
<path d="M320.4 145.9V278.4H497.5V145.9Z" fill="none" stroke="#231f20" stroke-width="0.9"/>
<path d="M320.4 145.9H497.5" stroke="#231f20" stroke-width="0.9"/>
<text font-size="8.36" text-anchor="end" transform="translate(313.8 253.25) scale(0.912 1)">&#8722;5</text>
<text font-size="8.36" text-anchor="end" transform="translate(313.8 214.8) scale(0.912 1)">0</text>
<text font-size="8.36" text-anchor="end" transform="translate(313.8 176.35) scale(0.912 1)">5</text>
<text font-size="8.36" text-anchor="middle" transform="translate(328.5 290.2) scale(0.912 1)">0</text>
<text font-size="8.36" text-anchor="middle" transform="translate(345.4 290.2) scale(0.912 1)">2</text>
<text font-size="8.36" text-anchor="middle" transform="translate(362.3 290.2) scale(0.912 1)">4</text>
<text font-size="8.36" text-anchor="middle" transform="translate(379.2 290.2) scale(0.912 1)">6</text>
<text font-size="8.36" text-anchor="middle" transform="translate(396.1 290.2) scale(0.912 1)">8</text>
<text font-size="8.36" text-anchor="middle" transform="translate(413 290.2) scale(0.912 1)">10</text>
<text font-size="8.36" text-anchor="middle" transform="translate(429.9 290.2) scale(0.912 1)">12</text>
<text font-size="8.36" text-anchor="middle" transform="translate(446.8 290.2) scale(0.912 1)">14</text>
<text font-size="8.36" text-anchor="middle" transform="translate(463.7 290.2) scale(0.912 1)">16</text>
<text font-size="8.36" text-anchor="middle" transform="translate(480.6 290.2) scale(0.912 1)">18</text>
<path d="M320.4 250.65h-2.2M320.4 212.2h-2.2M320.4 173.75h-2.2M328.5 278.4v3M345.4 278.4v3M362.3 278.4v3M379.2 278.4v3M396.1 278.4v3M413 278.4v3M429.9 278.4v3M446.8 278.4v3M463.7 278.4v3M480.6 278.4v3" stroke="#231f20" stroke-width="0.8" fill="none"/>
<circle cx="332" cy="150.2" r="2.3" fill="#c4212b"/><circle cx="332" cy="159.6" r="2.3" fill="#2d6db4"/>
<text font-size="7.56" transform="translate(336.6 152.8) scale(0.924 1)">Upregulated genes</text>
<text font-size="7.56" transform="translate(336.6 162.2) scale(0.924 1)">Downregulated genes</text>
<text font-size="9.04" text-anchor="middle" transform="translate(409.2 303.2) scale(0.697 1)" style="stroke-width:.42px">Log2 mean expression</text>
<text font-size="9.83" text-anchor="middle" transform="translate(303.9 203) rotate(-90) scale(0.675 1)" style="stroke-width:.42px">Log2 fold change</text>
<text font-size="11.86" font-weight="bold" fill="#000" transform="translate(6.3 314.2) scale(0.912 1)">E</text>
<line x1="34.6" y1="320.6" x2="34.6" y2="390.8" stroke="#231f20" stroke-width="1.1"/>
<text font-size="7.35" text-anchor="end" transform="translate(28 387.9)">&#8722;5</text>
<text font-size="7.35" text-anchor="end" transform="translate(28 377.57)">&#8722;4</text>
<text font-size="7.35" text-anchor="end" transform="translate(28 367.24)">&#8722;3</text>
<text font-size="7.35" text-anchor="end" transform="translate(28 356.91)">&#8722;2</text>
<text font-size="7.35" text-anchor="end" transform="translate(28 346.58)">&#8722;1</text>
<text font-size="7.35" text-anchor="end" transform="translate(28 336.25)">0</text>
<text font-size="7.35" text-anchor="end" transform="translate(28 325.92)">1</text>
<path d="M34.6 385.4h-3M34.6 375.07h-3M34.6 380.24h-1.8M34.6 364.74h-3M34.6 369.91h-1.8M34.6 354.41h-3M34.6 359.58h-1.8M34.6 344.08h-3M34.6 349.25h-1.8M34.6 333.75h-3M34.6 338.92h-1.8M34.6 323.42h-3M34.6 328.59h-1.8M43.3 390.3v3.3M60.5 390.3v3.3M77.7 390.3v3.3M94.9 390.3v3.3M112.1 390.3v3.3M129.3 390.3v3.3M146.5 390.3v3.3M163.7 390.3v3.3" stroke="#231f20" stroke-width="0.9" fill="none"/>
<rect x="36.3" y="333.75" width="14" height="3.41" fill="#c8142f"/>
<text font-size="7.8" text-anchor="end" transform="translate(45.6 398.1) rotate(-45) scale(0.912 1)">Runx1</text>
<rect x="53.5" y="333.75" width="14" height="4.96" fill="#c8142f"/>
<text font-size="7.8" text-anchor="end" transform="translate(62.8 398.1) rotate(-45) scale(0.912 1)">Mafk</text>
<rect x="70.7" y="333.75" width="14" height="6.4" fill="#c8142f"/>
<text font-size="7.8" text-anchor="end" transform="translate(80 398.1) rotate(-45) scale(0.912 1)">Fli1</text>
<rect x="87.9" y="333.75" width="14" height="29.96" fill="#3cb54e"/>
<text font-size="7.8" text-anchor="end" transform="translate(97.2 398.1) rotate(-45) scale(0.912 1)">Gfi1b</text>
<rect x="105.1" y="333.75" width="14" height="32.44" fill="#3cb54e"/>
<text font-size="7.8" text-anchor="end" transform="translate(114.4 398.1) rotate(-45) scale(0.912 1)">Gata1</text>
<rect x="122.3" y="333.75" width="14" height="40.91" fill="#3cb54e"/>
<text font-size="7.8" text-anchor="end" transform="translate(131.6 398.1) rotate(-45) scale(0.912 1)">Mpl</text>
<rect x="139.5" y="333.75" width="14" height="49.79" fill="#3cb54e"/>
<text font-size="7.8" text-anchor="end" transform="translate(148.8 398.1) rotate(-45) scale(0.912 1)">Gp1ba</text>
<rect x="156.7" y="333.75" width="14" height="52.89" fill="#3cb54e"/>
<text font-size="7.8" text-anchor="end" transform="translate(166 398.1) rotate(-45) scale(0.912 1)">Gp6</text>
<line x1="34.6" y1="333.75" x2="191" y2="333.75" stroke="#111" stroke-width="1"/>
<line x1="34.6" y1="390.3" x2="191" y2="390.3" stroke="#231f20" stroke-width="1.1"/>
<line x1="34.5" y1="425.4" x2="34.5" y2="496.3" stroke="#231f20" stroke-width="1.1"/>
<text font-size="7.35" text-anchor="end" transform="translate(27.9 492.9)">&#8722;5</text>
<text font-size="7.35" text-anchor="end" transform="translate(27.9 482.5)">&#8722;4</text>
<text font-size="7.35" text-anchor="end" transform="translate(27.9 472.1)">&#8722;3</text>
<text font-size="7.35" text-anchor="end" transform="translate(27.9 461.7)">&#8722;2</text>
<text font-size="7.35" text-anchor="end" transform="translate(27.9 451.3)">&#8722;1</text>
<text font-size="7.35" text-anchor="end" transform="translate(27.9 440.9)">0</text>
<text font-size="7.35" text-anchor="end" transform="translate(27.9 430.5)">1</text>
<path d="M34.5 490.4h-3M34.5 480h-3M34.5 485.2h-1.8M34.5 469.6h-3M34.5 474.8h-1.8M34.5 459.2h-3M34.5 464.4h-1.8M34.5 448.8h-3M34.5 454h-1.8M34.5 438.4h-3M34.5 443.6h-1.8M34.5 428h-3M34.5 433.2h-1.8M34.5 495.6h-1.3M41.35 495.8v3.3M55.15 495.8v3.3M68.95 495.8v3.3M82.75 495.8v3.3M96.55 495.8v3.3M110.35 495.8v3.3M124.15 495.8v3.3M137.95 495.8v3.3M151.75 495.8v3.3M165.55 495.8v3.3" stroke="#231f20" stroke-width="0.9" fill="none"/>
<rect x="36" y="428.21" width="10.7" height="10.19" fill="#3cb54e"/>
<text font-size="7.8" text-anchor="end" transform="translate(43.65 503.6) rotate(-45) scale(0.912 1)">Cd3d</text>
<rect x="49.8" y="429.25" width="10.7" height="9.15" fill="#c8142f"/>
<text font-size="7.8" text-anchor="end" transform="translate(57.45 503.6) rotate(-45) scale(0.912 1)">Cd19</text>
<rect x="63.6" y="432.26" width="10.7" height="6.14" fill="#c8142f"/>
<text font-size="7.8" text-anchor="end" transform="translate(71.25 503.6) rotate(-45) scale(0.912 1)">Mpo</text>
<rect x="77.4" y="435.28" width="10.7" height="3.12" fill="#c8142f"/>
<text font-size="7.8" text-anchor="end" transform="translate(85.05 503.6) rotate(-45) scale(0.912 1)">Stat3</text>
<rect x="91.2" y="438.19" width="10.7" height="0.21" fill="#c8142f"/>
<text font-size="7.8" text-anchor="end" transform="translate(98.85 503.6) rotate(-45) scale(0.912 1)">Stat5b</text>
<rect x="105" y="438.4" width="10.7" height="0.31" fill="#c8142f"/>
<text font-size="7.8" text-anchor="end" transform="translate(112.65 503.6) rotate(-45) scale(0.912 1)">Ikzf5</text>
<rect x="118.8" y="438.4" width="10.7" height="1.04" fill="#c8142f"/>
<text font-size="7.8" text-anchor="end" transform="translate(126.45 503.6) rotate(-45) scale(0.912 1)">Stat5a</text>
<rect x="132.6" y="438.4" width="10.7" height="3.12" fill="#c8142f"/>
<text font-size="7.8" text-anchor="end" transform="translate(140.25 503.6) rotate(-45) scale(0.912 1)">Csk</text>
<rect x="146.4" y="438.4" width="10.7" height="3.95" fill="#c8142f"/>
<text font-size="7.8" text-anchor="end" transform="translate(154.05 503.6) rotate(-45) scale(0.912 1)">Syk</text>
<rect x="160.2" y="438.4" width="10.7" height="6.45" fill="#c8142f"/>
<text font-size="7.8" text-anchor="end" transform="translate(167.85 503.6) rotate(-45) scale(0.912 1)">Hba-a1</text>
<line x1="34.5" y1="438.4" x2="191" y2="438.4" stroke="#111" stroke-width="1"/>
<line x1="34.5" y1="495.8" x2="191" y2="495.8" stroke="#231f20" stroke-width="1.1"/>
<text font-size="8.36" text-anchor="middle" transform="translate(13.5 406) rotate(-90) scale(0.729 1)" style="stroke-width:.42px">Log2 fold change</text>
<text font-size="11.86" font-weight="bold" fill="#000" transform="translate(200.3 314.2) scale(0.912 1)">F</text>
<rect x="211" y="320" width="67" height="67.2" fill="#000"/>
<rect x="211" y="320" width="67" height="67.2" filter="url(#nz1)"/>
<rect x="211" y="320" width="67" height="67.2" filter="url(#mg)"/>
<rect x="211" y="389.8" width="67" height="66.8" fill="#000"/>
<rect x="211" y="389.8" width="67" height="66.8" filter="url(#nz2)"/>
<rect x="211" y="389.8" width="67" height="66.8" filter="url(#mg2)"/>
<clipPath id="cl1"><rect x="211" y="320" width="67" height="67.2"/><rect x="211" y="389.8" width="67" height="66.8"/></clipPath>
<g clip-path="url(#cl1)"><g filter="url(#bl3)" fill="#000">
<ellipse cx="230" cy="350" rx="7" ry="3.5" transform="rotate(-25 230 350)" opacity="0.75"/>
<ellipse cx="242" cy="368" rx="8" ry="4.5" transform="rotate(25 242 368)" opacity="0.7"/>
<ellipse cx="215" cy="355" rx="3.5" ry="5" opacity="0.7"/>
<ellipse cx="266" cy="325" rx="5" ry="2.5" opacity="0.6"/>
<ellipse cx="222" cy="383" rx="5" ry="2.5" opacity="0.6"/>
<ellipse cx="218" cy="396" rx="6" ry="4" opacity="0.55"/>
<rect x="247" y="412" width="16" height="30" opacity="0.45"/>
<ellipse cx="240" cy="410" rx="4" ry="3" opacity="0.5"/>
</g></g>
<g filter="url(#tx)" fill="#30c4d0">
<ellipse cx="235" cy="322" rx="3" ry="2" /><path d="M253 341 L258 338 L263 341 L263 347 L259 349 L254 346Z"/>
<circle cx="257" cy="354" r="4.4" fill="#2aa8b8"/>
<g fill="none" stroke="#30c4d0" stroke-width="1.3" opacity="0.85"><ellipse cx="232" cy="406" rx="2.5" ry="4"/><ellipse cx="225" cy="420" rx="3.2" ry="2.6"/></g><ellipse cx="259" cy="429" rx="1.5" ry="2.5"/><ellipse cx="244" cy="452" rx="2" ry="1.5"/>
<ellipse cx="270" cy="330" rx="2" ry="1.5"/><ellipse cx="219" cy="381" rx="1.5" ry="1.5"/><ellipse cx="275" cy="384" rx="2" ry="1.5"/>
</g>
<circle cx="257" cy="354" r="2.4" fill="#c864c0" filter="url(#bl2)"/>
<rect x="250.5" y="331.3" width="17.6" height="31.6" fill="none" stroke="#e0e0e0" stroke-width="0.9"/>
<rect x="246.1" y="411" width="17.9" height="31.7" fill="none" stroke="#e0e0e0" stroke-width="0.9"/>
<rect x="280" y="320.2" width="39" height="67" fill="#000"/>
<rect x="280" y="389.8" width="39" height="66.7" fill="#000"/>
<clipPath id="cr1"><rect x="280" y="320.2" width="39" height="67"/></clipPath>
<clipPath id="cr2"><rect x="280" y="389.8" width="39" height="66.7"/></clipPath>
<g clip-path="url(#cr1)">
<g filter="url(#tx)">
<path d="M288 334 L296 328 L305 329 L311 334 L315 341 L313 349 L306 353 L298 349 L291 343Z" fill="#34d0de"/>
<circle cx="301" cy="364" r="9.2" fill="#1c9cac"/>
</g>
<g filter="url(#tx)"><circle cx="301" cy="364" r="6.3" fill="#d070d0"/><circle cx="301" cy="364" r="6.3" fill="#d070d0"/></g>
<g filter="url(#bl2)"><circle cx="311.01" cy="369.95" r="1.72" fill="#cd9dcb"/><circle cx="284.42" cy="344.86" r="1.47" fill="#cf9fcd"/><circle cx="289.72" cy="358.75" r="1.55" fill="#8f8993"/><circle cx="309.86" cy="328.46" r="1.75" fill="#89838d"/><circle cx="297.35" cy="327.01" r="1.84" fill="#78727c"/><circle cx="288.4" cy="372.07" r="1.79" fill="#9d97a1"/><circle cx="287.76" cy="366.43" r="1.66" fill="#8f8993"/><circle cx="314.86" cy="335.84" r="1.53" fill="#8d8791"/><circle cx="290.29" cy="337.59" r="1.76" fill="#d5a5d3"/><circle cx="282.22" cy="371.68" r="1.36" fill="#a59fa9"/><circle cx="280.7" cy="361.75" r="1.53" fill="#c2bcc6"/><circle cx="284.64" cy="333.04" r="1.76" fill="#b3adb7"/><circle cx="313.53" cy="321.94" r="1.82" fill="#837d87"/><circle cx="307.4" cy="324.88" r="1.69" fill="#9f99a3"/><circle cx="283.05" cy="327.89" r="1.69" fill="#b5afb9"/><circle cx="289.26" cy="351.48" r="1.76" fill="#b2acb6"/><circle cx="293.03" cy="330.97" r="1.84" fill="#c0bac4"/><circle cx="318.97" cy="365.17" r="1.84" fill="#b2acb6"/><circle cx="290.69" cy="344.91" r="1.8" fill="#86808a"/><circle cx="318.55" cy="370.87" r="1.66" fill="#b7b1bb"/><circle cx="299.61" cy="323.34" r="1.75" fill="#a59fa9"/><circle cx="310.02" cy="356.62" r="1.5" fill="#a39da7"/><circle cx="302.65" cy="320.61" r="1.62" fill="#98929c"/><circle cx="293.04" cy="327.52" r="1.84" fill="#918b95"/><circle cx="316.56" cy="345.29" r="1.7" fill="#cdc7d1"/><circle cx="286.7" cy="361.36" r="1.64" fill="#cdc7d1"/><circle cx="318.84" cy="330.37" r="1.64" fill="#c7c1cb"/><circle cx="298.39" cy="331.99" r="1.38" fill="#9b6b99"/><circle cx="293.69" cy="355.11" r="1.39" fill="#928c96"/><circle cx="312.42" cy="339.82" r="1.37" fill="#c6c0ca"/><circle cx="286.11" cy="340.29" r="1.59" fill="#918b95"/><circle cx="284.21" cy="349.99" r="1.66" fill="#8a848e"/><circle cx="314.18" cy="349.91" r="1.56" fill="#948e98"/><circle cx="289.79" cy="321.04" r="1.82" fill="#9f99a3"/><circle cx="280.51" cy="348.23" r="1.49" fill="#b4aeb8"/><circle cx="289.58" cy="334.19" r="1.43" fill="#9c96a0"/><circle cx="305.15" cy="352" r="1.72" fill="#996997"/><circle cx="308.52" cy="321.41" r="1.52" fill="#d5a5d3"/><circle cx="306.81" cy="330.13" r="1.56" fill="#aea8b2"/><circle cx="312.81" cy="345.21" r="1.69" fill="#918b95"/><circle cx="310.38" cy="350.85" r="1.67" fill="#b4aeb8"/><circle cx="311.96" cy="361.96" r="1.68" fill="#7b757f"/><circle cx="284.34" cy="367.43" r="1.85" fill="#b0aab4"/><circle cx="286.29" cy="352.99" r="1.37" fill="#857f89"/><circle cx="302.27" cy="326.27" r="1.55" fill="#d9a9d7"/><circle cx="316.6" cy="339.83" r="1.38" fill="#9d97a1"/><circle cx="300.18" cy="351.41" r="1.64" fill="#8f8993"/><circle cx="283.78" cy="321.76" r="1.45" fill="#7d7781"/><circle cx="316.55" cy="355.05" r="1.52" fill="#aea8b2"/><circle cx="316.87" cy="326.25" r="1.68" fill="#9d97a1"/><circle cx="281.31" cy="357.88" r="1.64" fill="#deaedc"/><circle cx="318.04" cy="320.33" r="1.38" fill="#aca6b0"/><circle cx="297.39" cy="353.95" r="1.79" fill="#908a94"/><circle cx="288.73" cy="326.13" r="1.51" fill="#837d87"/><circle cx="290.28" cy="341.34" r="1.42" fill="#ce9ecc"/><circle cx="296.72" cy="350.58" r="1.47" fill="#7f7983"/><circle cx="311.05" cy="366.78" r="1.79" fill="#817b85"/><circle cx="317.24" cy="358.59" r="1.7" fill="#ac7caa"/><circle cx="299.17" cy="320.09" r="1.41" fill="#ada7b1"/><circle cx="315.45" cy="332.5" r="1.7" fill="#a59fa9"/><circle cx="313.66" cy="353.02" r="1.75" fill="#a8a2ac"/><circle cx="281.47" cy="324.68" r="1.83" fill="#9e98a2"/><circle cx="288.14" cy="347.38" r="1.8" fill="#96909a"/><circle cx="282.99" cy="341.89" r="1.44" fill="#ddaddb"/><circle cx="303.53" cy="329.75" r="1.45" fill="#d6a6d4"/><circle cx="315.17" cy="367.35" r="1.66" fill="#b5afb9"/><circle cx="317.29" cy="351.71" r="1.77" fill="#b4aeb8"/><circle cx="280.83" cy="335.78" r="1.58" fill="#ddaddb"/><circle cx="314.4" cy="372.01" r="1.42" fill="#ccc6d0"/><circle cx="286.36" cy="357.03" r="1.4" fill="#c2bcc6"/><circle cx="287.4" cy="329.13" r="1.79" fill="#b4aeb8"/><circle cx="280.79" cy="366.88" r="1.84" fill="#918b95"/><circle cx="294.34" cy="372.37" r="1.71" fill="#a7a1ab"/><circle cx="283.22" cy="353.96" r="1.81" fill="#dbabd9"/><circle cx="285.58" cy="336.18" r="1.63" fill="#c3bdc7"/><circle cx="318.57" cy="361.77" r="1.46" fill="#c494c2"/><circle cx="312.82" cy="327.35" r="1.73" fill="#9f6f9d"/><circle cx="283.1" cy="338.64" r="1.7" fill="#c7c1cb"/><circle cx="285.47" cy="325.93" r="1.37" fill="#807a84"/><circle cx="284.46" cy="364.23" r="1.61" fill="#aaa4ae"/><circle cx="295.09" cy="321.98" r="1.44" fill="#a59fa9"/><circle cx="289.92" cy="364.05" r="1.8" fill="#a6a0aa"/><circle cx="287.7" cy="343.47" r="1.77" fill="#cac4ce"/><circle cx="307.94" cy="371.98" r="1.56" fill="#cd9dcb"/><circle cx="318.43" cy="337.32" r="1.62" fill="#bdb7c1"/><circle cx="280.68" cy="344.87" r="1.83" fill="#8b858f"/><circle cx="315.38" cy="362.94" r="1.49" fill="#847e88"/><circle cx="293.48" cy="350.32" r="1.71" fill="#8d8791"/><circle cx="285.25" cy="370.77" r="1.46" fill="#afa9b3"/><circle cx="312.5" cy="358.82" r="1.7" fill="#a29ca6"/><circle cx="318.83" cy="348.9" r="1.82" fill="#8f8993"/><circle cx="280.55" cy="352.37" r="1.64" fill="#7d7781"/><circle cx="312.54" cy="333.61" r="1.58" fill="#7c7680"/><circle cx="291.1" cy="368.14" r="1.45" fill="#9f6f9d"/><circle cx="289.82" cy="354.87" r="1.47" fill="#79737d"/><circle cx="310.04" cy="331.7" r="1.38" fill="#98929c"/><circle cx="316.45" cy="323.05" r="1.48" fill="#8a848e"/><circle cx="291.49" cy="324.57" r="1.55" fill="#b9b3bd"/><circle cx="308.28" cy="353.39" r="1.72" fill="#aea8b2"/><circle cx="302.07" cy="353.95" r="1.75" fill="#7d7781"/><circle cx="280.07" cy="321.51" r="1.63" fill="#b989b7"/><circle cx="280.13" cy="330.48" r="1.62" fill="#c3bdc7"/><circle cx="311.06" cy="324.12" r="1.58" fill="#837d87"/></g>
<g filter="url(#bl2)"><circle cx="310.94" cy="385.33" r="1.59" fill="#ab7ba9"/><circle cx="285.68" cy="381.8" r="1.83" fill="#a7a1ab"/><circle cx="280.85" cy="380.33" r="1.45" fill="#aca6b0"/><circle cx="301.03" cy="374.41" r="1.63" fill="#99939d"/><circle cx="296.56" cy="387.85" r="1.53" fill="#aca6b0"/><circle cx="297.36" cy="374.41" r="1.45" fill="#c9c3cd"/><circle cx="283.8" cy="373.69" r="1.8" fill="#cbc5cf"/><circle cx="298.98" cy="385.49" r="1.45" fill="#c1bbc5"/><circle cx="307.22" cy="385.08" r="1.84" fill="#7b757f"/><circle cx="289.55" cy="379.45" r="1.53" fill="#996997"/></g>
<g fill="#c868c8" filter="url(#bl2)"><circle cx="285" cy="345" r="2.2"/><circle cx="288" cy="350" r="1.6"/><circle cx="315" cy="333" r="2"/><circle cx="312" cy="340" r="1.8"/></g>
</g>
<g clip-path="url(#cr2)">
<g filter="url(#tx)">
<path d="M280 404 L287 401 L293 407 L294 418 L290 428 L283 430 L280 428Z" fill="#22b4c4"/>
<path d="M312 414 L319 410 L319 436 L313 432 L310 424Z" fill="#22bccc"/>
</g>
<g filter="url(#bl2)"><circle cx="298.06" cy="414.7" r="1.42" fill="#78727c"/><circle cx="298.09" cy="430.13" r="1.52" fill="#c6c0ca"/><circle cx="308.4" cy="401.1" r="1.82" fill="#aea8b2"/><circle cx="289.28" cy="397.2" r="1.6" fill="#d5a5d3"/><circle cx="306.85" cy="442.47" r="1.79" fill="#9d97a1"/><circle cx="288.75" cy="442.69" r="1.79" fill="#9a949e"/><circle cx="295.47" cy="412.59" r="1.37" fill="#78727c"/><circle cx="282.14" cy="415.07" r="1.6" fill="#7b757f"/><circle cx="308.71" cy="446.54" r="1.83" fill="#78727c"/><circle cx="302.57" cy="449.52" r="1.45" fill="#79737d"/><circle cx="285.19" cy="451.01" r="1.6" fill="#c1bbc5"/><circle cx="315.92" cy="417.82" r="1.55" fill="#c9c3cd"/><circle cx="316.65" cy="437.8" r="1.37" fill="#9a949e"/><circle cx="303.65" cy="399.76" r="1.48" fill="#c1bbc5"/><circle cx="284.73" cy="436.85" r="1.83" fill="#96909a"/><circle cx="299.69" cy="438.89" r="1.77" fill="#bab4be"/><circle cx="310.21" cy="395.59" r="1.52" fill="#c2bcc6"/><circle cx="288.19" cy="403.06" r="1.82" fill="#7a747e"/><circle cx="303.7" cy="389.84" r="1.41" fill="#948e98"/><circle cx="292.66" cy="395.72" r="1.66" fill="#857f89"/><circle cx="301.86" cy="418.39" r="1.52" fill="#97919b"/><circle cx="282.58" cy="433.01" r="1.4" fill="#aba5af"/><circle cx="317.28" cy="427.18" r="1.42" fill="#9d97a1"/><circle cx="312.89" cy="407.07" r="1.38" fill="#8e8892"/><circle cx="286.4" cy="397.82" r="1.42" fill="#90608e"/><circle cx="288.14" cy="415.74" r="1.66" fill="#a59fa9"/><circle cx="298.76" cy="408.32" r="1.83" fill="#bfb9c3"/><circle cx="284.6" cy="417.81" r="1.42" fill="#bfb9c3"/><circle cx="294.94" cy="448.97" r="1.43" fill="#9b959f"/><circle cx="314.33" cy="422.78" r="1.4" fill="#7e7882"/><circle cx="285.01" cy="443.05" r="1.76" fill="#8c8690"/><circle cx="288.67" cy="390.67" r="1.44" fill="#b2acb6"/><circle cx="301.27" cy="395.35" r="1.62" fill="#c3bdc7"/><circle cx="300.88" cy="452.58" r="1.36" fill="#c2bcc6"/><circle cx="301.23" cy="424.72" r="1.62" fill="#807a84"/><circle cx="282.51" cy="404.76" r="1.42" fill="#847e88"/><circle cx="297.69" cy="422.5" r="1.67" fill="#7e7882"/><circle cx="304.28" cy="395.44" r="1.37" fill="#aca6b0"/><circle cx="298.34" cy="425.52" r="1.36" fill="#817b85"/><circle cx="310.53" cy="390.37" r="1.83" fill="#c3bdc7"/><circle cx="306.18" cy="419.91" r="1.41" fill="#a676a4"/><circle cx="282.06" cy="394.78" r="1.67" fill="#827c86"/><circle cx="308.9" cy="420.98" r="1.61" fill="#a7a1ab"/><circle cx="283.16" cy="390.16" r="1.73" fill="#a373a1"/><circle cx="289.88" cy="430.54" r="1.83" fill="#bab4be"/><circle cx="313.21" cy="430.17" r="1.46" fill="#7f7983"/><circle cx="285.16" cy="392.39" r="1.44" fill="#a59fa9"/><circle cx="315.17" cy="451.88" r="1.79" fill="#9e98a2"/><circle cx="283.68" cy="410.99" r="1.47" fill="#c5bfc9"/><circle cx="298.2" cy="451.47" r="1.58" fill="#a9a3ad"/><circle cx="286.65" cy="426.08" r="1.44" fill="#a6a0aa"/><circle cx="285.37" cy="431.51" r="1.52" fill="#b1abb5"/><circle cx="306.14" cy="415.47" r="1.7" fill="#b484b2"/><circle cx="288.87" cy="438.31" r="1.73" fill="#b9b3bd"/><circle cx="298.07" cy="390.01" r="1.81" fill="#a474a2"/><circle cx="280.42" cy="451.23" r="1.37" fill="#8b858f"/><circle cx="307.05" cy="423.79" r="1.74" fill="#aba5af"/><circle cx="299.74" cy="398.79" r="1.7" fill="#a59fa9"/><circle cx="302.13" cy="443.13" r="1.74" fill="#8e8892"/><circle cx="280.37" cy="435.44" r="1.36" fill="#b5afb9"/><circle cx="318.15" cy="396.05" r="1.49" fill="#bab4be"/><circle cx="306.51" cy="405.28" r="1.52" fill="#a49ea8"/><circle cx="281.98" cy="408.38" r="1.52" fill="#c2bcc6"/><circle cx="310.36" cy="434.43" r="1.4" fill="#89838d"/><circle cx="280.39" cy="426.81" r="1.37" fill="#a59fa9"/><circle cx="304.65" cy="454.1" r="1.63" fill="#8d8791"/><circle cx="314.65" cy="440.99" r="1.83" fill="#8f8993"/><circle cx="293.08" cy="404.67" r="1.85" fill="#8d5d8b"/><circle cx="291.61" cy="392.21" r="1.55" fill="#97919b"/><circle cx="317.62" cy="392.6" r="1.44" fill="#8a848e"/><circle cx="307.73" cy="432.29" r="1.75" fill="#c2bcc6"/><circle cx="299.57" cy="445.24" r="1.37" fill="#aaa4ae"/><circle cx="296.23" cy="439.71" r="1.77" fill="#cdc7d1"/><circle cx="283.69" cy="454.12" r="1.61" fill="#98929c"/><circle cx="300.94" cy="456.38" r="1.72" fill="#cac4ce"/><circle cx="292.15" cy="446.6" r="1.45" fill="#79737d"/><circle cx="290.6" cy="452.71" r="1.52" fill="#bfb9c3"/><circle cx="301.56" cy="391.75" r="1.72" fill="#a474a2"/><circle cx="288.22" cy="407.03" r="1.79" fill="#b0aab4"/><circle cx="301.75" cy="436.85" r="1.39" fill="#aca6b0"/><circle cx="313" cy="414.08" r="1.68" fill="#c9c3cd"/><circle cx="292.21" cy="420.3" r="1.49" fill="#bcb6c0"/><circle cx="318.75" cy="443.61" r="1.6" fill="#a1719f"/><circle cx="280.23" cy="419.19" r="1.4" fill="#b8b2bc"/><circle cx="317.8" cy="402.22" r="1.79" fill="#bbb5bf"/><circle cx="296.42" cy="401.92" r="1.5" fill="#9c96a0"/><circle cx="305.13" cy="410.74" r="1.69" fill="#c595c3"/><circle cx="293.15" cy="442.87" r="1.43" fill="#bcb6c0"/><circle cx="318.7" cy="422.4" r="1.56" fill="#b7b1bb"/><circle cx="309.96" cy="414.65" r="1.74" fill="#8c8690"/><circle cx="292.37" cy="437.02" r="1.52" fill="#827c86"/><circle cx="282.09" cy="438.75" r="1.43" fill="#837d87"/><circle cx="313.41" cy="400.39" r="1.66" fill="#99939d"/><circle cx="307.62" cy="454.74" r="1.72" fill="#b7b1bb"/><circle cx="287.56" cy="454.24" r="1.68" fill="#b3adb7"/><circle cx="288.6" cy="419.67" r="1.8" fill="#78727c"/><circle cx="306.91" cy="429.03" r="1.59" fill="#ada7b1"/><circle cx="284.19" cy="423.55" r="1.42" fill="#bbb5bf"/><circle cx="302.13" cy="432.85" r="1.67" fill="#78727c"/><circle cx="287.76" cy="434.9" r="1.68" fill="#96909a"/><circle cx="307.66" cy="438.2" r="1.36" fill="#7e7882"/><circle cx="313.44" cy="410.06" r="1.39" fill="#beb8c2"/><circle cx="288.19" cy="449.73" r="1.45" fill="#966694"/><circle cx="318.75" cy="433.55" r="1.63" fill="#b2acb6"/><circle cx="298.36" cy="418.15" r="1.72" fill="#a29ca6"/><circle cx="290.06" cy="423.19" r="1.57" fill="#938d97"/><circle cx="304.99" cy="445.13" r="1.61" fill="#a09aa4"/><circle cx="280.72" cy="412.1" r="1.73" fill="#b0aab4"/><circle cx="318.49" cy="452.02" r="1.38" fill="#c090be"/><circle cx="296.4" cy="395.08" r="1.61" fill="#a49ea8"/><circle cx="294.22" cy="416.29" r="1.5" fill="#beb8c2"/><circle cx="307.91" cy="412.56" r="1.83" fill="#7a747e"/><circle cx="296.44" cy="434.05" r="1.83" fill="#908a94"/><circle cx="314.22" cy="397.44" r="1.49" fill="#aea8b2"/><circle cx="292.06" cy="427.78" r="1.44" fill="#928c96"/><circle cx="301.27" cy="401.92" r="1.38" fill="#7f7983"/><circle cx="280.49" cy="446.59" r="1.83" fill="#b8b2bc"/><circle cx="292.13" cy="433.78" r="1.72" fill="#b3adb7"/><circle cx="318.06" cy="446.58" r="1.54" fill="#8a848e"/><circle cx="282.18" cy="430.18" r="1.46" fill="#c4bec8"/><circle cx="311.47" cy="454.97" r="1.37" fill="#b484b2"/><circle cx="316.58" cy="411.99" r="1.6" fill="#a6a0aa"/><circle cx="307.69" cy="394.02" r="1.7" fill="#b7b1bb"/><circle cx="310.27" cy="426.87" r="1.73" fill="#bbb5bf"/><circle cx="280.22" cy="454.72" r="1.44" fill="#8b858f"/><circle cx="289.6" cy="400.08" r="1.66" fill="#857f89"/><circle cx="305.43" cy="448.04" r="1.35" fill="#817b85"/><circle cx="303.77" cy="438.89" r="1.84" fill="#aba5af"/><circle cx="296.41" cy="456.29" r="1.64" fill="#8e8892"/><circle cx="302.63" cy="428.1" r="1.52" fill="#b787b5"/><circle cx="294.17" cy="453.76" r="1.44" fill="#aaa4ae"/><circle cx="293.62" cy="408.25" r="1.36" fill="#bcb6c0"/><circle cx="312.42" cy="445.5" r="1.37" fill="#9e98a2"/><circle cx="308.86" cy="417.76" r="1.45" fill="#aba5af"/><circle cx="295.35" cy="427.91" r="1.53" fill="#b8b2bc"/><circle cx="281.64" cy="400.64" r="1.49" fill="#b9b3bd"/><circle cx="290.61" cy="410.58" r="1.37" fill="#c1bbc5"/><circle cx="311.81" cy="449.47" r="1.67" fill="#87818b"/><circle cx="281.79" cy="397.74" r="1.77" fill="#a59fa9"/><circle cx="295.68" cy="445.2" r="1.83" fill="#aba5af"/><circle cx="298.06" cy="448.26" r="1.43" fill="#9f99a3"/><circle cx="287.64" cy="411.89" r="1.45" fill="#d3a3d1"/><circle cx="290.91" cy="440.37" r="1.5" fill="#c4bec8"/><circle cx="312.97" cy="392.16" r="1.63" fill="#c3bdc7"/><circle cx="310.38" cy="439.11" r="1.49" fill="#a8a2ac"/><circle cx="305.34" cy="392.21" r="1.4" fill="#908a94"/><circle cx="287.32" cy="446.21" r="1.59" fill="#b0aab4"/><circle cx="285.21" cy="403.25" r="1.64" fill="#beb8c2"/><circle cx="314.04" cy="403.97" r="1.59" fill="#9d97a1"/><circle cx="318.79" cy="409.95" r="1.53" fill="#bfb9c3"/><circle cx="295.22" cy="398.62" r="1.61" fill="#a777a5"/><circle cx="310.48" cy="410.71" r="1.68" fill="#c0bac4"/><circle cx="298.2" cy="411.32" r="1.39" fill="#7f7983"/><circle cx="306.36" cy="451.63" r="1.66" fill="#817b85"/><circle cx="307.48" cy="398.21" r="1.76" fill="#cac4ce"/><circle cx="312.39" cy="419.04" r="1.39" fill="#96909a"/><circle cx="293.86" cy="431" r="1.83" fill="#87818b"/><circle cx="314.11" cy="434.68" r="1.61" fill="#8e8892"/><circle cx="294.96" cy="390.66" r="1.63" fill="#bb8bb9"/><circle cx="300.74" cy="421.73" r="1.37" fill="#aca6b0"/><circle cx="294.4" cy="424.87" r="1.44" fill="#ada7b1"/><circle cx="317.56" cy="407.01" r="1.75" fill="#aaa4ae"/><circle cx="314.53" cy="448.06" r="1.43" fill="#97919b"/><circle cx="302.92" cy="404.5" r="1.57" fill="#aaa4ae"/><circle cx="317.57" cy="455.8" r="1.54" fill="#8e8892"/><circle cx="287.25" cy="422.51" r="1.43" fill="#8d8791"/><circle cx="313.62" cy="427.3" r="1.62" fill="#a8a2ac"/><circle cx="310.93" cy="403.8" r="1.69" fill="#c0bac4"/><circle cx="283.29" cy="448.07" r="1.5" fill="#9b959f"/><circle cx="295.2" cy="420.19" r="1.68" fill="#807a84"/><circle cx="318.32" cy="419.51" r="1.62" fill="#958f99"/><circle cx="280.54" cy="422.69" r="1.42" fill="#b2acb6"/><circle cx="292.45" cy="400.45" r="1.53" fill="#cf9fcd"/><circle cx="301.38" cy="414.18" r="1.82" fill="#7e7882"/><circle cx="316.42" cy="430.91" r="1.6" fill="#a9a3ad"/><circle cx="309.27" cy="407.58" r="1.65" fill="#928c96"/><circle cx="286.6" cy="440.59" r="1.7" fill="#9d97a1"/><circle cx="280.29" cy="441.83" r="1.39" fill="#b3adb7"/><circle cx="312.56" cy="437.21" r="1.43" fill="#afa9b3"/><circle cx="299.69" cy="405.03" r="1.56" fill="#9c96a0"/><circle cx="318.53" cy="440.25" r="1.71" fill="#cbc5cf"/><circle cx="311.85" cy="441.76" r="1.83" fill="#b6b0ba"/><circle cx="284.84" cy="407.61" r="1.65" fill="#938d97"/><circle cx="311.47" cy="423.52" r="1.5" fill="#c2bcc6"/><circle cx="305.24" cy="434.2" r="1.4" fill="#86808a"/><circle cx="290.68" cy="417.32" r="1.49" fill="#a09aa4"/><circle cx="292.12" cy="456.01" r="1.71" fill="#86808a"/><circle cx="317.98" cy="415.05" r="1.5" fill="#9a949e"/><circle cx="316.71" cy="399.36" r="1.47" fill="#aca6b0"/><circle cx="296.54" cy="406.47" r="1.82" fill="#bbb5bf"/><circle cx="305.58" cy="402.39" r="1.47" fill="#a8a2ac"/><circle cx="301.33" cy="409.92" r="1.52" fill="#d0a0ce"/><circle cx="308.21" cy="449.42" r="1.66" fill="#908a94"/><circle cx="314.71" cy="454.7" r="1.49" fill="#bdb7c1"/><circle cx="298.33" cy="441.95" r="1.38" fill="#a979a7"/><circle cx="310.55" cy="398.67" r="1.5" fill="#8b858f"/><circle cx="287.56" cy="394.46" r="1.85" fill="#87818b"/><circle cx="304.56" cy="407.62" r="1.53" fill="#bcb6c0"/><circle cx="310.16" cy="430.34" r="1.49" fill="#b4aeb8"/><circle cx="298.9" cy="436.07" r="1.8" fill="#a09aa4"/><circle cx="315.44" cy="443.94" r="1.36" fill="#aca6b0"/><circle cx="291.35" cy="449.9" r="1.41" fill="#827c86"/><circle cx="304.56" cy="425.29" r="1.4" fill="#847e88"/><circle cx="291.55" cy="413.46" r="1.67" fill="#cbc5cf"/><circle cx="285.13" cy="414.64" r="1.74" fill="#9d97a1"/><circle cx="283.78" cy="420.56" r="1.65" fill="#d8a8d6"/><circle cx="316.02" cy="390.09" r="1.61" fill="#837d87"/><circle cx="283.04" cy="445.16" r="1.81" fill="#817b85"/><circle cx="283.61" cy="427.17" r="1.57" fill="#99939d"/><circle cx="309.85" cy="452.31" r="1.63" fill="#c9c3cd"/><circle cx="287.27" cy="429.13" r="1.41" fill="#ce9ecc"/><circle cx="303.92" cy="421.68" r="1.62" fill="#a59fa9"/><circle cx="307.59" cy="390.06" r="1.59" fill="#9b959f"/><circle cx="299.2" cy="432.97" r="1.81" fill="#847e88"/><circle cx="284.6" cy="400.21" r="1.68" fill="#847e88"/><circle cx="298.38" cy="392.93" r="1.78" fill="#c0bac4"/><circle cx="280.14" cy="391.74" r="1.45" fill="#8a848e"/><circle cx="295.69" cy="436.86" r="1.81" fill="#a59fa9"/></g>
</g>
<rect x="211" y="424.7" width="32" height="32.3" fill="#fff"/>
<text font-size="9.38" fill="#c33c9c" transform="translate(211.3 433.8) scale(0.912 1)" style="stroke:#c33c9c">GATA-1</text>
<text font-size="9.38" fill="#35b0e6" transform="translate(211.3 443.5) scale(0.912 1)" style="stroke:#35b0e6">GPIX</text>
<text font-size="9.38" fill="#b4b4b4" transform="translate(211.3 453.5) scale(0.912 1)" style="stroke:#b4b4b4">DAPI</text>
<text font-size="8.14" text-anchor="middle" font-style="italic" transform="translate(206.3 351) rotate(-90) scale(0.912 1)">WT</text>
<text font-size="8.14" text-anchor="middle" font-style="italic" transform="translate(206.3 431) rotate(-90) scale(0.912 1)">Mpig6b<tspan font-size="0.62em" dy="-0.42em">mut</tspan></text>
<text font-size="11.86" font-weight="bold" fill="#000" transform="translate(324.6 314.4) scale(0.912 1)">G</text>
<rect x="375.65" y="345.84" width="6.9" height="23.76" fill="#e2808f"/>
<rect x="386.95" y="361.01" width="6.9" height="8.59" fill="#8eb0d0"/>
<rect x="398.25" y="348.52" width="6.9" height="21.08" fill="#e2808f"/>
<rect x="409.55" y="360.04" width="6.9" height="9.56" fill="#8eb0d0"/>
<path d="M379.1 345.84V337.31M377.5 337.31H380.7" stroke="#231f20" stroke-width="0.8" fill="none"/>
<path d="M390.4 361.01V354.37M388.8 354.37H392" stroke="#231f20" stroke-width="0.8" fill="none"/>
<path d="M401.7 348.52V339.51M400.1 339.51H403.3" stroke="#231f20" stroke-width="0.8" fill="none"/>
<path d="M413 360.04V353.52M411.4 353.52H414.6" stroke="#231f20" stroke-width="0.8" fill="none"/>
<g fill="#d0052b"><circle cx="379.1" cy="334.69" r="1.7"/><circle cx="377.3" cy="340.48" r="1.7"/><circle cx="377.3" cy="347.49" r="1.7"/><circle cx="380.9" cy="349.44" r="1.7"/><circle cx="380.3" cy="353.88" r="1.7"/></g>
<g fill="#0f4e90"><circle cx="390.4" cy="351.51" r="1.7"/><circle cx="388.6" cy="356.99" r="1.7"/><circle cx="388.9" cy="361.8" r="1.7"/><circle cx="388.4" cy="364.48" r="1.7"/><circle cx="392.2" cy="364.48" r="1.7"/></g>
<g fill="#d0052b"><circle cx="399.7" cy="339.51" r="1.7"/><circle cx="403.7" cy="339.51" r="1.7"/><circle cx="403.5" cy="345.6" r="1.7"/><circle cx="399.7" cy="356.99" r="1.7"/><circle cx="403.7" cy="356.99" r="1.7"/></g>
<g fill="#0f4e90"><circle cx="413" cy="351.32" r="1.7"/><circle cx="413" cy="355.59" r="1.7"/><circle cx="411.5" cy="361.07" r="1.7"/><circle cx="411" cy="363.51" r="1.7"/><circle cx="415" cy="362.9" r="1.7"/></g>
<line x1="373.6" y1="320.5" x2="373.6" y2="370.1" stroke="#231f20" stroke-width="1"/>
<line x1="373.6" y1="369.6" x2="418.45" y2="369.6" stroke="#231f20" stroke-width="1"/>
<text font-size="7.91" text-anchor="end" transform="translate(368 372.1)">0</text>
<text font-size="7.91" text-anchor="end" transform="translate(368 356.87)">250</text>
<text font-size="7.91" text-anchor="end" transform="translate(368 341.64)">500</text>
<text font-size="7.91" text-anchor="end" transform="translate(368 326.41)">750</text>
<path d="M373.6 369.6h-2.2M373.6 354.37h-2.2M373.6 339.14h-2.2M373.6 323.91h-2.2" stroke="#231f20" stroke-width="0.8" fill="none"/>
<path d="M378.85 329.8V327.2H391.4V329.8" fill="none" stroke="#231f20" stroke-width="0.9"/>
<circle cx="383.62" cy="323.3" r="0.8"/><circle cx="386.62" cy="323.3" r="0.8"/>
<path d="M401.45 335.4V332.8H414V335.4" fill="none" stroke="#231f20" stroke-width="0.9"/>
<circle cx="407.73" cy="328.9" r="0.8"/>
<text font-size="8.36" text-anchor="middle" transform="translate(337.7 345.05) rotate(-90) scale(0.711 1)" style="stroke-width:.42px">Peak area</text>
<text font-size="8.36" text-anchor="middle" transform="translate(347 345.05) rotate(-90) scale(0.775 1)" style="stroke-width:.42px">GATA-1 [&#215;10<tspan font-size="0.65em" dy="-0.42em">3</tspan><tspan dy="0.42em">]</tspan></text>
<rect x="375.65" y="412.3" width="6.9" height="26.2" fill="#e2808f"/>
<rect x="386.95" y="425.01" width="6.9" height="13.49" fill="#8eb0d0"/>
<rect x="398.25" y="413.7" width="6.9" height="24.8" fill="#e2808f"/>
<rect x="409.55" y="425.79" width="6.9" height="12.71" fill="#8eb0d0"/>
<path d="M379.1 412.3V403.83M377.5 403.83H380.7" stroke="#231f20" stroke-width="0.8" fill="none"/>
<path d="M390.4 425.01V423.81M388.8 423.81H392" stroke="#231f20" stroke-width="0.8" fill="none"/>
<path d="M401.7 413.7V409.12M400.1 409.12H403.3" stroke="#231f20" stroke-width="0.8" fill="none"/>
<path d="M413 425.79V424.15M411.4 424.15H414.6" stroke="#231f20" stroke-width="0.8" fill="none"/>
<g fill="#d0052b"><circle cx="379.1" cy="399.8" r="1.7"/><circle cx="377.1" cy="410.49" r="1.7"/><circle cx="379.1" cy="412.88" r="1.7"/><circle cx="381.1" cy="412.88" r="1.7"/><circle cx="380.3" cy="418" r="1.7"/></g>
<g fill="#0f4e90"><circle cx="390.4" cy="422.44" r="1.7"/><circle cx="388.4" cy="423.47" r="1.7"/><circle cx="392.4" cy="424.15" r="1.7"/><circle cx="389.4" cy="424.84" r="1.7"/><circle cx="391.4" cy="425.52" r="1.7"/></g>
<g fill="#d0052b"><circle cx="401.7" cy="404.61" r="1.7"/><circle cx="399.9" cy="407" r="1.7"/><circle cx="403.5" cy="411.17" r="1.7"/><circle cx="400.5" cy="416.3" r="1.7"/><circle cx="402.9" cy="421.01" r="1.7"/></g>
<g fill="#0f4e90"><circle cx="413" cy="421.32" r="1.7"/><circle cx="411" cy="424.15" r="1.7"/><circle cx="415" cy="425.52" r="1.7"/><circle cx="412" cy="426.54" r="1.7"/><circle cx="414" cy="427.23" r="1.7"/></g>
<line x1="373.6" y1="392.3" x2="373.6" y2="439" stroke="#231f20" stroke-width="1"/>
<line x1="373.6" y1="438.5" x2="418.45" y2="438.5" stroke="#231f20" stroke-width="1"/>
<text font-size="7.91" text-anchor="end" transform="translate(368 441)">0</text>
<text font-size="7.91" text-anchor="end" transform="translate(368 432.46)">250</text>
<text font-size="7.91" text-anchor="end" transform="translate(368 423.92)">500</text>
<text font-size="7.91" text-anchor="end" transform="translate(368 415.38)">750</text>
<text font-size="7.91" text-anchor="end" transform="translate(368 406.84)">1000</text>
<text font-size="7.91" text-anchor="end" transform="translate(368 398.3)">1250</text>
<path d="M373.6 438.5h-2.2M373.6 429.96h-2.2M373.6 421.42h-2.2M373.6 412.88h-2.2M373.6 404.34h-2.2M373.6 395.8h-2.2" stroke="#231f20" stroke-width="0.8" fill="none"/>
<path d="M378.85 396.8V394.2H391.4V396.8" fill="none" stroke="#231f20" stroke-width="0.9"/>
<circle cx="382.12" cy="390.3" r="0.8"/><circle cx="385.12" cy="390.3" r="0.8"/><circle cx="388.12" cy="390.3" r="0.8"/>
<path d="M401.45 401.3V398.7H414V401.3" fill="none" stroke="#231f20" stroke-width="0.9"/>
<circle cx="406.23" cy="394.8" r="0.8"/><circle cx="409.23" cy="394.8" r="0.8"/>
<text font-size="8.36" text-anchor="middle" transform="translate(332.7 415.4) rotate(-90) scale(0.711 1)" style="stroke-width:.42px">Peak area</text>
<text font-size="8.36" text-anchor="middle" transform="translate(342.7 415.4) rotate(-90) scale(0.775 1)" style="stroke-width:.42px">Jak2 [&#215;10<tspan font-size="0.65em" dy="-0.42em">3</tspan><tspan dy="0.42em">]</tspan></text>
<rect x="469.25" y="428.62" width="6.9" height="10.08" fill="#e2808f"/>
<rect x="480.55" y="435.82" width="6.9" height="2.88" fill="#8eb0d0"/>
<rect x="491.85" y="414.22" width="6.9" height="24.48" fill="#e2808f"/>
<rect x="503.15" y="428.62" width="6.9" height="10.08" fill="#8eb0d0"/>
<path d="M472.7 428.62V423.72M471.1 423.72H474.3" stroke="#231f20" stroke-width="0.8" fill="none"/>
<path d="M484 435.82V433.23M482.4 433.23H485.6" stroke="#231f20" stroke-width="0.8" fill="none"/>
<path d="M495.3 414.22V407.02M493.7 407.02H496.9" stroke="#231f20" stroke-width="0.8" fill="none"/>
<path d="M506.6 428.62V423.44M505 423.44H508.2" stroke="#231f20" stroke-width="0.8" fill="none"/>
<g fill="#d0052b"><circle cx="472.7" cy="422.86" r="1.7"/><circle cx="470.7" cy="426.32" r="1.7"/><circle cx="474.7" cy="430.06" r="1.7"/><circle cx="471.7" cy="430.92" r="1.7"/><circle cx="473.9" cy="432.94" r="1.7"/></g>
<g fill="#0f4e90"><circle cx="484" cy="433.23" r="1.7"/><circle cx="482" cy="435.24" r="1.7"/><circle cx="486" cy="436.97" r="1.7"/><circle cx="483" cy="437.84" r="1.7"/><circle cx="485.2" cy="436.4" r="1.7"/></g>
<g fill="#d0052b"><circle cx="495.3" cy="404.72" r="1.7"/><circle cx="493.5" cy="408.75" r="1.7"/><circle cx="495.3" cy="414.22" r="1.7"/><circle cx="493.3" cy="421.42" r="1.7"/><circle cx="497.3" cy="421.42" r="1.7"/></g>
<g fill="#0f4e90"><circle cx="506.6" cy="421.42" r="1.7"/><circle cx="504.8" cy="425.16" r="1.7"/><circle cx="504.6" cy="428.62" r="1.7"/><circle cx="508.6" cy="430.64" r="1.7"/><circle cx="507.8" cy="430.06" r="1.7"/></g>
<line x1="467.2" y1="392.3" x2="467.2" y2="439.2" stroke="#231f20" stroke-width="1"/>
<line x1="467.2" y1="438.7" x2="512.05" y2="438.7" stroke="#231f20" stroke-width="1"/>
<text font-size="7.91" text-anchor="end" transform="translate(461.6 441.2)">0</text>
<text font-size="7.91" text-anchor="end" transform="translate(461.6 426.8)">50</text>
<text font-size="7.91" text-anchor="end" transform="translate(461.6 412.4)">100</text>
<text font-size="7.91" text-anchor="end" transform="translate(461.6 398)">150</text>
<path d="M467.2 438.7h-2.2M467.2 424.3h-2.2M467.2 409.9h-2.2M467.2 395.5h-2.2" stroke="#231f20" stroke-width="0.8" fill="none"/>
<path d="M472.45 417.1V414.5H485V417.1" fill="none" stroke="#231f20" stroke-width="0.9"/>
<circle cx="478.73" cy="410.6" r="0.8"/>
<path d="M495.05 401.8V399.2H507.6V401.8" fill="none" stroke="#231f20" stroke-width="0.9"/>
<circle cx="498.33" cy="395.3" r="0.8"/><circle cx="501.33" cy="395.3" r="0.8"/><circle cx="504.33" cy="395.3" r="0.8"/>
<text font-size="8.36" text-anchor="middle" transform="translate(431.7 415.5) rotate(-90) scale(0.711 1)" style="stroke-width:.42px">Peak area</text>
<text font-size="8.36" text-anchor="middle" transform="translate(443 415.5) rotate(-90) scale(0.775 1)" style="stroke-width:.42px">p-Jak2 [&#215;10<tspan font-size="0.65em" dy="-0.42em">3</tspan><tspan dy="0.42em">]</tspan></text>
<rect x="375.65" y="480.2" width="6.9" height="28.8" fill="#e2808f"/>
<rect x="386.95" y="483.99" width="6.9" height="25.01" fill="#8eb0d0"/>
<rect x="398.25" y="482.1" width="6.9" height="26.9" fill="#e2808f"/>
<rect x="409.55" y="488.79" width="6.9" height="20.21" fill="#8eb0d0"/>
<path d="M379.1 480.2V471.51M377.5 471.51H380.7" stroke="#231f20" stroke-width="0.8" fill="none"/>
<path d="M390.4 483.99V478.31M388.8 478.31H392" stroke="#231f20" stroke-width="0.8" fill="none"/>
<path d="M401.7 482.1V478.26M400.1 478.26H403.3" stroke="#231f20" stroke-width="0.8" fill="none"/>
<path d="M413 488.79V483.99M411.4 483.99H414.6" stroke="#231f20" stroke-width="0.8" fill="none"/>
<g fill="#d0052b"><circle cx="379.1" cy="468.69" r="1.7"/><circle cx="377.3" cy="474.4" r="1.7"/><circle cx="380.9" cy="476.55" r="1.7"/><circle cx="377.1" cy="485.99" r="1.7"/><circle cx="381.1" cy="485.99" r="1.7"/></g>
<g fill="#0f4e90"><circle cx="390.4" cy="478.31" r="1.7"/><circle cx="388.4" cy="481.67" r="1.7"/><circle cx="392.4" cy="481.67" r="1.7"/><circle cx="389.2" cy="485.94" r="1.7"/><circle cx="391.6" cy="490.79" r="1.7"/></g>
<g fill="#d0052b"><circle cx="399.7" cy="478.26" r="1.7"/><circle cx="403.7" cy="478.26" r="1.7"/><circle cx="403.5" cy="480.31" r="1.7"/><circle cx="400.2" cy="485.09" r="1.7"/><circle cx="403.2" cy="485.09" r="1.7"/></g>
<g fill="#0f4e90"><circle cx="413" cy="484.06" r="1.7"/><circle cx="411.2" cy="486.8" r="1.7"/><circle cx="411" cy="489.7" r="1.7"/><circle cx="411.8" cy="491.92" r="1.7"/><circle cx="415" cy="492.77" r="1.7"/></g>
<line x1="373.6" y1="463.5" x2="373.6" y2="509.5" stroke="#231f20" stroke-width="1"/>
<line x1="373.6" y1="509" x2="418.45" y2="509" stroke="#231f20" stroke-width="1"/>
<text font-size="7.91" text-anchor="end" transform="translate(368 511.5)">0</text>
<text font-size="7.91" text-anchor="end" transform="translate(368 502.96)">500</text>
<text font-size="7.91" text-anchor="end" transform="translate(368 494.42)">1000</text>
<text font-size="7.91" text-anchor="end" transform="translate(368 485.88)">1500</text>
<text font-size="7.91" text-anchor="end" transform="translate(368 477.34)">2000</text>
<text font-size="7.91" text-anchor="end" transform="translate(368 468.8)">2500</text>
<path d="M373.6 509h-2.2M373.6 500.46h-2.2M373.6 491.92h-2.2M373.6 483.38h-2.2M373.6 474.84h-2.2M373.6 466.3h-2.2" stroke="#231f20" stroke-width="0.8" fill="none"/>
<text font-size="8.36" text-anchor="middle" transform="translate(332.7 486.25) rotate(-90) scale(0.711 1)" style="stroke-width:.42px">Peak area</text>
<text font-size="8.36" text-anchor="middle" transform="translate(342.7 486.25) rotate(-90) scale(0.775 1)" style="stroke-width:.42px">STAT5a/b [&#215;10<tspan font-size="0.65em" dy="-0.42em">3</tspan><tspan dy="0.42em">]</tspan></text>
<rect x="469.25" y="504.6" width="6.9" height="3.5" fill="#e2808f"/>
<rect x="480.55" y="505.77" width="6.9" height="2.33" fill="#8eb0d0"/>
<rect x="491.85" y="474.18" width="6.9" height="33.92" fill="#e2808f"/>
<rect x="503.15" y="488.81" width="6.9" height="19.29" fill="#8eb0d0"/>
<path d="M472.7 504.6V502.8M471.1 502.8H474.3" stroke="#231f20" stroke-width="0.8" fill="none"/>
<path d="M484 505.77V504.71M482.4 504.71H485.6" stroke="#231f20" stroke-width="0.8" fill="none"/>
<path d="M495.3 474.18V469.62M493.7 469.62H496.9" stroke="#231f20" stroke-width="0.8" fill="none"/>
<path d="M506.6 488.81V482.66M505 482.66H508.2" stroke="#231f20" stroke-width="0.8" fill="none"/>
<g fill="#d0052b"><circle cx="472.7" cy="501.32" r="1.7"/><circle cx="470.7" cy="503.33" r="1.7"/><circle cx="474.7" cy="504.39" r="1.7"/><circle cx="471.5" cy="505.98" r="1.7"/><circle cx="473.9" cy="503.86" r="1.7"/></g>
<g fill="#0f4e90"><circle cx="484" cy="502.8" r="1.7"/><circle cx="482" cy="504.92" r="1.7"/><circle cx="486" cy="505.98" r="1.7"/><circle cx="482.8" cy="507.57" r="1.7"/><circle cx="485.2" cy="506.83" r="1.7"/></g>
<g fill="#d0052b"><circle cx="495.3" cy="468.56" r="1.7"/><circle cx="493.3" cy="471" r="1.7"/><circle cx="497.3" cy="471" r="1.7"/><circle cx="494.1" cy="476.3" r="1.7"/><circle cx="496.5" cy="478.21" r="1.7"/></g>
<g fill="#0f4e90"><circle cx="506.6" cy="482.66" r="1.7"/><circle cx="504.8" cy="483.93" r="1.7"/><circle cx="504.6" cy="488.81" r="1.7"/><circle cx="505.4" cy="493.68" r="1.7"/><circle cx="508.6" cy="492.2" r="1.7"/></g>
<line x1="467.2" y1="462.3" x2="467.2" y2="508.6" stroke="#231f20" stroke-width="1"/>
<line x1="467.2" y1="508.1" x2="512.05" y2="508.1" stroke="#231f20" stroke-width="1"/>
<text font-size="7.91" text-anchor="end" transform="translate(461.6 510.6)">0</text>
<text font-size="7.91" text-anchor="end" transform="translate(461.6 500)">100</text>
<text font-size="7.91" text-anchor="end" transform="translate(461.6 489.4)">200</text>
<text font-size="7.91" text-anchor="end" transform="translate(461.6 478.8)">300</text>
<text font-size="7.91" text-anchor="end" transform="translate(461.6 468.2)">400</text>
<path d="M467.2 508.1h-2.2M467.2 497.5h-2.2M467.2 486.9h-2.2M467.2 476.3h-2.2M467.2 465.7h-2.2" stroke="#231f20" stroke-width="0.8" fill="none"/>
<path d="M495.05 466.8V464.2H507.6V466.8" fill="none" stroke="#231f20" stroke-width="0.9"/>
<circle cx="498.33" cy="460.3" r="0.8"/><circle cx="501.33" cy="460.3" r="0.8"/><circle cx="504.33" cy="460.3" r="0.8"/>
<text font-size="8.36" text-anchor="middle" transform="translate(431.7 485.2) rotate(-90) scale(0.711 1)" style="stroke-width:.42px">Peak area</text>
<text font-size="8.36" text-anchor="middle" transform="translate(443 485.2) rotate(-90) scale(0.775 1)" style="stroke-width:.42px">p-STAT5a/b [&#215;10<tspan font-size="0.65em" dy="-0.42em">3</tspan><tspan dy="0.42em">]</tspan></text>
<rect x="375.65" y="542.3" width="6.9" height="35.8" fill="#e2808f"/>
<rect x="386.95" y="553.8" width="6.9" height="24.3" fill="#8eb0d0"/>
<rect x="398.25" y="548.1" width="6.9" height="30" fill="#e2808f"/>
<rect x="409.55" y="561.5" width="6.9" height="16.6" fill="#8eb0d0"/>
<path d="M379.1 542.3V538.8M377.5 538.8H380.7" stroke="#231f20" stroke-width="0.8" fill="none"/>
<path d="M390.4 553.8V550.58M388.8 550.58H392" stroke="#231f20" stroke-width="0.8" fill="none"/>
<path d="M401.7 548.1V547.48M400.1 547.48H403.3" stroke="#231f20" stroke-width="0.8" fill="none"/>
<path d="M413 561.5V557.29M411.4 557.29H414.6" stroke="#231f20" stroke-width="0.8" fill="none"/>
<g fill="#d0052b"><circle cx="379.1" cy="538.8" r="1.7"/><circle cx="377.3" cy="542.7" r="1.7"/></g>
<g fill="#0f4e90"><circle cx="390.4" cy="550.58" r="1.7"/><circle cx="388.6" cy="554.36" r="1.7"/></g>
<g fill="#d0052b"><circle cx="399.5" cy="548.17" r="1.7"/><circle cx="403.9" cy="547.48" r="1.7"/></g>
<g fill="#0f4e90"><circle cx="413" cy="557.29" r="1.7"/><circle cx="411.2" cy="562.1" r="1.7"/></g>
<line x1="373.6" y1="532" x2="373.6" y2="578.6" stroke="#231f20" stroke-width="1"/>
<line x1="373.6" y1="578.1" x2="418.45" y2="578.1" stroke="#231f20" stroke-width="1"/>
<text font-size="7.91" text-anchor="end" transform="translate(368 580.6)">0</text>
<text font-size="7.91" text-anchor="end" transform="translate(368 572)">1000</text>
<text font-size="7.91" text-anchor="end" transform="translate(368 563.4)">2000</text>
<text font-size="7.91" text-anchor="end" transform="translate(368 554.8)">3000</text>
<text font-size="7.91" text-anchor="end" transform="translate(368 546.2)">4000</text>
<text font-size="7.91" text-anchor="end" transform="translate(368 537.6)">5000</text>
<path d="M373.6 578.1h-2.2M373.6 569.5h-2.2M373.6 560.9h-2.2M373.6 552.3h-2.2M373.6 543.7h-2.2M373.6 535.1h-2.2" stroke="#231f20" stroke-width="0.8" fill="none"/>
<path d="M378.85 536.6V534H391.4V536.6" fill="none" stroke="#231f20" stroke-width="0.9"/>
<circle cx="385.12" cy="530.1" r="0.8"/>
<path d="M401.45 541.8V539.2H414V541.8" fill="none" stroke="#231f20" stroke-width="0.9"/>
<circle cx="407.73" cy="535.3" r="0.8"/>
<text font-size="8.36" text-anchor="middle" transform="translate(332.7 555.05) rotate(-90) scale(0.711 1)" style="stroke-width:.42px">Peak area</text>
<text font-size="8.36" text-anchor="middle" transform="translate(342.7 555.05) rotate(-90) scale(0.775 1)" style="stroke-width:.42px">Shp2 [&#215;10<tspan font-size="0.65em" dy="-0.42em">3</tspan><tspan dy="0.42em">]</tspan></text>
<rect x="469.25" y="563.11" width="6.9" height="14.79" fill="#e2808f"/>
<rect x="480.55" y="568.47" width="6.9" height="9.43" fill="#8eb0d0"/>
<rect x="491.85" y="545.81" width="6.9" height="32.09" fill="#e2808f"/>
<rect x="503.15" y="558.26" width="6.9" height="19.64" fill="#8eb0d0"/>
<path d="M472.7 563.11V562.33M471.1 562.33H474.3" stroke="#231f20" stroke-width="0.8" fill="none"/>
<path d="M484 568.47V567.09M482.4 567.09H485.6" stroke="#231f20" stroke-width="0.8" fill="none"/>
<path d="M495.3 545.81V540.96M493.7 540.96H496.9" stroke="#231f20" stroke-width="0.8" fill="none"/>
<path d="M506.6 558.26V552.47M505 552.47H508.2" stroke="#231f20" stroke-width="0.8" fill="none"/>
<g fill="#d0052b"><circle cx="470.7" cy="563.11" r="1.7"/><circle cx="472.7" cy="563.11" r="1.7"/><circle cx="474.7" cy="563.11" r="1.7"/><circle cx="471.5" cy="567.95" r="1.7"/></g>
<g fill="#0f4e90"><circle cx="484" cy="565.44" r="1.7"/><circle cx="482" cy="567.09" r="1.7"/><circle cx="486" cy="567.95" r="1.7"/><circle cx="482.8" cy="568.47" r="1.7"/></g>
<g fill="#d0052b"><circle cx="495.3" cy="540.36" r="1.7"/><circle cx="493.3" cy="545.81" r="1.7"/><circle cx="497.3" cy="545.81" r="1.7"/><circle cx="494.1" cy="549.61" r="1.7"/><circle cx="496.5" cy="551.95" r="1.7"/></g>
<g fill="#0f4e90"><circle cx="506.6" cy="551.17" r="1.7"/><circle cx="504.8" cy="553.42" r="1.7"/><circle cx="504.6" cy="558.26" r="1.7"/><circle cx="505.4" cy="559.74" r="1.7"/><circle cx="508.6" cy="558.26" r="1.7"/></g>
<line x1="467.2" y1="532" x2="467.2" y2="578.4" stroke="#231f20" stroke-width="1"/>
<line x1="467.2" y1="577.9" x2="512.05" y2="577.9" stroke="#231f20" stroke-width="1"/>
<text font-size="7.91" text-anchor="end" transform="translate(461.6 580.4)">0</text>
<text font-size="7.91" text-anchor="end" transform="translate(461.6 571.75)">100</text>
<text font-size="7.91" text-anchor="end" transform="translate(461.6 563.1)">200</text>
<text font-size="7.91" text-anchor="end" transform="translate(461.6 554.45)">300</text>
<text font-size="7.91" text-anchor="end" transform="translate(461.6 545.8)">400</text>
<text font-size="7.91" text-anchor="end" transform="translate(461.6 537.15)">500</text>
<path d="M467.2 577.9h-2.2M467.2 569.25h-2.2M467.2 560.6h-2.2M467.2 551.95h-2.2M467.2 543.3h-2.2M467.2 534.65h-2.2" stroke="#231f20" stroke-width="0.8" fill="none"/>
<path d="M495.05 536.1V533.5H507.6V536.1" fill="none" stroke="#231f20" stroke-width="0.9"/>
<circle cx="498.33" cy="529.6" r="0.8"/><circle cx="501.33" cy="529.6" r="0.8"/><circle cx="504.33" cy="529.6" r="0.8"/>
<text font-size="8.36" text-anchor="middle" transform="translate(431.7 554.95) rotate(-90) scale(0.711 1)" style="stroke-width:.42px">Peak area</text>
<text font-size="8.36" text-anchor="middle" transform="translate(443 554.95) rotate(-90) scale(0.775 1)" style="stroke-width:.42px">p-Shp2 [&#215;10<tspan font-size="0.65em" dy="-0.42em">3</tspan><tspan dy="0.42em">]</tspan></text>
<text font-size="8.14" text-anchor="end" font-style="italic" transform="translate(382.6 586.5) rotate(-45) scale(0.912 1)">WT</text>
<text font-size="8.14" text-anchor="end" font-style="italic" transform="translate(393.9 586.5) rotate(-45) scale(0.912 1)">Mpig6b<tspan font-size="0.62em" dy="-0.42em">mut</tspan></text>
<text font-size="8.14" text-anchor="end" font-style="italic" transform="translate(405.2 586.5) rotate(-45) scale(0.912 1)">WT</text>
<text font-size="8.14" text-anchor="end" font-style="italic" transform="translate(416.5 586.5) rotate(-45) scale(0.912 1)">Mpig6b<tspan font-size="0.62em" dy="-0.42em">mut</tspan></text>
<text font-size="9.27" text-anchor="end" transform="translate(370.8 620) scale(0.775 1)" style="stroke-width:.42px">TPO</text>
<text font-size="8.36" text-anchor="middle" transform="translate(379.1 619.6) scale(0.912 1)">-</text>
<text font-size="8.36" text-anchor="middle" transform="translate(390.4 619.6) scale(0.912 1)">-</text>
<text font-size="8.36" text-anchor="middle" transform="translate(401.7 619.6) scale(0.912 1)">+</text>
<text font-size="8.36" text-anchor="middle" transform="translate(413 619.6) scale(0.912 1)">+</text>
<text font-size="8.14" text-anchor="end" font-style="italic" transform="translate(476.2 586.5) rotate(-45) scale(0.912 1)">WT</text>
<text font-size="8.14" text-anchor="end" font-style="italic" transform="translate(487.5 586.5) rotate(-45) scale(0.912 1)">Mpig6b<tspan font-size="0.62em" dy="-0.42em">mut</tspan></text>
<text font-size="8.14" text-anchor="end" font-style="italic" transform="translate(498.8 586.5) rotate(-45) scale(0.912 1)">WT</text>
<text font-size="8.14" text-anchor="end" font-style="italic" transform="translate(510.1 586.5) rotate(-45) scale(0.912 1)">Mpig6b<tspan font-size="0.62em" dy="-0.42em">mut</tspan></text>
<text font-size="9.27" text-anchor="end" transform="translate(464.4 620) scale(0.775 1)" style="stroke-width:.42px">TPO</text>
<text font-size="8.36" text-anchor="middle" transform="translate(472.7 619.6) scale(0.912 1)">-</text>
<text font-size="8.36" text-anchor="middle" transform="translate(484 619.6) scale(0.912 1)">-</text>
<text font-size="8.36" text-anchor="middle" transform="translate(495.3 619.6) scale(0.912 1)">+</text>
<text font-size="8.36" text-anchor="middle" transform="translate(506.6 619.6) scale(0.912 1)">+</text>
<text font-size="11.86" font-weight="bold" fill="#000" transform="translate(6.6 531.6) scale(0.912 1)">H</text>
<line x1="34.3" y1="535.2" x2="34.3" y2="636.1" stroke="#231f20" stroke-width="1.2"/>
<line x1="34.3" y1="635.6" x2="191" y2="635.6" stroke="#231f20" stroke-width="1.2"/>
<line x1="31.9" y1="635.6" x2="34.3" y2="635.6" stroke="#231f20" stroke-width="0.9"/>
<text font-size="7.4" text-anchor="end" transform="translate(28.4 638.2) scale(1.160 1)">0</text>
<line x1="31.9" y1="611.1" x2="34.3" y2="611.1" stroke="#231f20" stroke-width="0.9"/>
<text font-size="7.4" text-anchor="end" transform="translate(28.4 613.7) scale(1.160 1)">20</text>
<line x1="31.9" y1="586.6" x2="34.3" y2="586.6" stroke="#231f20" stroke-width="0.9"/>
<text font-size="7.4" text-anchor="end" transform="translate(28.4 589.2) scale(1.160 1)">40</text>
<line x1="31.9" y1="562.1" x2="34.3" y2="562.1" stroke="#231f20" stroke-width="0.9"/>
<text font-size="7.4" text-anchor="end" transform="translate(28.4 564.7) scale(1.160 1)">60</text>
<line x1="31.9" y1="537.6" x2="34.3" y2="537.6" stroke="#231f20" stroke-width="0.9"/>
<text font-size="7.4" text-anchor="end" transform="translate(28.4 540.2) scale(1.160 1)">80</text>
<path d="M48.35 599.83V592.6M45.65 592.6H51.05" stroke="#231f20" stroke-width="0.9" fill="none"/>
<path d="M58.25 589.05V584.15M55.55 584.15H60.95" stroke="#231f20" stroke-width="0.9" fill="none"/>
<rect x="43.4" y="599.83" width="9.9" height="35.77" fill="#c8142f"/>
<rect x="53.3" y="589.05" width="9.9" height="46.55" fill="#5b2669"/>
<line x1="53.3" y1="635.6" x2="53.3" y2="638.4" stroke="#231f20" stroke-width="0.9"/>
<text font-size="8.14" text-anchor="end" transform="translate(55.5 643.2) rotate(-45) scale(0.912 1)">Small</text>
<path d="M84.95 596.15V593.58M82.25 593.58H87.65" stroke="#231f20" stroke-width="0.9" fill="none"/>
<path d="M94.85 577.05V573.49M92.15 573.49H97.55" stroke="#231f20" stroke-width="0.9" fill="none"/>
<rect x="80" y="596.15" width="9.9" height="39.45" fill="#c8142f"/>
<rect x="89.9" y="577.05" width="9.9" height="58.55" fill="#5b2669"/>
<line x1="89.9" y1="635.6" x2="89.9" y2="638.4" stroke="#231f20" stroke-width="0.9"/>
<text font-size="8.14" text-anchor="end" transform="translate(92.1 643.2) rotate(-45) scale(0.912 1)">Medium</text>
<path d="M121.55 607.06V600.2M118.85 600.2H124.25" stroke="#231f20" stroke-width="0.9" fill="none"/>
<path d="M131.45 623.47V622.37M128.75 622.37H134.15" stroke="#231f20" stroke-width="0.9" fill="none"/>
<rect x="116.6" y="607.06" width="9.9" height="28.54" fill="#c8142f"/>
<rect x="126.5" y="623.47" width="9.9" height="12.13" fill="#5b2669"/>
<line x1="126.5" y1="635.6" x2="126.5" y2="638.4" stroke="#231f20" stroke-width="0.9"/>
<text font-size="8.14" text-anchor="end" transform="translate(128.7 643.2) rotate(-45) scale(0.912 1)">Big</text>
<path d="M158.15 620.04V616.74M155.45 616.74H160.85" stroke="#231f20" stroke-width="0.9" fill="none"/>
<path d="M168.05 633.03V631.93M165.35 631.93H170.75" stroke="#231f20" stroke-width="0.9" fill="none"/>
<rect x="153.2" y="620.04" width="9.9" height="15.56" fill="#c8142f"/>
<rect x="163.1" y="633.03" width="9.9" height="2.57" fill="#5b2669"/>
<line x1="163.1" y1="635.6" x2="163.1" y2="638.4" stroke="#231f20" stroke-width="0.9"/>
<text font-size="8.14" text-anchor="end" transform="translate(165.3 643.2) rotate(-45) scale(0.912 1)">SSC<tspan font-size="0.62em" dy="-0.42em">high</tspan></text>
<path d="M82.9 571.6V568.2H96.9V571.6" fill="none" stroke="#231f20" stroke-width="1"/>
<circle cx="89.9" cy="564.3" r="0.85"/>
<path d="M156 608.2V604.8H170.2V608.2" fill="none" stroke="#231f20" stroke-width="1"/>
<circle cx="163.1" cy="600.9" r="0.85"/>
<rect x="39.4" y="539.2" width="5.4" height="5" fill="#c8142f"/>
<rect x="39.4" y="550.7" width="5.4" height="5" fill="#5b2669"/>
<text font-size="7.46" font-style="italic" transform="translate(47.3 544.2) scale(0.912 1)">WT</text>
<text font-size="7.46" font-style="italic" transform="translate(47.3 555.6) scale(0.912 1)">Mpig6b<tspan font-size="0.62em" dy="-0.42em">&#8722;/&#8722;</tspan></text>
<text font-size="7.4" text-anchor="middle" transform="translate(12.9 585.3) rotate(-90) scale(0.850 1)" style="stroke-width:.42px">MK subsets [%]</text>
<rect x="0.5" y="0.5" width="519" height="667" fill="none" stroke="#000" stroke-width="1"/>
</svg></body></html>
